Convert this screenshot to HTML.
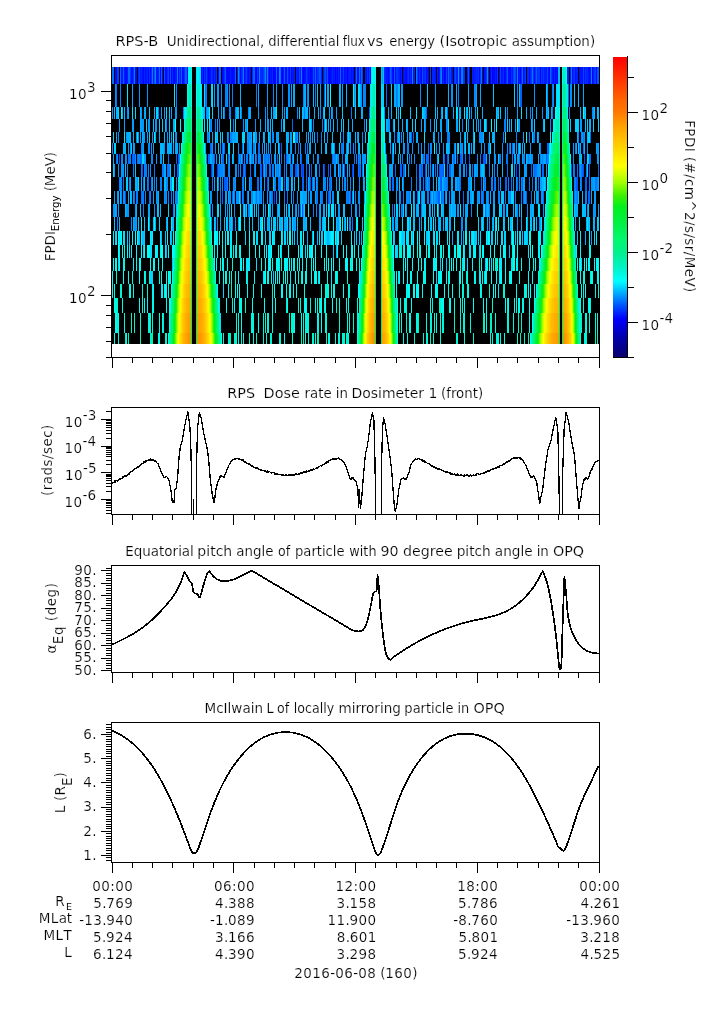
<!DOCTYPE html><html><head><meta charset="utf-8"><title>RPS-B plot</title>
<style>html,body{margin:0;padding:0;background:#fff;}svg{display:block;}text{white-space:pre;font-variant-ligatures:none;font-family:'DejaVu Sans', 'Liberation Sans', sans-serif;fill:#000;stroke:#fff;stroke-width:0.18px;}.sm{stroke:none;}</style></head><body>
<svg style="will-change:transform" width="725" height="1019" viewBox="0 0 725 1019">
<rect width="725" height="1019" fill="#fff"/>
<rect x="112" y="67" width="487" height="277" fill="#000"/>
<path fill="#0072ff" d="M112 67h1v17h-1zM481 67h1v17h-1zM428 143h1v11h-1zM154 164h1v13h-1zM250 164h1v13h-1zM435 164h1v13h-1zM466 164h1v13h-1zM123 177h1v14h-1zM393 177h1v14h-1zM529 177h1v14h-1zM256 191h1v13h-1z"/>
<path fill="#0070ff" d="M113 67h1v17h-1zM312 177h1v14h-1z"/>
<path fill="#000fff" d="M115 67h1v17h-1zM312 67h1v17h-1zM516 67h1v17h-1zM575 67h1v17h-1z"/>
<path fill="#0007ff" d="M116 67h1v17h-1zM143 67h1v17h-1zM169 67h1v17h-1zM227 67h1v17h-1zM244 67h1v17h-1zM406 67h1v17h-1zM494 67h1v17h-1z"/>
<path fill="#003fff" d="M117 67h1v17h-1zM246 67h1v17h-1zM417 67h1v17h-1z"/>
<path fill="#0041ff" d="M118 67h1v17h-1zM595 67h1v17h-1z"/>
<path fill="#0064ff" d="M120 67h1v17h-1zM579 143h1v11h-1zM176 154h1v10h-1zM222 154h1v10h-1zM228 154h1v10h-1zM440 177h1v14h-1zM485 204h1v13h-1z"/>
<path fill="#0014ff" d="M121 67h1v17h-1zM142 67h1v17h-1zM157 67h1v17h-1zM512 67h1v17h-1zM556 67h1v17h-1zM590 67h1v17h-1z"/>
<path fill="#0017ff" d="M122 67h1v17h-1zM140 67h1v17h-1zM153 67h1v17h-1zM176 67h1v17h-1zM237 67h1v17h-1zM348 67h1v17h-1zM552 67h1v17h-1zM581 67h1v17h-1z"/>
<path fill="#005dff" d="M123 67h1v17h-1zM514 67h1v17h-1zM536 67h1v17h-1zM178 154h1v10h-1zM546 154h1v10h-1zM339 164h1v13h-1zM344 164h1v13h-1z"/>
<path fill="#001dff" d="M124 67h1v17h-1zM158 67h1v17h-1zM488 67h1v17h-1zM544 67h2v17h-2z"/>
<path fill="#000eff" d="M125 67h1v17h-1zM209 67h1v17h-1zM285 67h1v17h-1zM351 67h1v17h-1zM353 67h1v17h-1zM366 67h1v17h-1zM368 67h1v17h-1z"/>
<path fill="#0009ff" d="M126 67h1v17h-1zM135 67h1v17h-1zM182 67h1v17h-1zM187 67h1v17h-1zM228 67h1v17h-1zM274 67h1v17h-1zM418 67h1v17h-1z"/>
<path fill="#001aff" d="M127 67h1v17h-1zM175 67h1v17h-1zM230 67h1v17h-1zM270 67h1v17h-1zM297 67h1v17h-1zM309 67h1v17h-1zM323 67h1v17h-1zM355 67h1v17h-1zM387 67h1v17h-1z"/>
<path fill="#006bff" d="M128 67h1v17h-1zM568 84h1v23h-1zM214 154h1v10h-1zM353 164h1v13h-1zM395 164h1v13h-1zM472 164h1v13h-1zM542 164h2v13h-2z"/>
<path fill="#0068ff" d="M129 67h1v17h-1zM550 67h1v17h-1zM268 154h1v10h-1zM403 164h2v13h-2zM534 164h1v13h-1zM481 177h1v14h-1zM463 191h1v13h-1zM526 191h1v13h-1z"/>
<path fill="#0036ff" d="M130 67h1v17h-1zM204 67h1v17h-1zM257 67h1v17h-1zM318 67h1v17h-1zM397 67h1v17h-1zM541 67h1v17h-1zM574 67h1v17h-1z"/>
<path fill="#000dff" d="M131 67h1v17h-1zM162 67h1v17h-1zM226 67h1v17h-1zM231 67h1v17h-1zM271 67h1v17h-1zM308 67h1v17h-1zM442 67h1v17h-1zM484 67h1v17h-1zM501 67h1v17h-1zM582 67h1v17h-1z"/>
<path fill="#0011ff" d="M132 67h1v17h-1zM183 67h1v17h-1zM386 67h1v17h-1zM392 67h1v17h-1zM439 67h1v17h-1zM518 67h1v17h-1zM580 67h1v17h-1z"/>
<path fill="#002fff" d="M133 67h1v17h-1zM151 67h1v17h-1zM216 67h1v17h-1zM464 67h1v17h-1z"/>
<path fill="#007dff" d="M134 67h1v17h-1zM458 84h1v23h-1zM158 107h1v12h-1zM228 132h1v11h-1zM260 154h1v10h-1zM284 164h1v13h-1zM489 164h1v13h-1zM250 177h2v14h-2zM247 191h1v13h-1zM346 191h2v13h-2zM355 191h1v13h-1zM403 191h1v13h-1zM427 191h2v13h-2zM143 204h1v13h-1zM421 204h1v13h-1z"/>
<path fill="#0008ff" d="M136 67h1v17h-1zM250 67h1v17h-1zM286 67h1v17h-1zM395 67h1v17h-1zM400 67h1v17h-1zM445 67h1v17h-1zM505 67h1v17h-1zM555 67h1v17h-1z"/>
<path fill="#0024ff" d="M138 67h1v17h-1zM141 67h1v17h-1zM212 67h1v17h-1zM266 67h1v17h-1zM360 67h1v17h-1zM443 67h1v17h-1z"/>
<path fill="#003bff" d="M139 67h1v17h-1zM242 67h1v17h-1zM302 164h1v13h-1z"/>
<path fill="#0026ff" d="M144 67h1v17h-1zM385 67h1v17h-1z"/>
<path fill="#000cff" d="M145 67h1v17h-1zM178 67h1v17h-1zM210 67h1v17h-1zM275 67h1v17h-1zM281 67h1v17h-1zM341 67h1v17h-1zM452 67h1v17h-1zM534 67h1v17h-1z"/>
<path fill="#0018ff" d="M146 67h1v17h-1zM316 67h1v17h-1zM345 67h2v17h-2zM420 67h1v17h-1zM427 67h1v17h-1zM502 67h1v17h-1z"/>
<path fill="#0027ff" d="M147 67h1v17h-1zM172 67h1v17h-1zM241 67h1v17h-1zM398 67h1v17h-1z"/>
<path fill="#0001ff" d="M148 67h1v17h-1zM208 67h1v17h-1zM269 67h1v17h-1zM273 67h1v17h-1zM291 67h1v17h-1zM347 67h1v17h-1zM370 67h1v17h-1zM393 67h1v17h-1zM428 67h1v17h-1zM444 67h1v17h-1zM482 67h1v17h-1zM490 67h1v17h-1zM492 67h1v17h-1zM529 67h1v17h-1zM540 67h1v17h-1zM592 67h1v17h-1z"/>
<path fill="#0033ff" d="M149 67h1v17h-1zM317 67h1v17h-1zM535 67h1v17h-1z"/>
<path fill="#0005ff" d="M150 67h1v17h-1zM174 67h1v17h-1zM248 67h1v17h-1zM358 67h1v17h-1zM421 67h1v17h-1zM496 67h1v17h-1zM499 67h1v17h-1zM523 67h1v17h-1zM557 67h1v17h-1z"/>
<path fill="#0078ff" d="M152 67h1v17h-1zM416 67h1v17h-1zM116 84h1v23h-1zM211 143h1v11h-1zM263 164h1v13h-1zM579 164h1v13h-1zM447 177h1v14h-1zM581 177h1v14h-1zM284 191h1v13h-1zM409 191h1v13h-1zM515 191h1v13h-1zM574 191h1v13h-1z"/>
<path fill="#0050ff" d="M154 67h1v17h-1zM287 67h1v17h-1zM422 67h1v17h-1z"/>
<path fill="#0088ff" d="M155 67h1v17h-1zM282 84h1v23h-1zM592 107h1v12h-1zM121 154h1v10h-1zM267 154h1v10h-1zM335 154h1v10h-1zM443 154h1v10h-1zM547 154h2v10h-2zM309 177h1v14h-1zM350 177h1v14h-1zM259 191h2v13h-2zM488 191h1v13h-1zM517 204h1v13h-1z"/>
<path fill="#0015ff" d="M156 67h1v17h-1zM205 67h1v17h-1zM247 67h1v17h-1zM258 67h1v17h-1zM300 67h1v17h-1zM404 67h1v17h-1zM546 67h1v17h-1z"/>
<path fill="#0066ff" d="M159 67h1v17h-1zM219 67h1v17h-1zM340 67h1v17h-1zM448 67h1v17h-1zM242 143h1v11h-1zM427 154h2v10h-2zM400 164h2v13h-2zM582 164h1v13h-1zM588 191h2v13h-2z"/>
<path fill="#0002ff" d="M160 67h1v17h-1zM201 67h1v17h-1zM203 67h1v17h-1zM240 67h1v17h-1zM277 67h1v17h-1zM335 67h1v17h-1zM438 67h1v17h-1zM510 67h1v17h-1z"/>
<path fill="#005cff" d="M161 67h1v17h-1zM284 67h1v17h-1zM394 67h1v17h-1zM301 164h1v13h-1zM443 164h1v13h-1zM425 177h1v14h-1zM328 191h1v13h-1zM300 204h1v13h-1z"/>
<path fill="#004aff" d="M164 67h1v17h-1zM299 67h1v17h-1zM455 67h1v17h-1zM119 154h1v10h-1z"/>
<path fill="#000aff" d="M165 67h1v17h-1zM233 67h1v17h-1zM289 67h1v17h-1zM328 67h1v17h-1zM403 67h1v17h-1zM493 67h1v17h-1zM553 67h1v17h-1zM579 67h1v17h-1z"/>
<path fill="#0006ff" d="M166 67h1v17h-1zM218 67h1v17h-1zM232 67h1v17h-1zM255 67h1v17h-1zM311 67h1v17h-1zM330 67h1v17h-1zM339 67h1v17h-1zM469 67h1v17h-1zM504 67h1v17h-1zM589 67h1v17h-1z"/>
<path fill="#002dff" d="M167 67h1v17h-1zM202 67h1v17h-1zM573 67h1v17h-1z"/>
<path fill="#0048ff" d="M168 67h1v17h-1zM324 164h1v13h-1z"/>
<path fill="#0052ff" d="M170 67h1v17h-1zM320 67h1v17h-1zM589 164h1v13h-1z"/>
<path fill="#0004ff" d="M171 67h1v17h-1zM337 67h1v17h-1zM479 67h1v17h-1zM520 67h1v17h-1zM596 67h1v17h-1z"/>
<path fill="#000bff" d="M173 67h1v17h-1zM213 67h1v17h-1zM229 67h1v17h-1zM234 67h1v17h-1zM278 67h1v17h-1zM298 67h1v17h-1zM304 67h1v17h-1zM344 67h1v17h-1zM426 67h1v17h-1zM460 67h1v17h-1zM508 67h2v17h-2z"/>
<path fill="#007aff" d="M177 67h1v17h-1zM351 107h1v12h-1zM322 119h1v13h-1zM317 132h1v11h-1zM271 154h1v10h-1zM480 154h1v10h-1zM512 154h1v10h-1zM162 164h2v13h-2zM273 164h1v13h-1zM574 164h1v13h-1zM293 191h1v13h-1zM521 191h1v13h-1zM313 204h1v13h-1z"/>
<path fill="#003dff" d="M179 67h1v17h-1zM324 67h1v17h-1zM500 67h1v17h-1zM211 164h1v13h-1z"/>
<path fill="#001fff" d="M180 67h1v17h-1zM334 67h1v17h-1zM399 67h1v17h-1z"/>
<path fill="#0060ff" d="M181 67h1v17h-1zM235 67h1v17h-1zM509 143h1v11h-1z"/>
<path fill="#0030ff" d="M184 67h1v17h-1zM486 67h1v17h-1zM506 67h1v17h-1z"/>
<path fill="#005eff" d="M185 67h1v17h-1zM390 67h1v17h-1zM324 84h1v23h-1zM444 154h1v10h-1zM178 164h1v13h-1zM296 164h1v13h-1zM586 177h1v14h-1zM441 191h1v13h-1z"/>
<path fill="#0065ff" d="M186 67h1v17h-1zM256 154h1v10h-1zM286 154h1v10h-1zM454 154h1v10h-1zM460 154h2v10h-2zM265 164h1v13h-1z"/>
<path fill="#00f2ff" d="M188 67h1v17h-1zM198 67h1v17h-1zM230 119h1v13h-1zM546 191h1v13h-1zM333 217h1v14h-1zM342 217h1v14h-1zM113 231h1v14h-1zM120 231h1v14h-1zM505 245h1v13h-1zM529 258h1v13h-1zM539 258h1v13h-1zM217 284h1v14h-1z"/>
<path fill="#00fcf0" d="M189 67h1v17h-1zM562 67h1v17h-1zM381 132h1v11h-1zM116 258h1v13h-1z"/>
<path fill="#00f8e3" d="M190 67h1v17h-1zM370 107h1v12h-1zM567 107h1v12h-1zM381 143h1v11h-1zM569 143h1v11h-1zM389 204h1v13h-1zM223 258h1v13h-1zM311 258h1v13h-1zM448 271h2v13h-2zM462 271h1v13h-1zM164 284h1v14h-1zM346 298h1v15h-1zM430 298h1v15h-1zM238 313h1v20h-1zM416 313h2v20h-2zM279 333h2v11h-2z"/>
<path fill="#00faff" d="M191 67h1v17h-1zM375 67h1v17h-1zM434 143h1v11h-1zM313 231h1v14h-1zM155 245h2v13h-2zM307 245h1v13h-1zM315 258h1v13h-1zM361 258h1v13h-1zM290 284h1v14h-1z"/>
<path fill="#00e4ff" d="M196 67h1v17h-1zM567 84h1v23h-1zM204 119h1v13h-1zM325 119h1v13h-1zM428 217h1v14h-1zM160 231h1v14h-1zM360 271h1v13h-1z"/>
<path fill="#00f7ff" d="M197 67h1v17h-1zM180 119h1v13h-1zM272 231h1v14h-1zM217 245h1v13h-1zM326 245h1v13h-1zM428 245h1v13h-1zM490 245h1v13h-1zM576 245h1v13h-1zM113 258h1v13h-1zM406 284h1v14h-1z"/>
<path fill="#00ebff" d="M199 67h1v17h-1zM121 107h1v12h-1zM141 231h1v14h-1zM300 231h1v14h-1zM447 231h1v14h-1zM131 245h1v13h-1z"/>
<path fill="#00e0ff" d="M200 67h1v17h-1zM384 119h1v13h-1zM459 119h1v13h-1zM505 132h1v11h-1zM328 204h1v13h-1zM484 204h1v13h-1zM407 217h2v14h-2zM119 231h1v14h-1zM301 231h1v14h-1z"/>
<path fill="#0043ff" d="M206 67h1v17h-1zM450 67h1v17h-1zM352 164h1v13h-1z"/>
<path fill="#0019ff" d="M207 67h1v17h-1zM283 67h1v17h-1zM292 67h1v17h-1zM294 67h1v17h-1zM365 67h1v17h-1z"/>
<path fill="#0035ff" d="M211 67h1v17h-1zM478 67h1v17h-1zM497 67h1v17h-1zM539 67h1v17h-1z"/>
<path fill="#0029ff" d="M214 67h1v17h-1zM245 67h1v17h-1zM332 67h1v17h-1zM384 67h1v17h-1z"/>
<path fill="#0013ff" d="M215 67h1v17h-1zM223 67h1v17h-1zM333 67h1v17h-1zM435 67h1v17h-1zM447 67h1v17h-1zM584 67h1v17h-1z"/>
<path fill="#0061ff" d="M220 67h1v17h-1zM253 67h1v17h-1zM276 67h1v17h-1zM520 84h2v23h-2zM413 132h1v11h-1zM132 154h1v10h-1zM301 154h1v10h-1zM328 164h1v13h-1zM505 177h2v14h-2z"/>
<path fill="#0003ff" d="M222 67h1v17h-1zM282 67h1v17h-1zM303 67h1v17h-1zM329 67h1v17h-1zM549 67h1v17h-1z"/>
<path fill="#0031ff" d="M224 67h1v17h-1zM408 67h1v17h-1zM585 67h1v17h-1z"/>
<path fill="#0054ff" d="M225 67h1v17h-1zM439 164h1v13h-1zM302 204h1v13h-1z"/>
<path fill="#0084ff" d="M238 67h1v17h-1zM462 67h1v17h-1zM303 84h1v23h-1zM517 84h1v23h-1zM229 107h2v12h-2zM136 132h1v11h-1zM175 132h1v11h-1zM394 132h1v11h-1zM247 154h1v10h-1zM249 154h1v10h-1zM290 154h1v10h-1zM528 154h1v10h-1zM297 164h2v13h-2zM119 177h1v14h-1zM426 177h1v14h-1zM459 177h1v14h-1zM242 191h1v13h-1zM482 191h1v13h-1zM585 191h2v13h-2z"/>
<path fill="#0047ff" d="M239 67h1v17h-1zM391 67h1v17h-1zM515 67h1v17h-1z"/>
<path fill="#007fff" d="M243 67h1v17h-1zM301 67h1v17h-1zM441 67h1v17h-1zM225 84h2v23h-2zM396 84h1v23h-1zM219 119h1v13h-1zM550 119h1v13h-1zM533 132h2v11h-2zM407 143h2v11h-2zM432 164h1v13h-1zM411 177h1v14h-1zM508 177h1v14h-1zM143 191h1v13h-1zM442 191h2v13h-2zM577 191h1v13h-1zM401 204h1v13h-1zM117 217h1v14h-1z"/>
<path fill="#001bff" d="M249 67h1v17h-1zM336 67h1v17h-1zM401 67h1v17h-1zM437 67h1v17h-1zM472 67h1v17h-1z"/>
<path fill="#002bff" d="M252 67h1v17h-1zM261 67h1v17h-1zM338 67h1v17h-1zM449 67h1v17h-1zM521 67h1v17h-1zM528 67h1v17h-1z"/>
<path fill="#0063ff" d="M254 67h1v17h-1zM369 107h1v12h-1zM238 154h1v10h-1zM277 154h1v10h-1zM311 164h1v13h-1zM342 164h1v13h-1z"/>
<path fill="#0000ff" d="M256 67h1v17h-1zM310 67h1v17h-1zM388 67h1v17h-1z"/>
<path fill="#0085ff" d="M259 67h1v17h-1zM265 67h1v17h-1zM176 84h1v23h-1zM503 132h1v11h-1zM575 143h1v11h-1zM251 154h2v10h-2zM523 154h2v10h-2zM144 164h1v13h-1zM457 177h1v14h-1zM168 191h1v13h-1zM436 191h1v13h-1z"/>
<path fill="#002aff" d="M260 67h1v17h-1zM491 67h1v17h-1zM503 67h1v17h-1zM533 67h1v17h-1zM587 67h1v17h-1z"/>
<path fill="#0022ff" d="M262 67h1v17h-1zM414 67h1v17h-1zM433 67h2v17h-2zM456 67h1v17h-1zM524 67h1v17h-1zM576 67h1v17h-1z"/>
<path fill="#003aff" d="M263 67h1v17h-1zM306 67h1v17h-1zM343 67h1v17h-1zM525 67h1v17h-1zM531 67h1v17h-1z"/>
<path fill="#0058ff" d="M264 67h1v17h-1zM319 67h1v17h-1zM134 154h1v10h-1zM469 154h1v10h-1zM531 164h1v13h-1zM585 177h1v14h-1z"/>
<path fill="#0083ff" d="M267 67h1v17h-1zM235 107h1v12h-1zM552 107h1v12h-1zM321 132h1v11h-1zM141 143h1v11h-1zM247 143h1v11h-1zM253 143h2v11h-2zM244 154h1v10h-1zM244 164h1v13h-1zM419 164h1v13h-1zM227 177h1v14h-1zM495 177h1v14h-1zM321 191h1v13h-1z"/>
<path fill="#002eff" d="M268 67h1v17h-1zM454 67h1v17h-1zM511 67h1v17h-1z"/>
<path fill="#0025ff" d="M272 67h1v17h-1zM326 67h1v17h-1zM432 67h1v17h-1zM459 67h1v17h-1zM527 67h1v17h-1zM554 67h1v17h-1z"/>
<path fill="#0089ff" d="M279 67h1v17h-1zM412 67h1v17h-1zM487 67h1v17h-1zM183 107h1v12h-1zM569 107h1v12h-1zM446 119h2v13h-2zM462 119h1v13h-1zM138 154h2v10h-2zM246 154h1v10h-1zM334 154h1v10h-1zM477 154h1v10h-1zM220 164h2v13h-2zM240 164h1v13h-1zM243 177h1v14h-1zM260 177h1v14h-1zM344 177h1v14h-1zM390 177h1v14h-1zM121 191h1v13h-1zM238 191h1v13h-1zM263 191h1v13h-1zM276 191h1v13h-1zM510 191h1v13h-1z"/>
<path fill="#006dff" d="M280 67h1v17h-1zM222 143h1v11h-1zM284 154h1v10h-1zM332 154h1v10h-1zM590 154h1v10h-1zM306 164h1v13h-1zM323 164h1v13h-1zM306 177h1v14h-1zM494 177h1v14h-1zM232 191h1v13h-1z"/>
<path fill="#001eff" d="M288 67h1v17h-1zM296 67h1v17h-1zM349 67h1v17h-1zM352 67h1v17h-1zM407 67h1v17h-1zM457 67h1v17h-1zM474 67h2v17h-2zM477 67h1v17h-1zM567 67h1v17h-1z"/>
<path fill="#003eff" d="M290 67h1v17h-1zM369 67h1v17h-1z"/>
<path fill="#0012ff" d="M293 67h1v17h-1zM302 67h1v17h-1zM305 67h1v17h-1zM331 67h1v17h-1zM342 67h1v17h-1zM357 67h1v17h-1zM409 67h1v17h-1zM588 67h1v17h-1z"/>
<path fill="#0023ff" d="M307 67h1v17h-1zM350 67h1v17h-1zM424 67h1v17h-1z"/>
<path fill="#0046ff" d="M313 67h1v17h-1z"/>
<path fill="#0021ff" d="M314 67h1v17h-1zM321 67h1v17h-1zM568 67h1v17h-1z"/>
<path fill="#0062ff" d="M315 67h1v17h-1zM356 67h1v17h-1zM547 143h2v11h-2zM449 164h2v13h-2zM438 191h2v13h-2z"/>
<path fill="#004fff" d="M325 67h1v17h-1zM468 67h1v17h-1z"/>
<path fill="#0051ff" d="M327 67h1v17h-1zM597 67h1v17h-1z"/>
<path fill="#006eff" d="M359 67h1v17h-1zM258 143h2v11h-2zM208 154h2v10h-2zM280 164h1v13h-1zM447 164h1v13h-1zM507 164h1v13h-1zM329 177h2v14h-2zM141 191h1v13h-1zM222 191h1v13h-1zM543 191h1v13h-1z"/>
<path fill="#006aff" d="M361 67h1v17h-1zM522 67h1v17h-1zM583 143h1v11h-1zM423 154h1v10h-1zM177 164h1v13h-1zM522 177h1v14h-1zM483 191h1v13h-1z"/>
<path fill="#003cff" d="M362 67h1v17h-1zM430 67h1v17h-1zM274 191h1v13h-1z"/>
<path fill="#0032ff" d="M367 67h1v17h-1z"/>
<path fill="#00eeff" d="M371 67h1v17h-1zM456 107h1v12h-1zM466 119h1v13h-1zM411 204h1v13h-1zM433 217h1v14h-1zM454 217h1v14h-1zM338 231h1v14h-1zM538 231h1v14h-1zM157 245h1v13h-1zM230 245h1v13h-1zM238 271h1v13h-1z"/>
<path fill="#00fdf6" d="M372 67h1v17h-1zM196 84h1v23h-1zM496 217h1v14h-1zM303 231h1v14h-1zM529 231h2v14h-2zM148 245h1v13h-1zM580 258h1v13h-1zM596 258h2v13h-2zM112 271h1v13h-1zM286 284h1v14h-1z"/>
<path fill="#00fae9" d="M373 67h1v17h-1zM205 154h1v10h-1zM573 217h1v14h-1zM254 231h1v14h-1zM513 231h1v14h-1zM413 245h1v13h-1zM434 245h1v13h-1zM306 258h1v13h-1zM481 258h1v13h-1zM514 258h1v13h-1zM274 284h1v14h-1zM396 284h1v14h-1zM152 298h2v15h-2zM441 298h1v15h-1zM486 298h1v15h-1zM522 298h2v15h-2zM162 313h1v20h-1zM317 313h1v20h-1zM397 333h1v11h-1z"/>
<path fill="#00f8e1" d="M374 67h1v17h-1zM222 231h1v14h-1zM391 231h1v14h-1zM417 245h1v13h-1zM426 245h1v13h-1zM359 258h1v13h-1zM521 258h1v13h-1zM159 271h1v13h-1zM229 271h1v13h-1zM328 284h1v14h-1zM348 284h1v14h-1zM405 298h2v15h-2zM590 298h1v15h-1zM401 313h1v20h-1zM440 313h1v20h-1z"/>
<path fill="#00bfff" d="M381 67h1v17h-1zM559 67h1v17h-1zM442 107h1v12h-1zM270 119h1v13h-1zM283 119h1v13h-1zM585 119h1v13h-1zM441 132h1v11h-1zM359 143h1v11h-1zM232 154h1v10h-1zM125 164h1v13h-1zM278 204h1v13h-1zM500 204h2v13h-2zM588 204h1v13h-1zM138 217h1v14h-1zM161 231h1v14h-1zM354 231h1v14h-1z"/>
<path fill="#009fff" d="M382 67h1v17h-1zM267 84h1v23h-1zM133 119h1v13h-1zM330 119h1v13h-1zM480 119h1v13h-1zM518 119h2v13h-2zM143 132h2v11h-2zM256 132h1v11h-1zM143 143h1v11h-1zM268 143h1v11h-1zM270 143h1v11h-1zM489 154h1v10h-1zM540 177h2v14h-2zM479 191h1v13h-1zM494 191h1v13h-1zM126 204h1v13h-1zM531 204h1v13h-1z"/>
<path fill="#00c0ff" d="M383 67h1v17h-1zM339 84h1v23h-1zM240 107h1v12h-1zM423 107h1v12h-1zM445 107h1v12h-1zM341 119h1v13h-1zM473 119h1v13h-1zM482 164h2v13h-2zM582 191h1v13h-1zM343 204h2v13h-2zM142 231h2v14h-2z"/>
<path fill="#001cff" d="M389 67h1v17h-1zM423 67h1v17h-1zM467 67h1v17h-1zM495 67h1v17h-1zM519 67h1v17h-1zM570 67h1v17h-1zM577 67h1v17h-1z"/>
<path fill="#0034ff" d="M396 67h1v17h-1zM543 67h1v17h-1z"/>
<path fill="#0010ff" d="M405 67h1v17h-1zM411 67h1v17h-1zM413 67h1v17h-1zM485 67h1v17h-1zM572 67h1v17h-1z"/>
<path fill="#002cff" d="M410 67h1v17h-1zM419 67h1v17h-1zM476 67h1v17h-1z"/>
<path fill="#0037ff" d="M425 67h1v17h-1zM463 67h1v17h-1z"/>
<path fill="#006cff" d="M440 67h1v17h-1zM386 84h1v23h-1zM426 107h1v12h-1zM411 132h1v11h-1zM590 132h1v11h-1zM298 143h1v11h-1zM512 143h1v11h-1zM223 154h1v10h-1zM426 154h1v10h-1zM440 164h3v13h-3zM498 177h1v14h-1zM538 177h1v14h-1z"/>
<path fill="#0044ff" d="M446 67h1v17h-1z"/>
<path fill="#0016ff" d="M451 67h1v17h-1zM473 67h1v17h-1zM548 67h1v17h-1z"/>
<path fill="#008fff" d="M458 67h1v17h-1zM324 119h1v13h-1zM532 119h1v13h-1zM343 143h1v11h-1zM436 143h1v11h-1zM488 143h1v11h-1zM179 154h1v10h-1zM338 154h1v10h-1zM235 164h2v13h-2zM349 164h1v13h-1zM171 177h1v14h-1zM314 177h1v14h-1zM389 177h1v14h-1zM123 191h1v13h-1zM164 191h1v13h-1zM236 191h1v13h-1zM326 191h1v13h-1zM527 204h1v13h-1zM461 217h2v14h-2z"/>
<path fill="#0076ff" d="M461 67h1v17h-1zM295 132h2v11h-2zM168 154h1v10h-1zM264 154h2v10h-2zM359 154h1v10h-1zM465 154h1v10h-1zM535 164h1v13h-1zM577 164h1v13h-1zM428 177h1v14h-1zM430 191h1v13h-1z"/>
<path fill="#0038ff" d="M480 67h1v17h-1zM538 67h1v17h-1zM594 67h1v17h-1z"/>
<path fill="#0057ff" d="M507 67h1v17h-1zM483 154h3v10h-3zM303 164h1v13h-1zM421 164h1v13h-1z"/>
<path fill="#0045ff" d="M513 67h1v17h-1zM547 67h1v17h-1z"/>
<path fill="#0080ff" d="M517 67h1v17h-1zM206 84h1v23h-1zM224 107h1v12h-1zM233 119h1v13h-1zM313 119h1v13h-1zM386 154h1v10h-1zM540 154h1v10h-1zM145 164h2v13h-2zM147 177h1v14h-1zM574 177h2v14h-2zM271 191h1v13h-1zM317 191h1v13h-1z"/>
<path fill="#0028ff" d="M530 67h1v17h-1zM537 67h1v17h-1z"/>
<path fill="#0079ff" d="M532 67h1v17h-1zM315 84h1v23h-1zM215 119h1v13h-1zM341 143h2v11h-2zM137 154h1v10h-1zM281 154h1v10h-1zM499 154h2v10h-2zM506 154h2v10h-2zM141 164h1v13h-1zM290 164h2v13h-2zM573 164h1v13h-1zM581 164h1v13h-1zM278 177h2v14h-2zM595 177h2v14h-2zM433 191h1v13h-1zM505 191h1v13h-1z"/>
<path fill="#0020ff" d="M542 67h1v17h-1zM586 67h1v17h-1zM593 67h1v17h-1z"/>
<path fill="#0039ff" d="M551 67h1v17h-1z"/>
<path fill="#00b6ff" d="M558 67h1v17h-1zM240 84h1v23h-1zM286 107h1v12h-1zM332 132h1v11h-1zM170 143h1v11h-1zM346 154h2v10h-2zM486 154h1v10h-1zM120 191h1v13h-1zM483 204h1v13h-1zM267 217h1v14h-1zM449 217h1v14h-1zM166 245h1v13h-1z"/>
<path fill="#00f1b4" d="M563 67h1v17h-1zM181 154h1v10h-1zM559 154h1v10h-1zM171 298h1v15h-1zM528 333h1v11h-1z"/>
<path fill="#00f2c2" d="M564 67h1v17h-1zM366 177h1v14h-1zM575 258h1v13h-1zM457 333h1v11h-1z"/>
<path fill="#00f6da" d="M565 67h1v17h-1zM375 107h1v12h-1zM382 119h1v13h-1zM177 204h1v13h-1zM231 245h1v13h-1zM504 284h1v14h-1zM124 313h1v20h-1zM306 313h1v20h-1zM253 333h1v11h-1zM346 333h1v11h-1zM427 333h1v11h-1zM496 333h3v11h-3zM585 333h2v11h-2z"/>
<path fill="#00ffff" d="M566 67h1v17h-1zM135 231h1v14h-1zM161 245h2v13h-2zM222 245h1v13h-1zM517 245h1v13h-1zM541 245h1v13h-1zM158 258h1v13h-1zM168 271h1v13h-1zM302 271h1v13h-1zM315 271h1v13h-1zM403 271h1v13h-1zM530 284h1v14h-1z"/>
<path fill="#0075ff" d="M571 67h1v17h-1zM355 143h1v11h-1zM128 154h2v10h-2zM342 154h1v10h-1zM360 164h1v13h-1zM280 177h1v14h-1zM484 177h1v14h-1zM511 177h1v14h-1zM134 191h1v13h-1zM329 191h1v13h-1zM392 204h1v13h-1z"/>
<path fill="#0042ff" d="M583 67h1v17h-1zM516 164h1v13h-1z"/>
<path fill="#007eff" d="M591 67h1v17h-1zM120 84h1v23h-1zM210 119h1v13h-1zM519 154h1v10h-1zM133 164h1v13h-1zM224 164h1v13h-1zM272 164h1v13h-1zM420 164h1v13h-1zM129 177h1v14h-1zM489 204h1v13h-1z"/>
<path fill="#0059ff" d="M598 67h1v17h-1zM261 164h1v13h-1zM295 164h1v13h-1zM267 177h1v14h-1zM284 177h1v14h-1zM576 177h2v14h-2z"/>
<path fill="#008aff" d="M115 84h1v23h-1zM273 84h1v23h-1zM343 132h1v11h-1zM362 132h1v11h-1zM397 132h1v11h-1zM443 143h1v11h-1zM540 143h1v11h-1zM130 154h1v10h-1zM151 154h2v10h-2zM258 154h1v10h-1zM337 154h1v10h-1zM542 154h1v10h-1zM127 164h1v13h-1zM430 164h1v13h-1zM154 177h1v14h-1zM166 177h2v14h-2zM274 177h2v14h-2zM145 191h1v13h-1zM175 191h3v13h-3zM445 191h1v13h-1zM154 204h1v13h-1z"/>
<path fill="#00e9ff" d="M127 84h1v23h-1zM207 119h1v13h-1zM474 132h1v11h-1zM490 143h1v11h-1zM150 231h1v14h-1zM419 231h1v14h-1zM331 271h1v13h-1z"/>
<path fill="#00a4ff" d="M132 84h1v23h-1zM128 107h1v12h-1zM273 107h1v12h-1zM311 119h1v13h-1zM393 119h1v13h-1zM133 132h1v11h-1zM147 132h1v11h-1zM232 132h3v11h-3zM249 143h2v11h-2zM395 143h1v11h-1zM489 143h1v11h-1zM522 154h1v10h-1zM541 154h1v10h-1zM390 164h3v13h-3zM153 191h1v13h-1zM233 191h1v13h-1z"/>
<path fill="#0096ff" d="M139 84h1v23h-1zM147 84h1v23h-1zM337 119h1v13h-1zM584 132h1v11h-1zM353 143h1v11h-1zM362 154h3v10h-3zM422 154h1v10h-1zM531 154h2v10h-2zM459 164h2v13h-2zM484 164h1v13h-1zM120 177h1v14h-1zM261 177h1v14h-1zM513 177h1v14h-1zM173 191h1v13h-1zM237 191h1v13h-1zM308 191h1v13h-1zM265 204h1v13h-1z"/>
<path fill="#00e7ff" d="M174 84h1v23h-1zM458 143h1v11h-1zM171 217h1v14h-1zM225 231h1v14h-1zM457 231h2v14h-2zM270 245h1v13h-1zM436 245h1v13h-1zM528 245h1v13h-1zM279 258h1v13h-1zM498 284h1v14h-1z"/>
<path fill="#00fbec" d="M187 84h1v23h-1zM210 217h1v14h-1zM124 245h1v13h-1zM443 245h1v13h-1zM220 258h1v13h-1zM235 284h1v14h-1zM468 284h1v14h-1zM536 284h1v14h-1zM218 298h1v15h-1zM357 333h1v11h-1zM580 333h1v11h-1z"/>
<path fill="#00f2c9" d="M188 84h1v23h-1zM372 84h1v23h-1zM551 143h1v11h-1zM546 204h1v13h-1zM572 204h1v13h-1zM495 258h2v13h-2zM590 271h1v13h-1zM272 284h1v14h-1zM289 313h1v20h-1zM406 313h1v20h-1zM491 313h1v20h-1zM580 313h2v20h-2zM249 333h1v11h-1z"/>
<path fill="#00f1b3" d="M189 84h1v23h-1zM556 119h1v13h-1zM375 132h1v11h-1zM393 271h1v13h-1zM172 284h1v14h-1zM396 298h1v15h-1z"/>
<path fill="#00f1a6" d="M190 84h1v23h-1z"/>
<path fill="#00faeb" d="M191 84h1v23h-1zM556 107h1v12h-1zM369 119h1v13h-1zM552 132h1v11h-1zM385 154h1v10h-1zM207 177h1v14h-1zM208 191h1v13h-1zM149 245h1v13h-1zM590 245h1v13h-1zM586 258h1v13h-1zM589 258h1v13h-1zM581 284h1v14h-1zM442 298h1v15h-1zM449 298h2v15h-2z"/>
<path fill="#00f2c1" d="M197 84h1v23h-1zM559 143h1v11h-1zM394 284h1v14h-1z"/>
<path fill="#00f2ca" d="M198 84h1v23h-1zM531 333h1v11h-1z"/>
<path fill="#00f6d9" d="M199 84h1v23h-1zM463 258h1v13h-1zM301 271h1v13h-1zM337 271h1v13h-1zM467 284h1v14h-1zM481 284h1v14h-1zM583 284h1v14h-1zM595 284h1v14h-1zM300 298h1v15h-1zM492 298h1v15h-1zM305 313h1v20h-1zM440 333h1v11h-1z"/>
<path fill="#00fbee" d="M200 84h1v23h-1zM375 84h1v23h-1zM383 119h1v13h-1zM281 231h1v14h-1zM122 245h1v13h-1zM278 245h1v13h-1zM270 258h1v13h-1zM225 271h1v13h-1zM254 271h1v13h-1zM114 284h1v14h-1zM247 284h1v14h-1zM422 284h1v14h-1zM328 333h1v11h-1z"/>
<path fill="#00eaff" d="M201 84h1v23h-1zM308 204h1v13h-1zM460 204h1v13h-1zM545 204h1v13h-1zM410 217h1v14h-1zM587 217h1v14h-1zM216 231h1v14h-1zM230 231h2v14h-2zM574 231h1v14h-1zM161 284h2v14h-2z"/>
<path fill="#00d9ff" d="M204 84h1v23h-1zM324 107h1v12h-1zM457 107h1v12h-1zM228 143h2v11h-2zM367 143h1v11h-1zM549 143h1v11h-1zM142 154h2v10h-2zM217 177h1v14h-1zM261 217h1v14h-1zM478 217h1v14h-1zM115 231h1v14h-1zM433 231h1v14h-1zM543 231h1v14h-1z"/>
<path fill="#0067ff" d="M205 84h1v23h-1zM453 154h1v10h-1zM260 164h1v13h-1zM148 177h1v14h-1zM257 177h1v14h-1zM302 177h2v14h-2z"/>
<path fill="#00d2ff" d="M211 84h1v23h-1zM585 107h1v12h-1zM412 119h1v13h-1zM339 143h1v11h-1zM159 217h1v14h-1zM143 245h1v13h-1z"/>
<path fill="#00ddff" d="M212 84h1v23h-1zM358 84h2v23h-2zM166 107h1v12h-1zM138 177h1v14h-1zM217 204h2v13h-2zM244 204h1v13h-1zM250 204h2v13h-2zM260 217h1v14h-1zM541 217h1v14h-1zM579 217h1v14h-1zM406 231h1v14h-1zM256 258h1v13h-1z"/>
<path fill="#009dff" d="M214 84h1v23h-1zM276 84h1v23h-1zM384 107h1v12h-1zM119 119h1v13h-1zM478 119h1v13h-1zM580 119h2v13h-2zM460 143h1v11h-1zM518 143h1v11h-1zM160 154h1v10h-1zM529 154h1v10h-1zM497 164h1v13h-1zM473 191h1v13h-1zM575 191h1v13h-1zM406 204h1v13h-1z"/>
<path fill="#009eff" d="M217 84h2v23h-2zM281 119h1v13h-1zM486 119h1v13h-1zM515 119h1v13h-1zM140 132h1v11h-1zM290 132h2v11h-2zM312 132h1v11h-1zM216 154h1v10h-1zM365 154h1v10h-1zM255 164h1v13h-1zM117 191h1v13h-1zM210 191h1v13h-1zM536 191h1v13h-1zM227 204h1v13h-1zM277 204h1v13h-1zM355 204h1v13h-1zM486 204h1v13h-1zM284 217h1v14h-1z"/>
<path fill="#0093ff" d="M221 84h1v23h-1zM112 107h1v12h-1zM127 107h1v12h-1zM141 107h1v12h-1zM388 119h2v13h-2zM207 132h1v11h-1zM357 132h1v11h-1zM142 143h1v11h-1zM164 143h1v11h-1zM215 143h1v11h-1zM286 143h1v11h-1zM350 143h1v11h-1zM286 164h1v13h-1zM288 177h1v14h-1zM157 191h1v13h-1zM166 191h1v13h-1zM320 191h1v13h-1zM358 191h2v13h-2zM587 204h1v13h-1zM489 217h1v14h-1z"/>
<path fill="#0098ff" d="M227 84h1v23h-1zM553 84h1v23h-1zM471 107h1v12h-1zM138 132h1v11h-1zM212 143h1v11h-1zM412 143h1v11h-1zM530 143h1v11h-1zM494 154h2v10h-2zM277 164h1v13h-1zM235 177h1v14h-1zM345 177h1v14h-1zM114 204h1v13h-1zM135 204h1v13h-1zM212 204h1v13h-1z"/>
<path fill="#008bff" d="M229 84h1v23h-1zM420 84h1v23h-1zM530 107h1v12h-1zM166 119h1v13h-1zM358 154h1v10h-1zM148 164h1v13h-1zM533 164h1v13h-1zM324 177h1v14h-1zM444 177h2v14h-2zM538 191h1v13h-1zM576 191h1v13h-1zM131 217h1v14h-1z"/>
<path fill="#0082ff" d="M232 84h1v23h-1zM241 107h1v12h-1zM320 107h1v12h-1zM112 143h1v11h-1zM248 143h1v11h-1zM305 143h1v11h-1zM266 154h1v10h-1zM402 154h1v10h-1zM448 154h1v10h-1zM212 164h1v13h-1zM276 164h1v13h-1zM331 177h1v14h-1zM136 191h2v13h-2zM142 191h1v13h-1zM165 191h1v13h-1zM171 191h1v13h-1zM437 191h1v13h-1zM481 191h1v13h-1z"/>
<path fill="#007cff" d="M256 84h1v23h-1zM552 84h1v23h-1zM583 132h1v11h-1zM206 154h1v10h-1zM218 164h2v13h-2zM586 164h1v13h-1zM317 177h1v14h-1zM419 177h1v14h-1zM446 177h1v14h-1z"/>
<path fill="#00aaff" d="M258 84h1v23h-1zM327 84h1v23h-1zM394 84h2v23h-2zM398 107h1v12h-1zM453 107h1v12h-1zM407 119h1v13h-1zM440 119h2v13h-2zM494 119h1v13h-1zM315 143h1v11h-1zM469 164h2v13h-2zM228 191h1v13h-1zM533 204h1v13h-1zM133 217h1v14h-1zM149 217h1v14h-1zM258 217h1v14h-1zM392 217h1v14h-1zM463 231h1v14h-1z"/>
<path fill="#0092ff" d="M288 84h2v23h-2zM451 84h2v23h-2zM246 119h1v13h-1zM290 143h1v11h-1zM346 143h1v11h-1zM421 143h1v11h-1zM269 154h1v10h-1zM287 154h2v10h-2zM333 154h1v10h-1zM411 154h1v10h-1zM229 164h1v13h-1zM452 164h1v13h-1zM476 164h1v13h-1zM359 177h1v14h-1zM211 191h1v13h-1zM229 191h2v13h-2zM414 191h1v13h-1zM541 191h1v13h-1zM298 204h1v13h-1zM430 204h1v13h-1zM543 204h1v13h-1z"/>
<path fill="#00a3ff" d="M291 84h1v23h-1zM282 107h1v12h-1zM441 107h1v12h-1zM171 132h1v11h-1zM235 132h1v11h-1zM403 132h1v11h-1zM514 143h1v11h-1zM221 154h1v10h-1zM400 154h1v10h-1zM543 154h1v10h-1zM539 164h1v13h-1zM316 177h1v14h-1zM452 177h1v14h-1zM257 191h1v13h-1zM453 191h2v13h-2zM288 204h1v13h-1zM319 217h2v14h-2zM393 217h1v14h-1zM421 217h1v14h-1z"/>
<path fill="#00aeff" d="M293 84h2v23h-2zM314 107h1v12h-1zM460 107h1v12h-1zM482 107h1v12h-1zM551 107h1v12h-1zM386 119h2v13h-2zM476 119h1v13h-1zM163 143h1v11h-1zM538 154h1v10h-1zM483 177h1v14h-1zM537 191h1v13h-1zM115 204h1v13h-1zM320 204h1v13h-1zM575 204h3v13h-3zM277 217h1v14h-1z"/>
<path fill="#00adff" d="M304 84h2v23h-2zM456 84h1v23h-1zM127 132h2v11h-2zM494 132h1v11h-1zM173 143h1v11h-1zM309 143h1v11h-1zM455 143h1v11h-1zM520 143h1v11h-1zM210 154h2v10h-2zM345 154h1v10h-1zM426 164h1v13h-1zM141 177h1v14h-1zM308 177h1v14h-1zM439 177h1v14h-1zM545 177h1v14h-1zM591 191h1v13h-1zM453 204h3v13h-3zM264 217h1v14h-1zM533 217h1v14h-1z"/>
<path fill="#0086ff" d="M307 84h1v23h-1zM363 84h3v23h-3zM248 107h1v12h-1zM454 143h1v11h-1zM300 154h1v10h-1zM266 164h1v13h-1zM330 164h1v13h-1zM428 164h1v13h-1zM208 177h1v14h-1zM519 177h1v14h-1zM449 191h1v13h-1zM245 204h1v13h-1zM316 204h1v13h-1zM471 204h1v13h-1z"/>
<path fill="#0099ff" d="M308 84h1v23h-1zM164 107h1v12h-1zM284 107h1v12h-1zM141 119h3v13h-3zM155 119h1v13h-1zM430 119h1v13h-1zM167 132h1v11h-1zM134 143h1v11h-1zM179 143h1v11h-1zM464 143h1v11h-1zM360 154h1v10h-1zM392 154h2v10h-2zM597 154h2v10h-2zM137 177h1v14h-1zM420 177h1v14h-1zM261 191h1v13h-1zM508 191h2v13h-2zM524 191h2v13h-2z"/>
<path fill="#00bbff" d="M313 84h1v23h-1zM346 84h1v23h-1zM546 107h1v12h-1zM165 119h1v13h-1zM302 119h1v13h-1zM324 132h1v11h-1zM355 132h1v11h-1zM446 143h3v11h-3zM286 177h1v14h-1zM402 177h1v14h-1zM410 191h1v13h-1zM269 204h1v13h-1zM519 204h1v13h-1zM532 204h1v13h-1zM584 204h2v13h-2zM224 217h1v14h-1zM129 231h1v14h-1z"/>
<path fill="#00c6ff" d="M317 84h1v23h-1zM519 84h1v23h-1zM574 84h1v23h-1zM410 107h1v12h-1zM435 107h1v12h-1zM169 119h1v13h-1zM340 132h1v11h-1zM365 132h1v11h-1zM243 143h1v11h-1zM353 177h1v14h-1zM286 204h1v13h-1zM429 204h1v13h-1zM333 245h1v13h-1z"/>
<path fill="#009cff" d="M320 84h1v23h-1zM267 119h2v13h-2zM249 132h1v11h-1zM347 132h1v11h-1zM582 132h1v11h-1zM128 143h1v11h-1zM251 143h1v11h-1zM279 143h1v11h-1zM449 143h1v11h-1zM145 154h1v10h-1zM297 154h1v10h-1zM334 164h2v13h-2zM580 164h1v13h-1zM500 177h1v14h-1zM156 191h1v13h-1zM270 191h1v13h-1zM311 191h1v13h-1zM493 191h1v13h-1zM272 204h1v13h-1zM450 204h1v13h-1zM337 217h2v14h-2z"/>
<path fill="#00d8ff" d="M325 84h1v23h-1zM477 107h1v12h-1zM415 119h1v13h-1zM279 154h1v10h-1zM482 217h1v14h-1zM256 231h1v14h-1zM265 231h1v14h-1zM270 231h1v14h-1zM287 231h1v14h-1zM437 231h1v14h-1zM480 231h1v14h-1zM281 245h1v13h-1zM305 245h1v13h-1z"/>
<path fill="#00a5ff" d="M328 84h1v23h-1zM171 107h1v12h-1zM336 107h1v12h-1zM388 107h1v12h-1zM475 107h1v12h-1zM532 107h1v12h-1zM153 143h1v11h-1zM171 143h1v11h-1zM471 143h1v11h-1zM474 164h2v13h-2zM433 177h1v14h-1zM451 177h1v14h-1zM470 177h1v14h-1zM523 177h2v14h-2zM598 177h1v14h-1zM303 191h4v13h-4zM315 191h1v13h-1zM243 204h1v13h-1zM303 204h1v13h-1zM324 204h1v13h-1zM220 217h1v14h-1zM409 217h1v14h-1z"/>
<path fill="#00fef9" d="M330 84h1v23h-1zM219 231h1v14h-1zM465 231h2v14h-2zM144 245h1v13h-1zM312 245h1v13h-1zM494 245h1v13h-1zM589 245h1v13h-1zM297 258h1v13h-1zM324 258h1v13h-1zM405 258h1v13h-1zM486 258h2v13h-2zM170 271h1v13h-1zM495 284h1v14h-1zM264 298h1v15h-1zM508 298h1v15h-1z"/>
<path fill="#00a8ff" d="M340 84h1v23h-1zM583 84h1v23h-1zM159 132h1v11h-1zM259 132h1v11h-1zM460 132h1v11h-1zM274 154h1v10h-1zM530 154h1v10h-1zM164 164h2v13h-2zM340 164h1v13h-1zM313 177h1v14h-1zM455 177h2v14h-2zM225 204h1v13h-1zM394 204h1v13h-1zM452 204h1v13h-1zM540 217h1v14h-1z"/>
<path fill="#00a6ff" d="M342 84h1v23h-1zM468 84h1v23h-1zM497 107h1v12h-1zM265 119h1v13h-1zM133 143h1v11h-1zM205 143h1v11h-1zM439 143h1v11h-1zM513 143h1v11h-1zM253 154h1v10h-1zM514 154h2v10h-2zM518 154h1v10h-1zM477 164h1v13h-1zM214 177h1v14h-1zM292 177h1v14h-1zM363 177h1v14h-1zM225 191h2v13h-2zM323 204h1v13h-1zM238 217h1v14h-1zM295 217h1v14h-1zM521 217h1v14h-1zM307 231h1v14h-1z"/>
<path fill="#00f3ff" d="M353 84h1v23h-1zM240 217h1v14h-1zM356 217h2v14h-2zM227 231h2v14h-2zM262 231h1v14h-1zM489 231h1v14h-1zM302 258h1v13h-1zM532 271h1v13h-1zM153 284h1v14h-1zM166 284h1v14h-1zM234 298h1v15h-1z"/>
<path fill="#0095ff" d="M354 84h1v23h-1zM126 132h1v11h-1zM401 132h1v11h-1zM130 143h1v11h-1zM266 143h1v11h-1zM390 143h1v11h-1zM121 164h3v13h-3zM453 164h1v13h-1zM342 177h1v14h-1zM468 177h2v14h-2zM451 191h1v13h-1zM467 191h2v13h-2zM477 191h2v13h-2zM319 204h1v13h-1zM359 204h1v13h-1zM134 217h2v14h-2z"/>
<path fill="#00bcff" d="M355 84h1v23h-1zM114 107h1v12h-1zM237 107h2v12h-2zM275 107h1v12h-1zM272 119h1v13h-1zM333 119h1v13h-1zM169 132h1v11h-1zM255 143h1v11h-1zM287 143h1v11h-1zM433 164h1v13h-1zM339 177h1v14h-1zM471 177h1v14h-1zM140 204h1v13h-1zM422 204h1v13h-1zM172 217h2v14h-2zM227 217h1v14h-1zM252 217h1v14h-1zM310 217h1v14h-1zM483 217h1v14h-1zM139 231h1v14h-1z"/>
<path fill="#00a9ff" d="M360 84h1v23h-1zM476 84h1v23h-1zM480 84h1v23h-1zM207 107h2v12h-2zM218 107h1v12h-1zM221 107h1v12h-1zM331 107h1v12h-1zM245 119h1v13h-1zM270 132h1v11h-1zM278 132h1v11h-1zM175 143h1v11h-1zM510 143h1v11h-1zM502 154h1v10h-1zM408 164h1v13h-1zM438 177h1v14h-1zM459 191h1v13h-1zM148 204h2v13h-2zM174 204h1v13h-1zM438 217h1v14h-1zM450 217h1v14h-1zM487 217h1v14h-1z"/>
<path fill="#0091ff" d="M361 84h1v23h-1zM332 107h1v12h-1zM118 132h1v11h-1zM479 132h4v11h-4zM424 143h1v11h-1zM313 154h1v10h-1zM318 154h1v10h-1zM414 154h1v10h-1zM174 164h1v13h-1zM480 164h1v13h-1zM540 164h1v13h-1zM176 177h1v14h-1zM222 177h1v14h-1zM217 191h1v13h-1zM332 191h2v13h-2zM234 204h1v13h-1zM463 204h1v13h-1zM504 204h1v13h-1zM235 217h1v14h-1z"/>
<path fill="#00e8ff" d="M370 84h1v23h-1zM331 204h1v13h-1zM141 217h1v14h-1zM449 231h1v14h-1zM129 245h1v13h-1zM403 245h1v13h-1zM246 258h4v13h-4zM500 258h2v13h-2zM290 271h1v13h-1zM534 284h1v14h-1z"/>
<path fill="#00f9e6" d="M371 84h1v23h-1zM387 177h1v14h-1zM571 177h1v14h-1zM363 231h1v14h-1zM473 245h1v13h-1zM276 258h1v13h-1zM577 258h1v13h-1zM271 271h1v13h-1zM396 271h1v13h-1zM410 271h1v13h-1zM424 271h2v13h-2zM538 271h1v13h-1zM272 313h1v20h-1zM348 333h1v11h-1z"/>
<path fill="#00f1b7" d="M373 84h1v23h-1zM213 258h1v13h-1zM537 284h1v14h-1zM490 313h1v20h-1z"/>
<path fill="#00f1ac" d="M374 84h1v23h-1zM571 191h1v13h-1zM175 245h1v13h-1z"/>
<path fill="#00d6ff" d="M381 84h1v23h-1zM135 107h1v12h-1zM226 217h1v14h-1zM282 231h1v14h-1zM524 231h3v14h-3zM395 245h3v13h-3zM467 258h1v13h-1z"/>
<path fill="#00d1ff" d="M382 84h1v23h-1zM391 84h1v23h-1zM355 107h1v12h-1zM575 119h3v13h-3zM593 119h1v13h-1zM598 119h1v13h-1zM348 132h1v11h-1zM519 143h1v11h-1zM544 177h1v14h-1zM231 204h1v13h-1zM441 204h1v13h-1z"/>
<path fill="#00d5ff" d="M383 84h1v23h-1zM118 107h1v12h-1zM156 107h2v12h-2zM212 107h1v12h-1zM239 191h1v13h-1zM396 204h1v13h-1zM597 217h1v14h-1zM170 231h1v14h-1zM504 231h2v14h-2zM150 271h3v13h-3z"/>
<path fill="#008cff" d="M397 84h1v23h-1zM474 84h2v23h-2zM581 132h1v11h-1zM148 143h2v11h-2zM587 143h1v11h-1zM424 154h1v10h-1zM494 164h1v13h-1zM233 177h2v14h-2zM403 177h1v14h-1zM408 191h1v13h-1zM499 191h1v13h-1zM349 217h2v14h-2zM539 217h1v14h-1z"/>
<path fill="#00baff" d="M398 84h2v23h-2zM578 84h1v23h-1zM584 107h1v12h-1zM286 132h1v11h-1zM398 154h1v10h-1zM164 177h2v14h-2zM542 177h2v14h-2zM125 204h1v13h-1zM158 204h1v13h-1zM413 204h2v13h-2zM153 217h1v14h-1zM269 217h1v14h-1zM303 217h1v14h-1zM465 217h2v14h-2zM536 217h1v14h-1z"/>
<path fill="#009aff" d="M401 84h2v23h-2zM435 84h1v23h-1zM161 107h1v12h-1zM175 107h2v12h-2zM309 107h1v12h-1zM255 132h1v11h-1zM144 154h1v10h-1zM317 154h1v10h-1zM118 164h1v13h-1zM309 164h1v13h-1zM330 191h1v13h-1zM435 191h1v13h-1zM542 191h1v13h-1zM356 204h1v13h-1zM593 204h3v13h-3zM211 217h1v14h-1zM344 217h1v14h-1z"/>
<path fill="#00caff" d="M427 84h1v23h-1zM149 107h1v12h-1zM343 119h1v13h-1zM578 119h1v13h-1zM253 132h2v11h-2zM524 143h1v11h-1zM113 164h1v13h-1zM292 231h1v14h-1zM356 231h1v14h-1zM426 231h2v14h-2zM485 258h1v13h-1z"/>
<path fill="#00b7ff" d="M448 84h1v23h-1zM303 107h1v12h-1zM505 107h1v12h-1zM434 119h1v13h-1zM543 119h1v13h-1zM467 132h1v11h-1zM123 143h2v11h-2zM502 164h1v13h-1zM160 204h1v13h-1zM335 204h1v13h-1zM449 204h1v13h-1zM487 204h1v13h-1zM281 217h1v14h-1zM327 231h2v14h-2z"/>
<path fill="#00c5ff" d="M493 84h1v23h-1zM169 107h1v12h-1zM500 107h1v12h-1zM548 107h1v12h-1zM247 119h1v13h-1zM218 143h1v11h-1zM326 143h1v11h-1zM219 154h1v10h-1zM407 154h1v10h-1zM135 164h1v13h-1zM170 164h1v13h-1zM405 164h1v13h-1zM291 177h1v14h-1zM130 191h1v13h-1zM418 191h1v13h-1zM501 191h3v13h-3zM405 204h1v13h-1zM423 204h1v13h-1zM574 204h1v13h-1zM527 231h1v14h-1zM577 231h1v14h-1z"/>
<path fill="#00d0ff" d="M514 84h1v23h-1zM284 119h1v13h-1zM544 119h1v13h-1zM268 132h1v11h-1zM389 132h2v11h-2zM588 154h1v10h-1zM587 164h1v13h-1zM324 217h1v14h-1zM269 231h1v14h-1z"/>
<path fill="#009bff" d="M534 84h1v23h-1zM227 132h1v11h-1zM297 132h1v11h-1zM151 143h1v11h-1zM223 143h1v11h-1zM403 143h2v11h-2zM481 143h1v11h-1zM573 143h1v11h-1zM156 154h1v10h-1zM223 164h1v13h-1zM389 164h1v13h-1zM519 164h1v13h-1zM287 177h1v14h-1zM255 191h1v13h-1zM267 191h1v13h-1zM116 204h1v13h-1zM118 204h1v13h-1zM339 204h1v13h-1z"/>
<path fill="#00c9ff" d="M546 84h1v23h-1zM299 107h1v12h-1zM498 107h1v12h-1zM343 164h1v13h-1zM254 204h1v13h-1zM263 204h1v13h-1zM114 217h1v14h-1zM249 217h1v14h-1zM589 217h1v14h-1zM479 245h1v13h-1z"/>
<path fill="#0094ff" d="M547 84h1v23h-1zM570 84h2v23h-2zM258 107h1v12h-1zM211 119h1v13h-1zM502 143h1v11h-1zM597 143h1v11h-1zM117 154h1v10h-1zM135 154h1v10h-1zM437 164h1v13h-1zM464 164h1v13h-1zM323 177h1v14h-1zM591 177h2v14h-2zM349 191h1v13h-1zM351 204h1v13h-1zM457 204h2v13h-2z"/>
<path fill="#00dbff" d="M556 84h1v23h-1zM394 119h1v13h-1zM448 119h1v13h-1zM484 119h2v13h-2zM587 154h1v10h-1zM298 177h1v14h-1zM499 204h1v13h-1zM425 217h1v14h-1zM325 231h1v14h-1zM118 258h1v13h-1z"/>
<path fill="#00e6ff" d="M557 84h1v23h-1zM184 107h1v12h-1zM416 107h1v12h-1zM182 132h1v11h-1zM538 204h2v13h-2zM498 217h1v14h-1zM253 231h1v14h-1zM273 231h2v14h-2zM472 231h1v14h-1zM235 245h1v13h-1zM398 271h1v13h-1z"/>
<path fill="#00edff" d="M558 84h1v23h-1zM276 107h1v12h-1zM473 231h1v14h-1zM596 231h1v14h-1zM264 245h1v13h-1zM310 245h1v13h-1zM410 245h1v13h-1zM286 258h1v13h-1zM479 271h2v13h-2z"/>
<path fill="#00e1ff" d="M559 84h1v23h-1zM419 191h1v13h-1zM440 191h1v13h-1zM301 204h1v13h-1zM424 217h1v14h-1zM284 231h1v14h-1zM428 231h1v14h-1zM501 231h1v14h-1zM469 245h2v13h-2zM318 271h1v13h-1zM220 313h1v20h-1z"/>
<path fill="#00f7de" d="M562 84h1v23h-1zM196 107h1v12h-1zM203 132h1v11h-1zM486 271h1v13h-1zM133 284h1v14h-1zM168 284h1v14h-1zM304 284h1v14h-1zM116 298h1v15h-1zM307 313h1v20h-1zM397 313h1v20h-1zM243 333h1v11h-1zM403 333h1v11h-1z"/>
<path fill="#00f188" d="M563 84h1v23h-1zM373 107h1v12h-1zM186 119h1v13h-1zM196 164h1v13h-1z"/>
<path fill="#00f095" d="M564 84h1v23h-1zM191 143h1v11h-1zM549 177h1v14h-1z"/>
<path fill="#00f1af" d="M565 84h1v23h-1zM196 132h1v11h-1zM573 231h1v14h-1z"/>
<path fill="#00f5d7" d="M566 84h1v23h-1z"/>
<path fill="#00b9ff" d="M116 107h2v12h-2zM223 107h1v12h-1zM263 132h1v11h-1zM160 143h3v11h-3zM293 154h1v10h-1zM579 154h3v10h-3zM347 164h1v13h-1zM294 177h1v14h-1zM432 191h1v13h-1zM534 191h1v13h-1zM440 217h1v14h-1zM297 231h1v14h-1zM312 231h1v14h-1z"/>
<path fill="#00b8ff" d="M122 107h1v12h-1zM124 107h1v12h-1zM594 107h1v12h-1zM598 107h1v12h-1zM174 119h1v13h-1zM326 119h1v13h-1zM216 132h1v11h-1zM493 132h1v11h-1zM584 143h1v11h-1zM336 154h1v10h-1zM135 177h2v14h-2zM253 191h2v13h-2zM136 204h1v13h-1zM229 204h1v13h-1zM279 204h1v13h-1zM493 204h2v13h-2zM297 217h1v14h-1zM588 217h1v14h-1zM593 217h1v14h-1z"/>
<path fill="#00e5ff" d="M132 107h1v12h-1zM137 132h1v11h-1zM399 143h1v11h-1zM123 231h2v14h-2zM520 231h1v14h-1zM491 258h1v13h-1zM511 258h1v13h-1zM394 271h1v13h-1zM484 271h1v13h-1z"/>
<path fill="#00b2ff" d="M140 107h1v12h-1zM145 107h1v12h-1zM204 107h1v12h-1zM352 119h1v13h-1zM492 132h1v11h-1zM577 132h1v11h-1zM264 143h1v11h-1zM321 143h1v11h-1zM522 143h1v11h-1zM241 154h1v10h-1zM248 191h1v13h-1zM300 191h3v13h-3zM215 217h1v14h-1zM594 217h1v14h-1z"/>
<path fill="#00a7ff" d="M144 107h1v12h-1zM416 132h1v11h-1zM291 143h1v11h-1zM300 143h1v11h-1zM452 154h1v10h-1zM545 154h1v10h-1zM152 177h1v14h-1zM249 177h1v14h-1zM364 191h1v13h-1zM424 191h1v13h-1zM434 191h1v13h-1zM591 231h1v14h-1z"/>
<path fill="#00acff" d="M154 107h1v12h-1zM140 119h1v13h-1zM173 119h1v13h-1zM456 119h2v13h-2zM509 119h1v13h-1zM349 132h2v11h-2zM407 132h1v11h-1zM473 132h1v11h-1zM113 154h1v10h-1zM263 154h1v10h-1zM422 191h1v13h-1zM252 204h1v13h-1zM492 217h1v14h-1zM585 231h1v14h-1z"/>
<path fill="#00f8ff" d="M185 107h1v12h-1zM384 132h1v11h-1zM547 177h1v14h-1zM268 204h1v13h-1zM148 217h1v14h-1zM340 217h1v14h-1zM399 231h2v14h-2zM439 231h1v14h-1zM141 245h1v13h-1zM346 245h1v13h-1zM216 258h1v13h-1zM433 258h1v13h-1zM505 258h1v13h-1zM144 271h1v13h-1zM336 271h1v13h-1z"/>
<path fill="#00f3ce" d="M186 107h1v12h-1zM283 271h1v13h-1zM466 271h1v13h-1zM142 284h1v14h-1zM395 298h1v15h-1zM518 313h1v20h-1z"/>
<path fill="#00f1a7" d="M187 107h1v12h-1zM559 164h1v13h-1z"/>
<path fill="#00f08b" d="M188 107h1v12h-1zM389 217h1v14h-1zM360 298h1v15h-1z"/>
<path fill="#00f47f" d="M189 107h1v12h-1zM574 258h1v13h-1z"/>
<path fill="#00f577" d="M190 107h1v12h-1z"/>
<path fill="#00f5d4" d="M191 107h1v12h-1zM383 132h1v11h-1zM559 132h1v11h-1zM512 245h1v13h-1zM149 271h1v13h-1zM247 271h1v13h-1zM347 271h1v13h-1zM577 284h1v14h-1zM430 313h1v20h-1zM463 313h1v20h-1zM456 333h1v11h-1z"/>
<path fill="#00f187" d="M197 107h1v12h-1zM553 143h1v11h-1zM191 164h1v13h-1zM375 177h1v14h-1z"/>
<path fill="#00f08e" d="M198 107h1v12h-1zM555 132h1v11h-1zM375 164h1v13h-1zM211 245h1v13h-1zM215 284h1v14h-1zM395 313h1v20h-1z"/>
<path fill="#00f1a0" d="M199 107h1v12h-1zM385 164h1v13h-1zM206 177h1v14h-1zM363 245h1v13h-1z"/>
<path fill="#00f2ba" d="M200 107h1v12h-1zM361 271h1v13h-1zM418 313h1v20h-1z"/>
<path fill="#00f7df" d="M201 107h1v12h-1zM214 245h1v13h-1zM236 245h1v13h-1zM429 245h1v13h-1zM440 245h2v13h-2zM215 271h1v13h-1zM231 271h1v13h-1zM524 284h3v14h-3zM432 298h1v15h-1zM152 313h1v20h-1zM431 313h1v20h-1zM315 333h1v11h-1zM338 333h2v11h-2z"/>
<path fill="#00e2ff" d="M202 107h1v12h-1zM209 119h1v13h-1zM332 204h2v13h-2zM477 204h1v13h-1zM512 217h1v14h-1zM544 217h1v14h-1zM407 231h1v14h-1zM436 231h1v14h-1z"/>
<path fill="#00ceff" d="M203 107h1v12h-1zM342 107h1v12h-1zM159 119h1v13h-1zM131 143h1v11h-1zM126 177h2v14h-2zM168 204h1v13h-1zM167 217h1v14h-1zM491 231h2v14h-2z"/>
<path fill="#008dff" d="M206 107h1v12h-1zM297 107h1v12h-1zM507 107h1v12h-1zM250 132h1v11h-1zM272 132h2v11h-2zM438 132h1v11h-1zM238 143h1v11h-1zM385 143h1v11h-1zM392 143h1v11h-1zM461 143h2v11h-2zM484 143h1v11h-1zM507 143h1v11h-1zM122 154h1v10h-1zM126 154h1v10h-1zM255 154h1v10h-1zM218 177h1v14h-1zM220 177h1v14h-1zM396 177h2v14h-2zM485 177h1v14h-1zM133 191h1v13h-1zM406 191h2v13h-2zM210 204h1v13h-1zM295 204h1v13h-1zM217 217h1v14h-1z"/>
<path fill="#00f9ff" d="M209 107h1v12h-1zM132 231h1v14h-1zM337 231h1v14h-1zM351 231h1v14h-1zM136 245h1v13h-1zM311 245h1v13h-1zM580 245h1v13h-1zM594 258h1v13h-1zM246 271h1v13h-1zM407 271h1v13h-1zM411 271h1v13h-1zM528 284h1v14h-1z"/>
<path fill="#00b3ff" d="M236 107h1v12h-1zM437 107h1v12h-1zM398 119h1v13h-1zM236 132h2v11h-2zM251 132h1v11h-1zM314 132h1v11h-1zM358 132h1v11h-1zM398 132h2v11h-2zM483 132h1v11h-1zM537 132h1v11h-1zM358 143h1v11h-1zM473 143h1v11h-1zM494 143h1v11h-1zM580 143h1v11h-1zM492 164h1v13h-1zM535 177h1v14h-1zM229 217h2v14h-2zM280 217h1v14h-1zM289 217h2v14h-2zM396 217h2v14h-2zM419 217h1v14h-1zM443 217h1v14h-1zM481 217h1v14h-1zM461 231h1v14h-1z"/>
<path fill="#00b0ff" d="M249 107h2v12h-2zM274 107h1v12h-1zM323 107h1v12h-1zM361 107h2v12h-2zM424 107h1v12h-1zM536 107h1v12h-1zM402 119h1v13h-1zM287 132h2v11h-2zM308 132h1v11h-1zM310 143h1v11h-1zM264 164h1v13h-1zM275 164h1v13h-1zM118 191h1v13h-1zM490 191h1v13h-1zM513 204h1v13h-1zM155 217h1v14h-1zM435 217h1v14h-1zM586 217h1v14h-1zM361 231h1v14h-1zM452 231h1v14h-1z"/>
<path fill="#0097ff" d="M265 107h1v12h-1zM148 119h2v13h-2zM156 119h1v13h-1zM468 119h1v13h-1zM152 132h1v11h-1zM327 132h1v11h-1zM331 143h1v11h-1zM516 143h1v11h-1zM161 154h1v10h-1zM514 164h1v13h-1zM537 164h2v13h-2zM327 177h1v14h-1zM516 177h1v14h-1zM536 177h1v14h-1zM124 191h1v13h-1zM486 191h2v13h-2zM127 204h2v13h-2zM503 204h1v13h-1zM232 217h1v14h-1zM395 217h1v14h-1z"/>
<path fill="#008eff" d="M267 107h1v12h-1zM248 132h1v11h-1zM220 143h1v11h-1zM212 154h1v10h-1zM306 154h2v10h-2zM356 154h1v10h-1zM573 154h1v10h-1zM292 164h1v13h-1zM463 164h1v13h-1zM121 177h1v14h-1zM580 177h1v14h-1zM597 177h1v14h-1zM251 191h2v13h-2zM421 191h1v13h-1zM113 204h1v13h-1z"/>
<path fill="#00bdff" d="M271 107h1v12h-1zM587 132h1v11h-1zM275 143h1v11h-1zM468 143h2v11h-2zM474 143h1v11h-1zM308 154h1v10h-1zM526 154h1v10h-1zM336 217h1v14h-1zM445 217h1v14h-1z"/>
<path fill="#00abff" d="M287 107h1v12h-1zM580 107h1v12h-1zM116 132h1v11h-1zM155 132h1v11h-1zM264 132h1v11h-1zM269 132h1v11h-1zM464 132h1v11h-1zM544 154h1v10h-1zM279 164h1v13h-1zM130 177h1v14h-1zM258 191h1v13h-1zM452 191h1v13h-1zM284 204h1v13h-1zM488 204h1v13h-1zM166 217h1v14h-1z"/>
<path fill="#00beff" d="M302 107h1v12h-1zM250 154h1v10h-1zM436 177h1v14h-1zM472 191h1v13h-1zM578 191h1v13h-1zM329 204h1v13h-1zM515 204h1v13h-1zM439 217h1v14h-1zM504 217h1v14h-1zM165 231h1v14h-1zM522 231h1v14h-1zM509 245h1v13h-1z"/>
<path fill="#0077ff" d="M304 107h1v12h-1zM240 154h1v10h-1zM242 177h1v14h-1zM423 177h1v14h-1zM589 177h1v14h-1zM269 191h1v13h-1z"/>
<path fill="#00b4ff" d="M305 107h3v12h-3zM466 107h1v12h-1zM328 119h1v13h-1zM531 119h1v13h-1zM142 132h1v11h-1zM125 143h1v11h-1zM539 143h1v11h-1zM455 154h1v10h-1zM131 191h1v13h-1zM417 204h2v13h-2zM317 231h1v14h-1zM336 245h1v13h-1z"/>
<path fill="#00b5ff" d="M318 107h1v12h-1zM391 107h1v12h-1zM424 119h1v13h-1zM129 132h2v11h-2zM209 132h1v11h-1zM170 177h1v14h-1zM158 191h1v13h-1zM442 204h2v13h-2zM530 204h1v13h-1zM119 217h1v14h-1zM430 217h1v14h-1zM171 231h1v14h-1z"/>
<path fill="#00a2ff" d="M329 107h1v12h-1zM593 107h1v12h-1zM124 119h1v13h-1zM247 132h1v11h-1zM276 132h2v11h-2zM306 132h1v11h-1zM310 132h1v11h-1zM434 132h1v11h-1zM523 132h1v11h-1zM239 154h1v10h-1zM213 164h1v13h-1zM336 177h1v14h-1zM427 177h1v14h-1zM443 177h1v14h-1zM114 191h1v13h-1zM431 191h1v13h-1zM438 204h1v13h-1zM465 204h2v13h-2zM516 204h1v13h-1zM598 204h1v13h-1zM136 217h1v14h-1zM286 217h1v14h-1z"/>
<path fill="#00f1b8" d="M371 107h1v12h-1zM383 143h1v11h-1zM169 333h1v11h-1z"/>
<path fill="#00f09a" d="M372 107h1v12h-1zM382 143h1v11h-1zM559 177h1v14h-1zM578 313h1v20h-1zM396 333h1v11h-1z"/>
<path fill="#00f380" d="M374 107h1v12h-1zM552 154h1v10h-1zM569 164h1v13h-1zM571 204h1v13h-1z"/>
<path fill="#00ecff" d="M381 107h1v12h-1zM508 217h1v14h-1zM526 217h1v14h-1zM580 231h1v14h-1zM268 245h2v13h-2zM133 258h1v13h-1zM293 258h1v13h-1zM425 258h1v13h-1z"/>
<path fill="#00fefb" d="M382 107h1v12h-1zM366 164h1v13h-1zM240 204h1v13h-1zM417 231h1v14h-1zM118 245h1v13h-1zM288 245h1v13h-1zM214 258h1v13h-1zM285 258h1v13h-1zM289 258h1v13h-1zM412 258h1v13h-1zM513 258h1v13h-1zM237 284h1v14h-1zM493 284h1v14h-1z"/>
<path fill="#00f4ff" d="M383 107h1v12h-1zM400 107h1v12h-1zM154 132h1v11h-1zM434 231h1v14h-1zM266 245h1v13h-1zM337 245h1v13h-1zM351 245h1v13h-1zM123 258h1v13h-1zM240 258h1v13h-1zM407 258h1v13h-1zM516 258h2v13h-2zM438 271h1v13h-1z"/>
<path fill="#00deff" d="M396 107h1v12h-1zM215 132h1v11h-1zM444 164h1v13h-1zM402 217h1v14h-1zM319 231h1v14h-1zM393 231h1v14h-1zM594 231h1v14h-1z"/>
<path fill="#00d4ff" d="M422 107h1v12h-1zM469 107h1v12h-1zM310 119h1v13h-1zM507 119h1v13h-1zM113 132h1v11h-1zM588 132h2v11h-2zM332 143h2v11h-2zM511 191h3v13h-3zM244 217h1v14h-1zM404 231h1v14h-1z"/>
<path fill="#00a0ff" d="M425 107h1v12h-1zM517 107h1v12h-1zM132 119h1v13h-1zM176 132h1v11h-1zM212 132h1v11h-1zM538 132h1v11h-1zM598 143h1v11h-1zM275 154h1v10h-1zM114 164h1v13h-1zM451 164h1v13h-1zM524 164h3v13h-3zM364 177h1v14h-1zM458 177h1v14h-1zM310 191h1v13h-1zM506 204h1v13h-1zM293 217h2v14h-2z"/>
<path fill="#00cfff" d="M446 107h1v12h-1zM222 132h1v11h-1zM278 143h1v11h-1zM245 177h1v14h-1zM304 204h1v13h-1zM399 204h1v13h-1zM507 204h1v13h-1zM287 217h1v14h-1zM341 231h1v14h-1zM403 231h1v14h-1z"/>
<path fill="#006fff" d="M447 107h1v12h-1zM167 164h1v13h-1zM243 164h1v13h-1zM392 177h1v14h-1zM460 177h1v14h-1zM149 191h1v13h-1zM272 191h1v13h-1z"/>
<path fill="#00b1ff" d="M459 107h1v12h-1zM526 107h1v12h-1zM260 119h1v13h-1zM589 119h2v13h-2zM299 132h1v11h-1zM433 132h1v11h-1zM176 143h2v11h-2zM348 143h1v11h-1zM481 164h1v13h-1zM442 177h1v14h-1zM446 191h1v13h-1zM270 204h1v13h-1zM467 204h1v13h-1zM322 217h1v14h-1z"/>
<path fill="#00e3ff" d="M464 107h1v12h-1zM124 132h1v11h-1zM424 132h1v11h-1zM178 177h1v14h-1zM116 231h1v14h-1zM333 231h1v14h-1zM408 231h1v14h-1zM165 245h1v13h-1zM464 245h1v13h-1zM462 258h1v13h-1zM263 271h1v13h-1zM499 271h1v13h-1z"/>
<path fill="#00c4ff" d="M467 107h1v12h-1zM217 132h1v11h-1zM489 132h1v11h-1zM457 143h1v11h-1zM421 154h1v10h-1zM144 177h1v14h-1zM451 204h1v13h-1zM292 217h1v14h-1zM306 217h1v14h-1zM362 217h1v14h-1zM431 217h1v14h-1zM447 217h1v14h-1zM530 217h1v14h-1zM598 217h1v14h-1zM336 231h1v14h-1zM412 231h1v14h-1z"/>
<path fill="#00c7ff" d="M496 107h1v12h-1zM362 143h1v11h-1zM399 177h1v14h-1zM279 191h1v13h-1zM157 204h1v13h-1zM246 204h1v13h-1zM144 217h1v14h-1zM359 231h1v14h-1zM172 258h1v13h-1z"/>
<path fill="#00dcff" d="M521 107h1v12h-1zM233 143h1v11h-1zM226 154h1v10h-1zM401 231h1v14h-1zM429 231h1v14h-1zM150 245h2v13h-2zM575 245h1v13h-1zM581 258h1v13h-1z"/>
<path fill="#0090ff" d="M542 107h1v12h-1zM243 119h1v13h-1zM255 119h1v13h-1zM425 119h1v13h-1zM262 143h1v11h-1zM334 143h1v11h-1zM430 143h2v11h-2zM125 154h1v10h-1zM213 154h1v10h-1zM150 164h1v13h-1zM156 177h1v14h-1zM268 177h1v14h-1zM297 191h1v13h-1zM352 191h1v13h-1zM517 217h1v14h-1z"/>
<path fill="#00a1ff" d="M547 107h1v12h-1zM217 119h1v13h-1zM421 119h1v13h-1zM409 132h2v11h-2zM418 143h1v11h-1zM596 143h1v11h-1zM229 154h1v10h-1zM233 154h1v10h-1zM517 154h1v10h-1zM527 154h1v10h-1zM546 164h1v13h-1zM229 177h1v14h-1zM264 177h1v14h-1zM593 177h2v14h-2zM396 191h1v13h-1zM399 191h1v13h-1zM470 191h2v13h-2zM594 191h2v13h-2zM258 204h1v13h-1zM296 204h1v13h-1zM338 204h1v13h-1zM416 204h1v13h-1zM268 217h1v14h-1zM575 217h1v14h-1z"/>
<path fill="#00fbff" d="M555 107h1v12h-1zM261 231h1v14h-1zM393 245h1v13h-1zM475 245h1v13h-1zM482 245h2v13h-2zM464 258h1v13h-1zM584 258h1v13h-1zM500 271h2v13h-2z"/>
<path fill="#00f7db" d="M557 107h1v12h-1zM124 258h1v13h-1zM294 258h1v13h-1zM460 258h1v13h-1zM357 298h1v15h-1zM404 298h1v15h-1zM513 313h1v20h-1zM500 333h1v11h-1z"/>
<path fill="#00f4d2" d="M558 107h1v12h-1zM419 245h1v13h-1zM232 258h1v13h-1zM232 298h1v15h-1zM270 333h2v11h-2zM517 333h1v11h-1z"/>
<path fill="#00fefd" d="M559 107h1v12h-1zM368 132h1v11h-1zM437 204h1v13h-1zM271 245h1v13h-1zM420 245h1v13h-1zM460 245h1v13h-1zM347 258h1v13h-1z"/>
<path fill="#00f3cc" d="M562 107h1v12h-1zM351 258h1v13h-1zM310 298h1v15h-1zM150 313h1v20h-1zM229 333h1v11h-1zM343 333h2v11h-2z"/>
<path fill="#00f76b" d="M563 107h1v12h-1z"/>
<path fill="#00f675" d="M564 107h1v12h-1zM382 154h1v10h-1zM368 164h1v13h-1zM562 217h1v14h-1zM392 271h1v13h-1z"/>
<path fill="#00f286" d="M565 107h1v12h-1zM170 333h1v11h-1z"/>
<path fill="#00f1aa" d="M566 107h1v12h-1zM191 132h1v11h-1zM562 132h1v11h-1zM384 154h1v10h-1zM365 204h1v13h-1zM318 333h1v11h-1z"/>
<path fill="#00fffd" d="M583 107h1v12h-1zM381 119h1v13h-1zM137 231h1v14h-1zM147 245h1v13h-1zM418 258h1v13h-1zM123 271h1v13h-1zM431 284h1v14h-1zM589 298h1v15h-1z"/>
<path fill="#00c3ff" d="M597 107h1v12h-1zM436 119h1v13h-1zM511 119h1v13h-1zM347 143h1v11h-1zM413 191h1v13h-1zM432 204h1v13h-1zM231 217h1v14h-1zM282 217h1v14h-1zM446 217h1v14h-1zM322 231h1v14h-1zM440 258h1v13h-1z"/>
<path fill="#00d3ff" d="M146 119h1v13h-1zM366 119h1v13h-1zM353 191h1v13h-1zM397 204h1v13h-1zM495 217h1v14h-1zM285 231h1v14h-1zM294 231h1v14h-1zM497 231h1v14h-1zM519 231h1v14h-1z"/>
<path fill="#00c2ff" d="M153 119h1v13h-1zM406 119h1v13h-1zM256 204h1v13h-1zM413 217h2v14h-2zM510 217h2v14h-2zM446 258h1v13h-1z"/>
<path fill="#00ccff" d="M162 119h1v13h-1zM534 119h1v13h-1zM149 132h1v11h-1zM465 132h1v11h-1zM465 143h1v11h-1zM281 177h2v14h-2zM214 217h1v14h-1zM339 217h1v14h-1zM345 217h1v14h-1zM127 231h1v14h-1zM144 231h1v14h-1zM511 231h1v14h-1zM515 231h1v14h-1zM273 271h1v13h-1z"/>
<path fill="#00fffe" d="M175 119h1v13h-1zM328 217h1v14h-1zM249 231h1v14h-1zM512 231h1v14h-1zM127 245h1v13h-1zM172 245h2v13h-2zM139 258h2v13h-2zM359 271h1v13h-1zM459 271h1v13h-1zM511 271h1v13h-1zM332 298h1v15h-1z"/>
<path fill="#00f9e7" d="M184 119h1v13h-1zM302 245h1v13h-1zM339 258h1v13h-1zM403 258h1v13h-1zM132 271h1v13h-1zM314 271h1v13h-1zM306 298h1v15h-1zM426 313h1v20h-1zM329 333h1v11h-1z"/>
<path fill="#00f1b0" d="M185 119h1v13h-1zM539 271h1v13h-1zM151 333h2v11h-2z"/>
<path fill="#00f773" d="M187 119h1v13h-1zM199 119h1v13h-1zM207 204h1v13h-1zM208 217h1v14h-1zM209 231h1v14h-1zM381 245h1v13h-1z"/>
<path fill="#00f663" d="M188 119h1v13h-1zM566 132h1v11h-1zM569 177h1v14h-1zM365 231h1v14h-1zM390 245h1v13h-1zM191 258h1v13h-1zM196 258h1v13h-1zM375 271h1v13h-1zM562 271h1v13h-1zM559 284h1v14h-1zM215 298h1v15h-1z"/>
<path fill="#00f357" d="M189 119h1v13h-1zM545 245h1v13h-1z"/>
<path fill="#00f250" d="M190 119h1v13h-1zM369 164h1v13h-1zM179 217h1v14h-1zM548 217h1v14h-1zM392 284h1v14h-1zM217 333h1v11h-1z"/>
<path fill="#00f2bf" d="M191 119h1v13h-1zM381 164h1v13h-1zM512 258h1v13h-1zM140 333h1v11h-1z"/>
<path fill="#00f2c6" d="M196 119h1v13h-1zM375 119h1v13h-1zM549 164h1v13h-1zM570 164h1v13h-1zM548 177h1v14h-1zM364 217h1v14h-1zM147 284h1v14h-1zM216 284h1v14h-1zM360 284h1v14h-1z"/>
<path fill="#00f55e" d="M197 119h1v13h-1zM200 132h1v11h-1zM184 143h1v11h-1zM551 177h1v14h-1zM559 298h1v15h-1z"/>
<path fill="#00f666" d="M198 119h1v13h-1zM576 298h1v15h-1zM171 333h1v11h-1z"/>
<path fill="#00f285" d="M200 119h1v13h-1zM567 132h1v11h-1zM181 164h1v13h-1zM575 271h1v13h-1zM394 298h1v15h-1z"/>
<path fill="#00f1a8" d="M201 119h1v13h-1zM541 258h1v13h-1z"/>
<path fill="#00f6db" d="M202 119h1v13h-1zM160 245h1v13h-1zM169 271h1v13h-1zM324 298h1v15h-1zM293 313h1v20h-1zM347 313h1v20h-1zM460 313h1v20h-1z"/>
<path fill="#00d7ff" d="M235 119h1v13h-1zM242 132h3v11h-3zM114 143h2v11h-2zM438 154h1v10h-1zM511 164h2v13h-2zM534 217h1v14h-1zM245 231h1v14h-1zM471 231h1v14h-1zM223 284h1v14h-1z"/>
<path fill="#0069ff" d="M292 119h1v13h-1zM210 143h1v11h-1zM140 154h2v10h-2zM598 164h1v13h-1zM417 191h1v13h-1z"/>
<path fill="#00cdff" d="M309 119h1v13h-1zM587 119h1v13h-1zM220 132h1v11h-1zM578 143h1v11h-1zM163 154h1v10h-1zM498 154h1v10h-1zM363 164h1v13h-1zM292 204h1v13h-1zM403 204h1v13h-1zM274 217h2v14h-2zM325 217h1v14h-1zM503 217h1v14h-1zM326 231h1v14h-1zM402 231h1v14h-1zM487 231h1v14h-1zM436 271h1v13h-1z"/>
<path fill="#00c1ff" d="M348 119h1v13h-1zM164 132h1v11h-1zM532 132h1v11h-1zM338 164h1v13h-1zM176 204h1v13h-1zM424 204h2v13h-2zM521 204h1v13h-1zM582 204h2v13h-2zM493 217h1v14h-1z"/>
<path fill="#0087ff" d="M364 119h1v13h-1zM230 132h2v11h-2zM449 132h1v11h-1zM516 132h1v11h-1zM295 143h1v11h-1zM292 154h1v10h-1zM462 154h1v10h-1zM325 177h1v14h-1zM347 177h1v14h-1zM416 177h1v14h-1zM474 177h1v14h-1zM521 177h1v14h-1zM234 191h1v13h-1zM400 191h1v13h-1zM498 191h1v13h-1zM248 204h2v13h-2z"/>
<path fill="#00f1b2" d="M370 119h1v13h-1zM567 119h1v13h-1zM303 333h1v11h-1zM326 333h1v11h-1z"/>
<path fill="#00f189" d="M371 119h1v13h-1zM390 231h1v14h-1z"/>
<path fill="#00f676" d="M372 119h1v13h-1zM558 132h1v11h-1zM191 204h1v13h-1zM375 217h1v14h-1z"/>
<path fill="#00f768" d="M373 119h1v13h-1zM565 119h1v13h-1zM386 191h1v13h-1zM541 271h1v13h-1z"/>
<path fill="#00f55f" d="M374 119h1v13h-1zM556 143h1v11h-1zM211 258h1v13h-1zM174 284h1v14h-1zM375 284h1v14h-1zM562 284h1v14h-1zM536 313h1v20h-1z"/>
<path fill="#00fefc" d="M491 119h1v13h-1zM496 119h1v13h-1zM517 119h1v13h-1zM568 119h1v13h-1zM549 154h1v10h-1zM488 231h1v14h-1zM589 231h1v14h-1zM265 258h1v13h-1zM352 258h1v13h-1zM436 258h1v13h-1zM277 271h1v13h-1zM272 298h1v15h-1zM287 298h1v15h-1zM530 333h1v11h-1z"/>
<path fill="#0081ff" d="M504 119h2v13h-2zM208 132h1v11h-1zM447 132h2v11h-2zM578 132h1v11h-1zM259 154h1v10h-1zM222 164h1v13h-1zM228 164h1v13h-1zM278 164h1v13h-1zM143 177h1v14h-1zM151 177h1v14h-1zM160 177h2v14h-2zM429 177h1v14h-1zM491 177h2v14h-2zM150 191h1v13h-1zM240 191h1v13h-1zM173 204h1v13h-1z"/>
<path fill="#00efff" d="M553 119h1v13h-1zM572 191h1v13h-1zM152 231h1v14h-1zM228 284h1v14h-1z"/>
<path fill="#00f9e4" d="M554 119h1v13h-1zM388 191h1v13h-1zM176 217h1v14h-1zM168 245h1v13h-1zM284 258h1v13h-1zM291 258h1v13h-1zM299 258h1v13h-1zM267 271h1v13h-1zM437 284h1v14h-1zM149 313h1v20h-1zM495 313h1v20h-1zM579 313h1v20h-1zM597 313h1v20h-1zM114 333h1v11h-1z"/>
<path fill="#00f2c7" d="M555 119h1v13h-1zM550 154h1v10h-1zM547 191h1v13h-1zM336 298h1v15h-1zM439 298h2v15h-2zM353 313h1v20h-1z"/>
<path fill="#00f1a5" d="M557 119h1v13h-1zM554 132h1v11h-1zM392 258h1v13h-1z"/>
<path fill="#00f19d" d="M558 119h1v13h-1zM204 154h1v10h-1zM551 154h1v10h-1zM381 191h1v13h-1z"/>
<path fill="#00fae8" d="M559 119h1v13h-1zM204 143h1v11h-1zM386 164h1v13h-1zM316 271h1v13h-1zM112 284h1v14h-1zM239 298h3v15h-3zM339 298h1v15h-1z"/>
<path fill="#00f2bb" d="M562 119h1v13h-1zM347 333h1v11h-1zM597 333h1v11h-1z"/>
<path fill="#00f14a" d="M563 119h1v13h-1zM199 132h1v11h-1zM567 154h1v10h-1z"/>
<path fill="#00f355" d="M564 119h1v13h-1zM568 164h1v13h-1zM366 217h1v14h-1zM212 271h1v13h-1zM559 333h1v11h-1z"/>
<path fill="#00f382" d="M566 119h1v13h-1zM556 132h1v11h-1zM196 177h1v14h-1zM212 258h1v13h-1zM216 298h1v15h-1z"/>
<path fill="#00c8ff" d="M570 119h1v13h-1zM273 177h1v14h-1zM279 217h1v14h-1zM323 217h1v14h-1zM531 217h1v14h-1zM321 231h1v14h-1zM394 231h1v14h-1z"/>
<path fill="#00f5ff" d="M173 132h1v11h-1zM570 154h1v10h-1zM179 164h1v13h-1zM167 231h1v14h-1zM495 231h1v14h-1zM517 231h1v14h-1zM539 231h2v14h-2zM538 245h1v13h-1zM472 258h1v13h-1z"/>
<path fill="#00f2c8" d="M183 132h1v11h-1zM414 333h1v11h-1z"/>
<path fill="#00f092" d="M184 132h1v11h-1zM368 154h1v10h-1zM547 204h1v13h-1zM546 217h1v14h-1zM364 231h1v14h-1zM545 231h1v14h-1zM577 298h1v15h-1z"/>
<path fill="#00f674" d="M185 132h1v11h-1zM549 191h1v13h-1zM178 217h1v14h-1zM559 231h1v14h-1zM363 258h1v13h-1zM537 298h1v15h-1z"/>
<path fill="#00f45b" d="M186 132h1v11h-1zM375 298h1v15h-1zM562 298h1v15h-1z"/>
<path fill="#00f047" d="M187 132h1v11h-1zM182 177h1v14h-1z"/>
<path fill="#00f039" d="M188 132h1v11h-1zM541 284h1v14h-1z"/>
<path fill="#00f02f" d="M189 132h1v11h-1zM202 164h1v13h-1zM212 284h1v14h-1zM538 313h1v20h-1z"/>
<path fill="#00f029" d="M190 132h1v11h-1zM540 298h1v15h-1zM173 333h1v11h-1z"/>
<path fill="#00f034" d="M197 132h1v11h-1zM200 143h1v11h-1zM536 333h1v11h-1z"/>
<path fill="#00f03c" d="M198 132h1v11h-1zM374 132h1v11h-1zM386 204h1v13h-1zM176 271h1v13h-1zM215 313h1v20h-1z"/>
<path fill="#00f578" d="M201 132h1v11h-1zM217 313h1v20h-1z"/>
<path fill="#00f19e" d="M202 132h1v11h-1zM543 245h1v13h-1zM218 313h1v20h-1zM532 333h1v11h-1z"/>
<path fill="#00fdf5" d="M293 132h1v11h-1zM259 245h1v13h-1zM407 245h2v13h-2zM243 258h1v13h-1zM489 258h1v13h-1zM460 271h1v13h-1zM591 271h2v13h-2zM281 284h1v14h-1zM444 284h1v14h-1zM505 298h1v15h-1zM518 298h2v15h-2zM258 313h1v20h-1zM168 333h1v11h-1z"/>
<path fill="#00fdff" d="M294 132h1v11h-1zM347 217h1v14h-1zM255 245h1v13h-1zM321 245h1v13h-1zM393 258h1v13h-1zM139 271h1v13h-1zM282 284h1v14h-1z"/>
<path fill="#00f1b5" d="M369 132h1v11h-1z"/>
<path fill="#00f284" d="M370 132h1v11h-1zM369 143h1v11h-1zM383 154h1v10h-1zM562 177h1v14h-1zM559 204h1v13h-1zM540 271h1v13h-1zM361 284h1v14h-1zM171 313h1v20h-1z"/>
<path fill="#00f769" d="M371 132h1v11h-1zM555 143h1v11h-1zM210 245h1v13h-1zM395 333h1v11h-1z"/>
<path fill="#00f353" d="M372 132h1v11h-1zM558 143h1v11h-1zM570 204h1v13h-1zM573 258h1v13h-1zM540 284h1v14h-1z"/>
<path fill="#00f044" d="M373 132h1v11h-1zM571 231h1v14h-1zM209 245h1v13h-1zM214 298h1v15h-1z"/>
<path fill="#00f2b9" d="M382 132h1v11h-1z"/>
<path fill="#00afff" d="M417 132h1v11h-1zM167 143h3v11h-3zM325 143h1v11h-1zM576 143h1v11h-1zM289 154h1v10h-1zM437 154h1v10h-1zM315 164h2v13h-2zM128 191h1v13h-1zM291 191h1v13h-1zM423 191h1v13h-1zM220 204h1v13h-1zM434 204h1v13h-1zM285 217h1v14h-1zM304 217h2v14h-2zM527 217h1v14h-1z"/>
<path fill="#00fcff" d="M526 132h1v11h-1zM364 204h1v13h-1zM315 245h1v13h-1zM404 245h1v13h-1zM503 245h2v13h-2zM513 245h2v13h-2zM345 258h1v13h-1zM440 271h2v13h-2z"/>
<path fill="#0073ff" d="M529 132h1v11h-1zM116 154h1v10h-1zM238 164h1v13h-1zM269 164h2v13h-2zM358 164h1v13h-1zM362 164h1v13h-1zM422 164h1v13h-1zM517 177h1v14h-1zM287 191h1v13h-1zM316 191h1v13h-1zM322 191h1v13h-1zM531 191h1v13h-1z"/>
<path fill="#00f1ff" d="M550 132h1v11h-1zM172 177h2v14h-2zM331 231h2v14h-2zM119 245h1v13h-1zM358 245h1v13h-1zM435 258h1v13h-1zM293 284h1v14h-1zM147 298h1v15h-1z"/>
<path fill="#00f2c3" d="M553 132h1v11h-1zM454 313h1v20h-1zM256 333h1v11h-1z"/>
<path fill="#00f57b" d="M557 132h1v11h-1zM551 164h1v13h-1z"/>
<path fill="#00f02b" d="M563 132h1v11h-1zM184 164h1v13h-1zM206 217h1v14h-1zM207 231h1v14h-1zM572 258h1v13h-1zM364 271h1v13h-1z"/>
<path fill="#00f036" d="M564 132h1v11h-1zM555 164h1v13h-1zM553 177h1v14h-1zM211 271h1v13h-1z"/>
<path fill="#00f048" d="M565 132h1v11h-1zM552 177h1v14h-1zM367 204h1v13h-1zM391 271h1v13h-1zM360 333h1v11h-1zM577 333h1v11h-1z"/>
<path fill="#00f2c4" d="M568 132h1v11h-1zM479 258h1v13h-1zM483 313h2v20h-2zM533 313h1v20h-1zM150 333h1v11h-1z"/>
<path fill="#00fbef" d="M181 143h1v11h-1zM384 143h1v11h-1zM175 231h1v14h-1zM136 258h1v13h-1zM272 258h1v13h-1zM328 258h1v13h-1zM421 258h1v13h-1zM397 298h1v15h-1zM411 298h1v15h-1zM514 298h1v15h-1zM580 298h1v15h-1zM301 313h1v20h-1zM586 313h1v20h-1z"/>
<path fill="#00f1ab" d="M182 143h1v11h-1z"/>
<path fill="#00f47d" d="M183 143h1v11h-1zM175 258h1v13h-1zM393 284h1v14h-1z"/>
<path fill="#00f043" d="M185 143h1v11h-1zM184 154h1v10h-1zM544 258h1v13h-1zM173 313h1v20h-1z"/>
<path fill="#00f02e" d="M186 143h1v11h-1zM203 177h1v14h-1zM384 191h1v13h-1zM181 204h1v13h-1zM367 217h1v14h-1zM388 231h1v14h-1z"/>
<path fill="#02f01d" d="M187 143h1v11h-1zM372 154h1v10h-1zM550 217h1v14h-1zM362 313h1v20h-1z"/>
<path fill="#1df00f" d="M188 143h1v11h-1z"/>
<path fill="#30f006" d="M189 143h1v11h-1zM374 154h1v10h-1zM551 217h1v14h-1z"/>
<path fill="#3cf000" d="M190 143h1v11h-1zM570 245h1v13h-1zM362 333h1v11h-1zM575 333h1v11h-1z"/>
<path fill="#00f099" d="M196 143h1v11h-1zM562 143h1v11h-1zM386 177h1v14h-1z"/>
<path fill="#29f00a" d="M197 143h1v11h-1z"/>
<path fill="#18f012" d="M198 143h1v11h-1z"/>
<path fill="#00f021" d="M199 143h1v11h-1zM547 245h1v13h-1zM390 271h1v13h-1z"/>
<path fill="#00f24e" d="M201 143h1v11h-1z"/>
<path fill="#00f870" d="M202 143h1v11h-1zM385 177h1v14h-1zM179 204h1v13h-1zM547 217h1v14h-1zM375 231h1v14h-1zM562 231h1v14h-1z"/>
<path fill="#00f19c" d="M203 143h1v11h-1zM399 313h1v20h-1z"/>
<path fill="#0071ff" d="M224 143h1v11h-1zM133 154h1v10h-1zM242 154h1v10h-1zM589 154h1v10h-1zM416 164h1v13h-1zM243 191h1v13h-1zM348 191h1v13h-1zM523 191h1v13h-1z"/>
<path fill="#0053ff" d="M281 143h1v11h-1zM142 164h1v13h-1zM245 164h1v13h-1zM310 177h1v14h-1z"/>
<path fill="#007bff" d="M307 143h1v11h-1zM409 154h1v10h-1zM430 154h1v10h-1zM168 164h2v13h-2zM254 164h1v13h-1zM536 164h1v13h-1zM212 177h1v14h-1zM220 191h1v13h-1zM402 204h1v13h-1z"/>
<path fill="#00f2c0" d="M368 143h1v11h-1zM319 298h1v15h-1zM125 333h1v11h-1zM234 333h1v11h-1z"/>
<path fill="#00f662" d="M370 143h1v11h-1zM383 164h1v13h-1zM387 204h1v13h-1zM571 217h1v14h-1zM173 298h1v15h-1zM361 298h1v15h-1z"/>
<path fill="#00f045" d="M371 143h1v11h-1zM556 154h1v10h-1zM183 164h1v13h-1zM172 333h1v11h-1z"/>
<path fill="#00f031" d="M372 143h1v11h-1zM201 154h1v10h-1zM180 217h1v14h-1zM573 271h1v13h-1z"/>
<path fill="#00f023" d="M373 143h1v11h-1zM558 164h1v13h-1zM568 191h1v13h-1z"/>
<path fill="#08f01a" d="M374 143h1v11h-1zM544 271h1v13h-1z"/>
<path fill="#00f1a1" d="M375 143h1v11h-1zM207 191h1v13h-1zM177 217h1v14h-1zM214 271h1v13h-1z"/>
<path fill="#00dfff" d="M393 143h1v11h-1zM337 191h2v13h-2zM151 231h1v14h-1zM257 231h1v14h-1zM300 245h2v13h-2z"/>
<path fill="#00fefa" d="M550 143h1v11h-1zM180 154h1v10h-1zM239 217h1v14h-1zM309 245h1v13h-1zM463 245h1v13h-1zM222 258h1v13h-1zM346 258h1v13h-1zM451 258h1v13h-1zM588 258h1v13h-1zM265 271h1v13h-1zM285 271h1v13h-1zM311 271h1v13h-1zM165 284h1v14h-1zM418 284h1v14h-1z"/>
<path fill="#00f1a3" d="M552 143h1v11h-1zM209 217h1v14h-1z"/>
<path fill="#00f677" d="M554 143h1v11h-1zM550 177h1v14h-1zM196 204h1v13h-1zM381 231h1v14h-1zM544 245h1v13h-1zM213 271h1v13h-1z"/>
<path fill="#00f458" d="M557 143h1v11h-1zM550 191h1v13h-1zM177 245h1v13h-1zM381 333h1v11h-1z"/>
<path fill="#26f00b" d="M563 143h1v11h-1zM206 231h1v14h-1z"/>
<path fill="#10f016" d="M564 143h1v11h-1zM549 231h1v14h-1zM363 298h1v15h-1z"/>
<path fill="#00f028" d="M565 143h1v11h-1zM554 177h1v14h-1zM391 284h1v14h-1zM213 298h1v15h-1z"/>
<path fill="#00f041" d="M566 143h1v11h-1zM365 245h1v13h-1zM174 298h1v15h-1zM361 313h1v20h-1z"/>
<path fill="#00f664" d="M567 143h1v11h-1zM182 164h1v13h-1zM172 313h1v20h-1z"/>
<path fill="#00f08f" d="M568 143h1v11h-1zM388 204h1v13h-1z"/>
<path fill="#00f381" d="M182 154h1v10h-1zM191 177h1v14h-1zM367 177h1v14h-1zM375 191h1v13h-1zM365 217h1v14h-1zM381 217h1v14h-1zM173 284h1v14h-1z"/>
<path fill="#00f561" d="M183 154h1v10h-1zM381 298h1v15h-1zM394 313h1v20h-1z"/>
<path fill="#00f02c" d="M185 154h1v10h-1zM566 154h1v10h-1zM183 177h1v14h-1zM205 204h1v13h-1z"/>
<path fill="#0bf018" d="M186 154h1v10h-1z"/>
<path fill="#2df008" d="M187 154h1v10h-1zM548 245h1v13h-1z"/>
<path fill="#49f200" d="M188 154h1v10h-1zM542 298h1v15h-1z"/>
<path fill="#61f600" d="M189 154h1v10h-1zM187 164h1v13h-1zM211 298h1v15h-1zM364 298h1v15h-1z"/>
<path fill="#6ff800" d="M190 154h1v10h-1zM567 204h1v13h-1zM205 231h1v14h-1z"/>
<path fill="#00f08c" d="M191 154h1v10h-1zM381 204h1v13h-1zM219 333h1v11h-1z"/>
<path fill="#00f090" d="M196 154h1v10h-1zM179 191h1v13h-1zM536 298h1v15h-1z"/>
<path fill="#59f400" d="M197 154h1v10h-1z"/>
<path fill="#45f100" d="M198 154h1v10h-1zM209 271h1v13h-1z"/>
<path fill="#2af009" d="M199 154h1v10h-1z"/>
<path fill="#06f01b" d="M200 154h1v10h-1zM215 333h1v11h-1z"/>
<path fill="#00f14d" d="M202 154h1v10h-1zM203 164h1v13h-1zM204 177h1v14h-1zM205 191h1v13h-1zM180 204h1v13h-1zM207 217h1v14h-1zM208 231h1v14h-1zM547 231h1v14h-1z"/>
<path fill="#00f770" d="M203 154h1v10h-1zM191 217h1v14h-1zM559 245h1v13h-1z"/>
<path fill="#0074ff" d="M354 154h1v10h-1zM457 154h1v10h-1zM319 164h1v13h-1zM258 177h1v14h-1zM532 177h1v14h-1zM352 217h1v14h-1z"/>
<path fill="#00f7dc" d="M367 154h1v10h-1zM579 258h1v13h-1zM321 284h1v14h-1zM448 284h1v14h-1zM578 298h1v15h-1zM583 298h1v15h-1zM236 313h1v20h-1zM268 313h1v20h-1zM303 313h1v20h-1zM308 313h1v20h-1zM396 313h1v20h-1zM228 333h1v11h-1zM292 333h1v11h-1z"/>
<path fill="#00f76a" d="M369 154h1v10h-1zM191 231h1v14h-1zM196 231h1v14h-1zM381 271h1v13h-1zM360 313h1v20h-1z"/>
<path fill="#00f149" d="M370 154h1v10h-1zM181 191h1v13h-1zM364 258h1v13h-1z"/>
<path fill="#00f030" d="M371 154h1v10h-1zM548 231h1v14h-1zM392 298h1v15h-1z"/>
<path fill="#1ff00e" d="M373 154h1v10h-1zM204 204h1v13h-1zM364 284h1v14h-1z"/>
<path fill="#00f098" d="M375 154h1v10h-1zM550 164h1v13h-1zM178 204h1v13h-1zM534 313h1v20h-1z"/>
<path fill="#00f4d0" d="M381 154h1v10h-1zM233 245h1v13h-1zM449 258h1v13h-1zM533 258h1v13h-1zM142 298h1v15h-1zM265 313h1v20h-1zM291 313h2v20h-2zM118 333h1v11h-1zM266 333h1v11h-1zM473 333h1v11h-1z"/>
<path fill="#005bff" d="M447 154h1v10h-1z"/>
<path fill="#00f86d" d="M553 154h1v10h-1zM214 284h1v14h-1z"/>
<path fill="#00f45c" d="M554 154h1v10h-1zM381 313h1v20h-1z"/>
<path fill="#00f24f" d="M555 154h1v10h-1z"/>
<path fill="#00f03f" d="M557 154h1v10h-1zM368 191h1v13h-1zM390 258h1v13h-1zM175 284h1v14h-1zM394 333h1v11h-1z"/>
<path fill="#00f03b" d="M558 154h1v10h-1zM568 177h1v14h-1z"/>
<path fill="#00f091" d="M562 154h1v10h-1zM570 177h1v14h-1zM366 191h1v13h-1z"/>
<path fill="#50f300" d="M563 154h1v10h-1zM367 245h1v13h-1z"/>
<path fill="#36f003" d="M564 154h1v10h-1z"/>
<path fill="#13f014" d="M565 154h1v10h-1z"/>
<path fill="#00f772" d="M568 154h1v10h-1zM205 177h1v14h-1zM206 191h1v13h-1zM366 204h1v13h-1zM572 231h1v14h-1z"/>
<path fill="#00f1a9" d="M569 154h1v10h-1zM367 164h1v13h-1zM176 231h1v14h-1z"/>
<path fill="#004eff" d="M584 154h1v10h-1zM125 191h1v13h-1z"/>
<path fill="#00f2bc" d="M180 164h1v13h-1zM521 313h1v20h-1zM520 333h1v11h-1zM595 333h1v11h-1z"/>
<path fill="#11f015" d="M185 164h1v13h-1zM180 231h1v14h-1z"/>
<path fill="#38f002" d="M186 164h1v13h-1zM200 164h1v13h-1zM178 271h1v13h-1zM540 313h1v20h-1z"/>
<path fill="#80fa00" d="M188 164h1v13h-1zM563 164h1v13h-1zM551 231h1v14h-1zM179 271h1v13h-1z"/>
<path fill="#96fd00" d="M189 164h1v13h-1z"/>
<path fill="#a2ff00" d="M190 164h1v13h-1zM568 231h1v14h-1z"/>
<path fill="#91fd00" d="M197 164h1v13h-1zM389 284h1v14h-1z"/>
<path fill="#7ffa00" d="M198 164h1v13h-1z"/>
<path fill="#62f600" d="M199 164h1v13h-1zM374 164h1v13h-1zM552 217h1v14h-1zM568 217h1v14h-1z"/>
<path fill="#0ef017" d="M201 164h1v13h-1z"/>
<path fill="#00f771" d="M204 164h1v13h-1zM570 191h1v13h-1zM548 204h1v13h-1zM196 217h1v14h-1zM359 333h1v11h-1zM578 333h1v11h-1z"/>
<path fill="#00f19f" d="M205 164h1v13h-1z"/>
<path fill="#00faea" d="M206 164h1v13h-1zM434 258h1v13h-1zM598 258h1v13h-1zM161 271h1v13h-1zM335 271h1v13h-1zM399 271h1v13h-1zM417 271h1v13h-1zM597 271h2v13h-2zM152 284h1v14h-1zM261 284h1v14h-1zM159 313h1v20h-1zM241 313h1v20h-1zM436 313h1v20h-1zM158 333h2v11h-2zM284 333h1v11h-1zM504 333h1v11h-1z"/>
<path fill="#0040ff" d="M217 164h1v13h-1z"/>
<path fill="#005fff" d="M359 164h1v13h-1z"/>
<path fill="#00f032" d="M370 164h1v13h-1zM567 164h1v13h-1zM543 271h1v13h-1zM363 284h1v14h-1z"/>
<path fill="#07f01a" d="M371 164h1v13h-1z"/>
<path fill="#2ef007" d="M372 164h1v13h-1zM365 271h1v13h-1z"/>
<path fill="#4df300" d="M373 164h1v13h-1zM547 258h1v13h-1z"/>
<path fill="#00f354" d="M382 164h1v13h-1zM549 204h1v13h-1zM178 231h1v14h-1z"/>
<path fill="#00f579" d="M384 164h1v13h-1zM177 231h1v14h-1zM573 245h1v13h-1zM535 313h1v20h-1z"/>
<path fill="#004dff" d="M425 164h1v13h-1z"/>
<path fill="#00feff" d="M548 164h1v13h-1zM214 231h2v14h-2zM448 245h1v13h-1zM505 271h1v13h-1zM305 298h1v15h-1z"/>
<path fill="#00f665" d="M552 164h1v13h-1zM367 191h1v13h-1zM381 284h1v14h-1zM534 333h1v11h-1z"/>
<path fill="#00f251" d="M553 164h1v13h-1zM363 271h1v13h-1z"/>
<path fill="#00f042" d="M554 164h1v13h-1zM576 313h1v20h-1z"/>
<path fill="#00f02d" d="M556 164h1v13h-1zM182 191h1v13h-1zM204 191h1v13h-1zM552 191h1v13h-1zM569 204h1v13h-1z"/>
<path fill="#00f026" d="M557 164h1v13h-1zM368 204h1v13h-1z"/>
<path fill="#00f18a" d="M562 164h1v13h-1zM180 177h1v14h-1zM538 284h1v14h-1z"/>
<path fill="#67f600" d="M564 164h1v13h-1zM554 204h1v13h-1zM204 217h1v14h-1z"/>
<path fill="#3df000" d="M565 164h1v13h-1zM366 258h1v13h-1z"/>
<path fill="#0ff016" d="M566 164h1v13h-1z"/>
<path fill="#0056ff" d="M571 164h1v13h-1z"/>
<path fill="#0055ff" d="M583 164h1v13h-1z"/>
<path fill="#00f2c5" d="M179 177h1v14h-1zM134 313h1v20h-1zM464 333h1v11h-1z"/>
<path fill="#00f767" d="M181 177h1v14h-1zM191 245h1v13h-1zM196 245h1v13h-1zM375 258h1v13h-1zM562 258h1v13h-1zM559 271h1v13h-1z"/>
<path fill="#15f013" d="M184 177h1v14h-1zM202 177h1v14h-1zM386 217h1v14h-1z"/>
<path fill="#42f100" d="M185 177h1v14h-1z"/>
<path fill="#73f800" d="M186 177h1v14h-1zM565 177h1v14h-1zM370 204h1v13h-1z"/>
<path fill="#9afe00" d="M187 177h1v14h-1zM564 177h1v14h-1z"/>
<path fill="#b1ff00" d="M188 177h1v14h-1zM383 217h1v14h-1z"/>
<path fill="#c1ff00" d="M189 177h1v14h-1zM184 217h1v14h-1z"/>
<path fill="#caff00" d="M190 177h1v14h-1zM208 284h1v14h-1z"/>
<path fill="#bfff00" d="M197 177h1v14h-1zM546 284h1v14h-1zM390 313h1v20h-1z"/>
<path fill="#b3ff00" d="M198 177h1v14h-1zM200 191h1v13h-1z"/>
<path fill="#9eff00" d="M199 177h1v14h-1zM556 204h1v13h-1z"/>
<path fill="#79f900" d="M200 177h1v14h-1zM178 284h1v14h-1z"/>
<path fill="#46f200" d="M201 177h1v14h-1z"/>
<path fill="#005aff" d="M224 177h3v14h-3zM441 177h1v14h-1zM350 191h1v13h-1z"/>
<path fill="#00f459" d="M368 177h1v14h-1zM389 231h1v14h-1zM574 271h1v13h-1zM191 298h1v15h-1zM196 298h1v15h-1zM393 298h1v15h-1zM538 298h1v15h-1zM216 313h1v20h-1zM559 313h1v20h-1z"/>
<path fill="#00f037" d="M369 177h1v14h-1zM178 245h1v13h-1zM389 245h1v13h-1zM574 284h1v14h-1zM393 313h1v20h-1z"/>
<path fill="#05f01c" d="M370 177h1v14h-1zM567 177h1v14h-1zM553 191h1v13h-1z"/>
<path fill="#35f004" d="M371 177h1v14h-1z"/>
<path fill="#63f600" d="M372 177h1v14h-1zM368 231h1v14h-1z"/>
<path fill="#85fb00" d="M373 177h1v14h-1z"/>
<path fill="#99fe00" d="M374 177h1v14h-1z"/>
<path fill="#00f1ae" d="M381 177h1v14h-1zM174 258h1v13h-1z"/>
<path fill="#00f033" d="M382 177h1v14h-1zM179 231h1v14h-1z"/>
<path fill="#00f03e" d="M383 177h1v14h-1z"/>
<path fill="#00f252" d="M384 177h1v14h-1zM191 333h1v11h-1zM196 333h1v11h-1zM375 333h1v11h-1zM562 333h1v11h-1z"/>
<path fill="#03f01c" d="M555 177h1v14h-1zM178 258h1v13h-1z"/>
<path fill="#16f013" d="M556 177h1v14h-1zM182 204h1v13h-1zM569 217h1v14h-1zM211 284h1v14h-1zM573 284h1v14h-1z"/>
<path fill="#23f00c" d="M557 177h1v14h-1zM174 333h1v11h-1z"/>
<path fill="#2bf009" d="M558 177h1v14h-1zM387 231h1v14h-1z"/>
<path fill="#adff00" d="M563 177h1v14h-1zM369 231h1v14h-1zM572 298h1v15h-1zM177 313h1v20h-1zM211 313h1v20h-1z"/>
<path fill="#3bf000" d="M566 177h1v14h-1z"/>
<path fill="#00f4cf" d="M178 191h1v13h-1zM212 245h1v13h-1zM480 245h1v13h-1zM261 258h1v13h-1zM459 284h1v14h-1zM503 284h1v14h-1zM470 313h1v20h-1zM312 333h2v11h-2z"/>
<path fill="#00f86c" d="M180 191h1v13h-1zM364 245h1v13h-1zM375 245h1v13h-1zM562 245h1v13h-1zM391 258h1v13h-1zM559 258h1v13h-1zM577 313h1v20h-1z"/>
<path fill="#17f013" d="M183 191h1v13h-1z"/>
<path fill="#4af200" d="M184 191h1v13h-1z"/>
<path fill="#81fa00" d="M185 191h1v13h-1zM390 298h1v15h-1z"/>
<path fill="#abff00" d="M186 191h1v13h-1zM557 204h1v13h-1zM566 204h1v13h-1zM387 258h1v13h-1z"/>
<path fill="#c6ff00" d="M187 191h1v13h-1z"/>
<path fill="#dbff00" d="M188 191h1v13h-1zM210 313h1v20h-1z"/>
<path fill="#e9ff00" d="M189 191h1v13h-1zM197 191h1v13h-1zM205 258h1v13h-1zM181 271h1v13h-1zM571 298h1v15h-1z"/>
<path fill="#f2ff00" d="M190 191h1v13h-1zM184 231h1v14h-1zM390 333h1v11h-1z"/>
<path fill="#00f47b" d="M191 191h1v13h-1zM375 204h1v13h-1zM176 245h1v13h-1z"/>
<path fill="#00f47c" d="M196 191h1v13h-1zM559 217h1v14h-1zM362 271h1v13h-1z"/>
<path fill="#dfff00" d="M198 191h1v13h-1zM203 231h1v14h-1zM370 231h1v14h-1z"/>
<path fill="#cdff00" d="M199 191h1v13h-1z"/>
<path fill="#8cfc00" d="M201 191h1v13h-1zM208 271h1v13h-1z"/>
<path fill="#53f400" d="M202 191h1v13h-1z"/>
<path fill="#1bf011" d="M203 191h1v13h-1zM388 245h1v13h-1z"/>
<path fill="#00f8e0" d="M365 191h1v13h-1zM497 258h1v13h-1zM226 271h1v13h-1zM583 271h1v13h-1zM331 284h1v14h-1zM454 298h1v15h-1zM588 298h1v15h-1zM253 313h1v20h-1zM325 313h1v20h-1zM357 313h2v20h-2zM589 313h1v20h-1zM236 333h1v11h-1z"/>
<path fill="#00f020" d="M369 191h1v13h-1zM385 204h1v13h-1z"/>
<path fill="#35f003" d="M370 191h1v13h-1z"/>
<path fill="#70f800" d="M371 191h1v13h-1zM212 313h1v20h-1zM391 313h1v20h-1zM541 313h1v20h-1z"/>
<path fill="#9dff00" d="M372 191h1v13h-1zM550 245h1v13h-1z"/>
<path fill="#b6ff00" d="M373 191h1v13h-1zM205 245h1v13h-1zM179 284h1v14h-1zM212 333h1v11h-1z"/>
<path fill="#c5ff00" d="M374 191h1v13h-1z"/>
<path fill="#19f012" d="M382 191h1v13h-1zM541 298h1v15h-1z"/>
<path fill="#03f01d" d="M383 191h1v13h-1z"/>
<path fill="#00f046" d="M385 191h1v13h-1zM569 191h1v13h-1zM537 313h1v20h-1z"/>
<path fill="#00f093" d="M387 191h1v13h-1zM548 191h1v13h-1zM572 217h1v14h-1z"/>
<path fill="#00f040" d="M551 191h1v13h-1zM539 298h1v15h-1z"/>
<path fill="#23f00d" d="M554 191h1v13h-1zM205 217h1v14h-1zM572 271h1v13h-1z"/>
<path fill="#3bf001" d="M555 191h1v13h-1zM214 333h1v11h-1z"/>
<path fill="#53f300" d="M556 191h1v13h-1zM210 284h1v14h-1z"/>
<path fill="#64f600" d="M557 191h1v13h-1z"/>
<path fill="#6ef700" d="M558 191h1v13h-1z"/>
<path fill="#00f08d" d="M559 191h1v13h-1z"/>
<path fill="#00f37f" d="M562 191h1v13h-1zM174 271h1v13h-1z"/>
<path fill="#d3ff00" d="M563 191h1v13h-1zM202 217h1v14h-1z"/>
<path fill="#c3ff00" d="M564 191h1v13h-1zM382 217h1v14h-1zM207 271h1v13h-1z"/>
<path fill="#a7ff00" d="M565 191h1v13h-1zM203 217h1v14h-1z"/>
<path fill="#76f900" d="M566 191h1v13h-1z"/>
<path fill="#34f004" d="M567 191h1v13h-1z"/>
<path fill="#4ff300" d="M183 204h1v13h-1zM363 313h1v20h-1z"/>
<path fill="#8bfc00" d="M184 204h1v13h-1z"/>
<path fill="#b8ff00" d="M185 204h1v13h-1z"/>
<path fill="#d8ff00" d="M186 204h1v13h-1zM371 217h1v14h-1zM556 217h1v14h-1zM550 258h1v13h-1z"/>
<path fill="#f1ff00" d="M187 204h1v13h-1z"/>
<path fill="#fffd00" d="M188 204h1v13h-1zM186 217h1v14h-1zM548 284h1v14h-1zM209 313h1v20h-1z"/>
<path fill="#fff700" d="M189 204h1v13h-1zM200 217h1v14h-1zM556 231h1v14h-1zM183 258h1v13h-1zM552 258h1v13h-1zM182 271h1v13h-1zM365 333h1v11h-1zM572 333h1v11h-1z"/>
<path fill="#fff400" d="M190 204h1v13h-1zM374 217h1v14h-1zM547 298h1v15h-1zM366 313h1v20h-1z"/>
<path fill="#fff600" d="M197 204h1v13h-1zM185 231h1v14h-1zM184 245h1v13h-1zM554 245h1v13h-1z"/>
<path fill="#fffa00" d="M198 204h1v13h-1zM203 245h1v13h-1zM550 271h1v13h-1zM179 313h1v20h-1z"/>
<path fill="#faff00" d="M199 204h1v13h-1zM546 298h1v15h-1z"/>
<path fill="#e3ff00" d="M200 204h1v13h-1zM385 245h1v13h-1zM547 284h1v14h-1zM365 313h1v20h-1z"/>
<path fill="#c4ff00" d="M201 204h1v13h-1zM182 245h1v13h-1zM551 245h1v13h-1z"/>
<path fill="#9cfe00" d="M202 204h1v13h-1z"/>
<path fill="#5ef500" d="M203 204h1v13h-1zM392 333h1v11h-1z"/>
<path fill="#00f14c" d="M206 204h1v13h-1zM213 284h1v14h-1z"/>
<path fill="#00f1a2" d="M208 204h1v13h-1zM358 333h1v11h-1zM579 333h1v11h-1z"/>
<path fill="#00faec" d="M209 204h1v13h-1zM509 271h1v13h-1zM462 284h1v14h-1zM226 298h1v15h-1zM400 298h1v15h-1z"/>
<path fill="#00cbff" d="M289 204h1v13h-1zM326 204h1v13h-1zM271 217h1v14h-1zM273 217h1v14h-1zM138 231h1v14h-1zM329 231h1v14h-1zM474 231h3v14h-3zM478 231h1v14h-1z"/>
<path fill="#2ff006" d="M369 204h1v13h-1zM207 245h1v13h-1zM571 258h1v13h-1z"/>
<path fill="#aaff00" d="M371 204h1v13h-1z"/>
<path fill="#cbff00" d="M372 204h1v13h-1z"/>
<path fill="#e2ff00" d="M373 204h1v13h-1zM384 231h1v14h-1zM179 298h1v15h-1z"/>
<path fill="#efff00" d="M374 204h1v13h-1zM183 245h1v13h-1zM206 271h1v13h-1z"/>
<path fill="#6df700" d="M382 204h1v13h-1z"/>
<path fill="#52f300" d="M383 204h1v13h-1z"/>
<path fill="#2bf008" d="M384 204h1v13h-1zM538 333h1v11h-1z"/>
<path fill="#00f03a" d="M550 204h1v13h-1zM546 245h1v13h-1zM177 258h1v13h-1zM362 298h1v15h-1z"/>
<path fill="#00f024" d="M551 204h1v13h-1zM365 258h1v13h-1zM175 298h1v15h-1zM361 333h1v11h-1zM576 333h1v11h-1z"/>
<path fill="#1cf010" d="M552 204h1v13h-1z"/>
<path fill="#40f100" d="M553 204h1v13h-1z"/>
<path fill="#86fb00" d="M555 204h1v13h-1zM570 258h1v13h-1z"/>
<path fill="#b2ff00" d="M558 204h1v13h-1zM178 298h1v15h-1zM365 298h1v15h-1zM544 298h1v15h-1z"/>
<path fill="#00f57a" d="M562 204h1v13h-1z"/>
<path fill="#f9ff00" d="M563 204h1v13h-1zM565 217h1v14h-1z"/>
<path fill="#eaff00" d="M564 204h1v13h-1z"/>
<path fill="#d0ff00" d="M565 204h1v13h-1z"/>
<path fill="#27f00a" d="M568 204h1v13h-1zM543 284h1v14h-1z"/>
<path fill="#00fdf4" d="M154 217h1v14h-1zM150 258h1v13h-1z"/>
<path fill="#15f014" d="M181 217h1v14h-1z"/>
<path fill="#51f300" d="M182 217h1v14h-1zM181 231h1v14h-1z"/>
<path fill="#93fd00" d="M183 217h1v14h-1z"/>
<path fill="#e6ff00" d="M185 217h1v14h-1zM542 333h1v11h-1z"/>
<path fill="#fff300" d="M187 217h1v14h-1zM557 231h1v14h-1zM206 284h1v14h-1z"/>
<path fill="#ffec00" d="M188 217h1v14h-1zM202 245h1v13h-1zM382 245h1v13h-1zM388 313h1v20h-1z"/>
<path fill="#ffe700" d="M189 217h1v14h-1zM373 231h1v14h-1zM204 271h1v13h-1zM550 284h1v14h-1z"/>
<path fill="#ffe400" d="M190 217h1v14h-1zM200 231h1v14h-1zM565 245h1v13h-1zM205 284h1v14h-1z"/>
<path fill="#ffe500" d="M197 217h1v14h-1zM383 258h1v13h-1z"/>
<path fill="#ffe800" d="M198 217h1v14h-1zM564 231h1v14h-1z"/>
<path fill="#ffee00" d="M199 217h1v14h-1zM201 231h1v14h-1zM371 245h1v13h-1zM384 258h1v13h-1zM553 258h1v13h-1zM369 271h1v13h-1zM389 333h1v11h-1zM544 333h1v11h-1z"/>
<path fill="#f6ff00" d="M201 217h1v14h-1zM207 284h1v14h-1z"/>
<path fill="#00fdf8" d="M262 217h1v14h-1zM217 231h1v14h-1zM289 231h2v14h-2zM455 245h1v13h-1zM459 245h1v13h-1zM530 245h1v13h-1zM453 258h1v13h-1zM456 258h1v13h-1zM223 271h1v13h-1zM275 271h1v13h-1zM319 271h1v13h-1zM510 271h1v13h-1zM343 284h1v14h-1zM435 284h1v14h-1zM483 298h1v15h-1zM529 298h1v15h-1z"/>
<path fill="#24f00c" d="M368 217h1v14h-1z"/>
<path fill="#6ef800" d="M369 217h1v14h-1z"/>
<path fill="#aeff00" d="M370 217h1v14h-1z"/>
<path fill="#f7ff00" d="M372 217h1v14h-1zM569 271h1v13h-1z"/>
<path fill="#fff900" d="M373 217h1v14h-1zM382 231h1v14h-1zM180 298h1v15h-1zM210 333h1v11h-1z"/>
<path fill="#8efc00" d="M384 217h1v14h-1z"/>
<path fill="#54f400" d="M385 217h1v14h-1z"/>
<path fill="#00f035" d="M387 217h1v14h-1zM549 217h1v14h-1zM216 333h1v11h-1z"/>
<path fill="#00f55d" d="M388 217h1v14h-1zM175 271h1v13h-1z"/>
<path fill="#00f8e2" d="M390 217h1v14h-1zM239 245h1v13h-1zM249 245h1v13h-1zM457 245h1v13h-1zM315 298h1v15h-1zM460 298h1v15h-1zM579 298h1v15h-1zM318 313h1v20h-1zM349 313h1v20h-1zM464 313h1v20h-1z"/>
<path fill="#00f3cb" d="M545 217h1v14h-1zM399 245h3v13h-3zM235 271h1v13h-1zM576 271h1v13h-1zM463 284h1v14h-1zM489 284h1v14h-1zM117 298h1v15h-1zM245 298h1v15h-1zM163 313h1v20h-1zM165 333h1v11h-1zM235 333h1v11h-1zM317 333h1v11h-1z"/>
<path fill="#8ffd00" d="M553 217h1v14h-1zM181 245h1v13h-1z"/>
<path fill="#b0ff00" d="M554 217h1v14h-1zM204 231h1v14h-1z"/>
<path fill="#c7ff00" d="M555 217h1v14h-1zM367 271h1v13h-1z"/>
<path fill="#e4ff00" d="M557 217h1v14h-1zM204 245h1v13h-1zM552 245h1v13h-1zM211 333h1v11h-1z"/>
<path fill="#ebff00" d="M558 217h1v14h-1z"/>
<path fill="#fff200" d="M563 217h1v14h-1zM383 245h1v13h-1zM570 298h1v15h-1z"/>
<path fill="#fff800" d="M564 217h1v14h-1zM204 258h1v13h-1zM181 284h1v14h-1zM545 313h1v20h-1z"/>
<path fill="#d7ff00" d="M566 217h1v14h-1zM567 231h1v14h-1zM545 298h1v15h-1z"/>
<path fill="#a9ff00" d="M567 217h1v14h-1zM176 333h1v11h-1z"/>
<path fill="#00f038" d="M570 217h1v14h-1zM366 231h1v14h-1z"/>
<path fill="#00fcf3" d="M118 231h1v14h-1zM162 258h1v13h-1zM227 258h1v13h-1zM166 271h1v13h-1zM268 271h1v13h-1zM279 271h1v13h-1zM295 271h1v13h-1zM474 271h1v13h-1zM580 271h1v13h-1zM171 284h1v14h-1zM358 284h2v14h-2zM585 284h1v14h-1zM170 298h1v15h-1zM252 298h1v15h-1zM304 298h1v15h-1z"/>
<path fill="#00fcf2" d="M121 231h1v14h-1zM269 258h1v13h-1zM287 258h1v13h-1zM313 258h1v13h-1zM350 258h1v13h-1zM424 258h1v13h-1zM499 258h1v13h-1zM535 258h1v13h-1zM172 271h1v13h-1zM298 271h1v13h-1zM433 271h1v13h-1zM129 284h2v14h-2zM239 284h1v14h-1zM321 298h1v15h-1zM534 298h1v15h-1zM115 313h2v20h-2z"/>
<path fill="#00f7dd" d="M173 231h1v14h-1zM251 313h2v20h-2zM442 313h1v20h-1zM507 313h2v20h-2zM166 333h1v11h-1zM342 333h1v11h-1zM407 333h1v11h-1zM584 333h1v11h-1z"/>
<path fill="#97fe00" d="M182 231h1v14h-1zM363 333h1v11h-1zM574 333h1v11h-1z"/>
<path fill="#c9ff00" d="M183 231h1v14h-1zM569 258h1v13h-1zM389 298h1v15h-1z"/>
<path fill="#ffeb00" d="M186 231h1v14h-1zM385 271h1v13h-1zM387 298h1v15h-1zM546 313h1v20h-1z"/>
<path fill="#ffe200" d="M187 231h1v14h-1zM374 231h1v14h-1zM366 333h1v11h-1zM545 333h1v11h-1zM571 333h1v11h-1z"/>
<path fill="#ffdb00" d="M188 231h1v14h-1zM373 245h1v13h-1zM203 271h1v13h-1zM183 284h1v14h-1zM182 298h1v15h-1zM386 298h1v15h-1zM181 313h1v20h-1zM180 333h1v11h-1zM208 333h1v11h-1z"/>
<path fill="#ffd600" d="M189 231h1v14h-1zM372 258h1v13h-1zM548 313h1v20h-1z"/>
<path fill="#ffd300" d="M190 231h1v14h-1zM197 231h1v14h-1zM371 271h1v13h-1zM382 271h1v13h-1z"/>
<path fill="#ffd700" d="M198 231h1v14h-1zM187 245h1v13h-1zM374 245h1v13h-1zM563 245h1v13h-1zM558 258h1v13h-1zM565 258h1v13h-1zM554 271h1v13h-1zM546 333h1v11h-1z"/>
<path fill="#ffdc00" d="M199 231h1v14h-1zM564 245h1v13h-1zM556 258h1v13h-1zM184 271h1v13h-1zM385 284h1v14h-1z"/>
<path fill="#fffc00" d="M202 231h1v14h-1zM371 231h1v14h-1zM370 245h1v13h-1zM384 245h1v13h-1zM387 284h1v14h-1z"/>
<path fill="#00f1a4" d="M210 231h1v14h-1z"/>
<path fill="#00fbed" d="M211 231h1v14h-1zM411 231h1v14h-1zM493 258h1v13h-1zM128 271h1v13h-1zM467 271h1v13h-1zM289 284h1v14h-1zM516 284h1v14h-1zM144 298h1v15h-1zM275 298h1v15h-1zM325 298h1v15h-1zM348 298h1v15h-1zM126 333h1v11h-1z"/>
<path fill="#00f6d8" d="M236 231h1v14h-1zM542 245h1v13h-1zM439 271h1v13h-1zM148 313h1v20h-1zM326 313h1v20h-1zM308 333h1v11h-1zM433 333h1v11h-1zM490 333h1v11h-1z"/>
<path fill="#00fdf7" d="M324 231h1v14h-1zM413 231h1v14h-1zM240 245h1v13h-1zM298 245h1v13h-1zM343 245h1v13h-1zM352 245h1v13h-1zM354 245h1v13h-1zM153 258h2v13h-2zM331 258h1v13h-1zM333 258h1v13h-1zM442 258h1v13h-1zM485 271h1v13h-1zM491 271h1v13h-1zM436 284h1v14h-1zM169 298h1v15h-1zM464 298h1v15h-1zM473 298h1v15h-1zM321 313h1v20h-1zM532 313h1v20h-1zM221 333h1v11h-1z"/>
<path fill="#00daff" d="M330 231h1v14h-1zM502 231h1v14h-1z"/>
<path fill="#00f6ff" d="M335 231h1v14h-1zM424 231h1v14h-1zM486 231h1v14h-1zM474 245h1v13h-1zM446 271h1v13h-1z"/>
<path fill="#14f014" d="M367 231h1v14h-1z"/>
<path fill="#fff000" d="M372 231h1v14h-1zM558 231h1v14h-1zM207 298h1v15h-1z"/>
<path fill="#feff00" d="M383 231h1v14h-1z"/>
<path fill="#baff00" d="M385 231h1v14h-1z"/>
<path fill="#7cfa00" d="M386 231h1v14h-1z"/>
<path fill="#00f0ff" d="M469 231h1v14h-1zM500 245h1v13h-1zM539 245h1v13h-1zM268 258h1v13h-1z"/>
<path fill="#00f4ce" d="M544 231h1v14h-1z"/>
<path fill="#00f86f" d="M546 231h1v14h-1zM381 258h1v13h-1zM539 284h1v14h-1zM218 333h1v11h-1z"/>
<path fill="#44f100" d="M550 231h1v14h-1z"/>
<path fill="#afff00" d="M552 231h1v14h-1z"/>
<path fill="#d1ff00" d="M553 231h1v14h-1zM568 245h1v13h-1zM368 258h1v13h-1z"/>
<path fill="#ecff00" d="M554 231h1v14h-1zM182 258h1v13h-1z"/>
<path fill="#fffe00" d="M555 231h1v14h-1zM566 231h1v14h-1zM369 258h1v13h-1zM388 298h1v15h-1z"/>
<path fill="#ffe300" d="M563 231h1v14h-1zM372 245h1v13h-1zM558 245h1v13h-1z"/>
<path fill="#fff100" d="M565 231h1v14h-1zM549 284h1v14h-1zM569 284h1v14h-1zM367 298h1v15h-1z"/>
<path fill="#4ef300" d="M569 231h1v14h-1z"/>
<path fill="#00f01e" d="M570 231h1v14h-1z"/>
<path fill="#00fbf0" d="M174 245h1v13h-1zM280 245h1v13h-1zM409 245h1v13h-1zM264 271h1v13h-1zM528 271h1v13h-1zM413 284h2v14h-2zM452 284h1v14h-1zM118 313h1v20h-1zM529 313h1v20h-1z"/>
<path fill="#0af019" d="M179 245h1v13h-1zM389 258h1v13h-1zM210 271h1v13h-1zM574 298h1v15h-1zM393 333h1v11h-1z"/>
<path fill="#48f200" d="M180 245h1v13h-1zM389 271h1v13h-1z"/>
<path fill="#ffea00" d="M185 245h1v13h-1zM203 258h1v13h-1zM386 284h1v14h-1zM180 313h1v20h-1zM179 333h1v11h-1zM209 333h1v11h-1z"/>
<path fill="#ffdf00" d="M186 245h1v13h-1zM370 271h1v13h-1zM568 284h1v14h-1zM368 298h1v15h-1z"/>
<path fill="#ffd100" d="M188 245h1v13h-1zM199 245h1v13h-1zM202 271h1v13h-1zM370 284h1v14h-1zM567 284h1v14h-1z"/>
<path fill="#ffcd00" d="M189 245h1v13h-1zM198 245h1v13h-1zM187 258h1v13h-1zM200 258h1v13h-1zM203 284h1v14h-1zM551 298h1v15h-1zM549 313h1v20h-1zM181 333h1v11h-1zM547 333h1v11h-1z"/>
<path fill="#ffca00" d="M190 245h1v13h-1zM197 245h1v13h-1zM372 271h1v13h-1zM554 284h1v14h-1zM204 298h1v15h-1zM387 333h1v11h-1z"/>
<path fill="#ffd800" d="M200 245h1v13h-1zM383 271h1v13h-1zM204 284h1v14h-1z"/>
<path fill="#ffe100" d="M201 245h1v13h-1zM566 258h1v13h-1zM206 298h1v15h-1zM570 313h1v20h-1z"/>
<path fill="#78f900" d="M206 245h1v13h-1z"/>
<path fill="#00f025" d="M208 245h1v13h-1zM571 245h1v13h-1z"/>
<path fill="#00f9e5" d="M225 245h1v13h-1zM326 258h1v13h-1zM356 258h1v13h-1zM327 271h1v13h-1zM475 271h1v13h-1zM482 271h1v13h-1zM519 271h1v13h-1zM253 284h1v14h-1zM296 284h1v14h-1zM333 284h2v14h-2zM114 298h2v15h-2zM122 298h1v15h-1zM166 298h1v15h-1zM486 313h1v20h-1z"/>
<path fill="#00fcf4" d="M362 245h1v13h-1zM454 245h1v13h-1zM532 245h1v13h-1zM115 258h1v13h-1zM241 258h1v13h-1zM496 271h1v13h-1zM416 284h2v14h-2zM139 298h1v15h-1zM443 298h1v15h-1zM169 313h1v20h-1z"/>
<path fill="#04f01c" d="M366 245h1v13h-1z"/>
<path fill="#a3ff00" d="M368 245h1v13h-1zM210 298h1v15h-1zM573 313h1v20h-1z"/>
<path fill="#d9ff00" d="M369 245h1v13h-1zM364 333h1v11h-1zM573 333h1v11h-1z"/>
<path fill="#b4ff00" d="M386 245h1v13h-1zM391 333h1v11h-1z"/>
<path fill="#6cf700" d="M387 245h1v13h-1zM176 313h1v20h-1z"/>
<path fill="#00f097" d="M391 245h1v13h-1z"/>
<path fill="#00fcf1" d="M392 245h1v13h-1zM449 245h1v13h-1zM458 245h1v13h-1zM119 258h1v13h-1zM173 258h1v13h-1zM305 271h2v13h-2zM423 271h1v13h-1zM584 271h1v13h-1zM480 284h1v14h-1zM409 313h2v20h-2z"/>
<path fill="#66f600" d="M549 245h1v13h-1z"/>
<path fill="#ffff00" d="M553 245h1v13h-1zM567 245h1v13h-1z"/>
<path fill="#ffef00" d="M555 245h1v13h-1zM566 245h1v13h-1zM567 258h1v13h-1zM551 271h1v13h-1zM568 271h1v13h-1zM368 284h1v14h-1z"/>
<path fill="#ffe900" d="M556 245h1v13h-1zM184 258h1v13h-1zM183 271h1v13h-1zM182 284h1v14h-1zM181 298h1v15h-1zM548 298h1v15h-1z"/>
<path fill="#ffe600" d="M557 245h1v13h-1zM554 258h1v13h-1zM552 271h1v13h-1z"/>
<path fill="#94fd00" d="M569 245h1v13h-1zM367 258h1v13h-1zM545 284h1v14h-1z"/>
<path fill="#00f14b" d="M572 245h1v13h-1zM542 271h1v13h-1zM535 333h1v11h-1z"/>
<path fill="#00f1b9" d="M574 245h1v13h-1zM131 313h1v20h-1z"/>
<path fill="#00f45a" d="M176 258h1v13h-1zM362 284h1v14h-1z"/>
<path fill="#3ff000" d="M179 258h1v13h-1z"/>
<path fill="#88fb00" d="M180 258h1v13h-1z"/>
<path fill="#c0ff00" d="M181 258h1v13h-1zM570 271h1v13h-1zM541 333h1v11h-1z"/>
<path fill="#ffdd00" d="M185 258h1v13h-1zM551 284h1v14h-1z"/>
<path fill="#ffd400" d="M186 258h1v13h-1zM201 258h1v13h-1zM566 271h1v13h-1z"/>
<path fill="#ffc700" d="M188 258h1v13h-1zM199 258h1v13h-1zM382 284h1v14h-1zM566 284h1v14h-1zM205 313h1v20h-1z"/>
<path fill="#ffc300" d="M189 258h1v13h-1zM198 258h1v13h-1zM187 271h1v13h-1zM370 298h1v15h-1zM183 313h1v20h-1zM206 333h1v11h-1z"/>
<path fill="#ffc100" d="M190 258h1v13h-1zM197 258h1v13h-1zM374 271h1v13h-1zM563 271h1v13h-1zM203 298h1v15h-1zM553 298h1v15h-1zM182 333h1v11h-1zM368 333h1v11h-1zM569 333h1v11h-1z"/>
<path fill="#ffde00" d="M202 258h1v13h-1zM553 271h1v13h-1zM369 284h1v14h-1zM549 298h1v15h-1zM207 313h1v20h-1z"/>
<path fill="#bcff00" d="M206 258h1v13h-1z"/>
<path fill="#82fa00" d="M207 258h1v13h-1z"/>
<path fill="#39f002" d="M208 258h1v13h-1z"/>
<path fill="#00f01f" d="M209 258h1v13h-1zM177 271h1v13h-1zM575 313h1v20h-1zM537 333h1v11h-1z"/>
<path fill="#00f03d" d="M210 258h1v13h-1zM575 298h1v15h-1z"/>
<path fill="#00f9e8" d="M277 258h2v13h-2zM320 298h1v15h-1zM294 313h1v20h-1zM238 333h1v11h-1z"/>
<path fill="#00f3ca" d="M281 258h1v13h-1zM524 333h1v11h-1z"/>
<path fill="#00f1ad" d="M362 258h1v13h-1z"/>
<path fill="#ffed00" d="M370 258h1v13h-1zM208 313h1v20h-1z"/>
<path fill="#ffe000" d="M371 258h1v13h-1zM382 258h1v13h-1zM555 258h1v13h-1zM384 271h1v13h-1zM567 271h1v13h-1zM569 298h1v15h-1zM367 313h1v20h-1zM547 313h1v20h-1z"/>
<path fill="#ffd000" d="M373 258h1v13h-1zM564 258h1v13h-1zM184 284h1v14h-1zM369 298h1v15h-1zM568 298h1v15h-1zM368 313h1v20h-1zM569 313h1v20h-1zM367 333h1v11h-1zM570 333h1v11h-1z"/>
<path fill="#ffcc00" d="M374 258h1v13h-1zM563 258h1v13h-1zM557 271h1v13h-1zM386 313h1v20h-1z"/>
<path fill="#fffb00" d="M385 258h1v13h-1zM386 271h1v13h-1zM178 333h1v11h-1zM543 333h1v11h-1z"/>
<path fill="#e0ff00" d="M386 258h1v13h-1z"/>
<path fill="#5bf500" d="M388 258h1v13h-1z"/>
<path fill="#00f8df" d="M540 258h1v13h-1z"/>
<path fill="#00f47e" d="M542 258h1v13h-1zM533 333h1v11h-1z"/>
<path fill="#00f560" d="M543 258h1v13h-1zM191 271h1v13h-1zM196 271h1v13h-1zM575 284h1v14h-1z"/>
<path fill="#00f02a" d="M545 258h1v13h-1z"/>
<path fill="#19f011" d="M546 258h1v13h-1zM392 313h1v20h-1z"/>
<path fill="#87fb00" d="M548 258h1v13h-1z"/>
<path fill="#b5ff00" d="M549 258h1v13h-1z"/>
<path fill="#f8ff00" d="M551 258h1v13h-1z"/>
<path fill="#ffd900" d="M557 258h1v13h-1z"/>
<path fill="#fcff00" d="M568 258h1v13h-1zM368 271h1v13h-1z"/>
<path fill="#00f5d5" d="M116 271h1v13h-1zM219 271h1v13h-1zM407 284h1v14h-1zM219 298h1v15h-1zM267 313h1v20h-1zM263 333h1v11h-1z"/>
<path fill="#00f5d3" d="M145 271h1v13h-1zM598 284h1v14h-1zM359 298h1v15h-1zM516 298h1v15h-1zM219 313h1v20h-1zM339 313h1v20h-1zM241 333h1v11h-1z"/>
<path fill="#00f1b1" d="M173 271h1v13h-1zM231 284h1v14h-1zM217 298h1v15h-1zM230 333h1v11h-1z"/>
<path fill="#bbff00" d="M180 271h1v13h-1z"/>
<path fill="#ffd200" d="M185 271h1v13h-1zM555 271h1v13h-1zM384 284h1v14h-1zM206 313h1v20h-1z"/>
<path fill="#ffc900" d="M186 271h1v13h-1zM201 271h1v13h-1z"/>
<path fill="#ffbe00" d="M188 271h1v13h-1zM201 284h1v14h-1zM372 284h1v14h-1zM551 313h1v20h-1z"/>
<path fill="#ffba00" d="M189 271h1v13h-1zM198 271h1v13h-1zM371 298h1v15h-1zM566 298h1v15h-1zM205 333h1v11h-1z"/>
<path fill="#ffb800" d="M190 271h1v13h-1zM197 271h1v13h-1zM200 284h1v14h-1zM384 313h1v20h-1zM552 313h1v20h-1z"/>
<path fill="#ffbd00" d="M199 271h1v13h-1zM204 313h1v20h-1zM386 333h1v11h-1z"/>
<path fill="#ffc200" d="M200 271h1v13h-1zM556 284h1v14h-1zM369 313h1v20h-1zM568 313h1v20h-1z"/>
<path fill="#fff500" d="M205 271h1v13h-1zM571 313h1v20h-1z"/>
<path fill="#00f6d7" d="M287 271h1v13h-1zM317 298h1v15h-1z"/>
<path fill="#84fb00" d="M366 271h1v13h-1z"/>
<path fill="#ffc400" d="M373 271h1v13h-1zM564 271h1v13h-1zM184 298h1v15h-1zM567 298h1v15h-1zM548 333h1v11h-1z"/>
<path fill="#daff00" d="M387 271h1v13h-1zM177 333h1v11h-1z"/>
<path fill="#a0ff00" d="M388 271h1v13h-1z"/>
<path fill="#37f002" d="M545 271h1v13h-1z"/>
<path fill="#71f800" d="M546 271h1v13h-1z"/>
<path fill="#a6ff00" d="M547 271h1v13h-1zM364 313h1v20h-1z"/>
<path fill="#ccff00" d="M548 271h1v13h-1zM543 313h1v20h-1z"/>
<path fill="#eeff00" d="M549 271h1v13h-1z"/>
<path fill="#ffcf00" d="M556 271h1v13h-1zM553 284h1v14h-1zM183 298h1v15h-1zM207 333h1v11h-1z"/>
<path fill="#ffcb00" d="M558 271h1v13h-1zM565 271h1v13h-1zM383 284h1v14h-1z"/>
<path fill="#77f900" d="M571 271h1v13h-1z"/>
<path fill="#00f3cd" d="M120 284h2v14h-2zM286 298h1v15h-1zM117 313h1v20h-1zM423 333h1v11h-1z"/>
<path fill="#00f022" d="M176 284h1v14h-1zM542 284h1v14h-1zM214 313h1v20h-1z"/>
<path fill="#32f005" d="M177 284h1v14h-1z"/>
<path fill="#e5ff00" d="M180 284h1v14h-1z"/>
<path fill="#ffc600" d="M185 284h1v14h-1zM371 284h1v14h-1zM552 298h1v15h-1z"/>
<path fill="#ffbf00" d="M186 284h1v14h-1zM558 284h1v14h-1zM565 284h1v14h-1zM383 298h1v15h-1z"/>
<path fill="#ffb900" d="M187 284h1v14h-1zM373 284h1v14h-1zM564 284h1v14h-1zM202 298h1v15h-1zM555 298h1v15h-1zM184 313h1v20h-1z"/>
<path fill="#ffb400" d="M188 284h1v14h-1zM199 284h1v14h-1zM557 298h1v15h-1zM369 333h1v11h-1zM568 333h1v11h-1z"/>
<path fill="#ffb100" d="M189 284h1v14h-1zM198 284h1v14h-1zM185 313h1v20h-1zM204 333h1v11h-1z"/>
<path fill="#ffaf00" d="M190 284h1v14h-1zM197 284h1v14h-1zM187 298h1v15h-1zM382 313h1v20h-1zM554 313h1v20h-1zM551 333h1v11h-1z"/>
<path fill="#00f45d" d="M191 284h1v14h-1zM196 284h1v14h-1z"/>
<path fill="#ffc500" d="M202 284h1v14h-1zM555 284h1v14h-1zM384 298h1v15h-1zM550 313h1v20h-1z"/>
<path fill="#98fe00" d="M209 284h1v14h-1z"/>
<path fill="#00f5d6" d="M325 284h3v14h-3zM349 284h1v14h-1zM462 298h1v15h-1zM507 298h1v15h-1zM434 313h1v20h-1zM443 313h1v20h-1zM585 313h1v20h-1zM595 313h1v20h-1zM223 333h1v11h-1zM335 333h1v11h-1zM492 333h1v11h-1z"/>
<path fill="#72f800" d="M365 284h1v14h-1zM177 298h1v15h-1z"/>
<path fill="#bdff00" d="M366 284h1v14h-1z"/>
<path fill="#f5ff00" d="M367 284h1v14h-1z"/>
<path fill="#ffb600" d="M374 284h1v14h-1zM563 284h1v14h-1zM556 298h1v15h-1z"/>
<path fill="#d2ff00" d="M388 284h1v14h-1zM209 298h1v15h-1z"/>
<path fill="#37f003" d="M390 284h1v14h-1z"/>
<path fill="#00fdf9" d="M408 284h2v14h-2z"/>
<path fill="#5df500" d="M544 284h1v14h-1z"/>
<path fill="#ffd500" d="M552 284h1v14h-1zM205 298h1v15h-1zM550 298h1v15h-1z"/>
<path fill="#ffc000" d="M557 284h1v14h-1zM385 313h1v20h-1z"/>
<path fill="#f0ff00" d="M570 284h1v14h-1zM544 313h1v20h-1z"/>
<path fill="#b7ff00" d="M571 284h1v14h-1z"/>
<path fill="#69f700" d="M572 284h1v14h-1z"/>
<path fill="#00f08a" d="M576 284h1v14h-1z"/>
<path fill="#00f283" d="M172 298h1v15h-1z"/>
<path fill="#2df007" d="M176 298h1v15h-1z"/>
<path fill="#ffbc00" d="M185 298h1v15h-1zM554 298h1v15h-1zM549 333h1v11h-1z"/>
<path fill="#ffb500" d="M186 298h1v15h-1zM203 313h1v20h-1zM550 333h1v11h-1z"/>
<path fill="#ffab00" d="M188 298h1v15h-1zM374 298h1v15h-1zM563 298h1v15h-1zM186 313h1v20h-1zM384 333h1v11h-1z"/>
<path fill="#ffa800" d="M189 298h1v15h-1zM198 298h1v15h-1zM557 313h1v20h-1z"/>
<path fill="#ffa600" d="M190 298h1v15h-1zM197 298h1v15h-1zM383 333h1v11h-1zM553 333h1v11h-1z"/>
<path fill="#ffaa00" d="M199 298h1v15h-1zM556 313h1v20h-1zM203 333h1v11h-1zM370 333h1v11h-1zM552 333h1v11h-1zM567 333h1v11h-1z"/>
<path fill="#ffae00" d="M200 298h1v15h-1zM373 298h1v15h-1zM564 298h1v15h-1zM202 313h1v20h-1zM371 313h1v20h-1zM566 313h1v20h-1zM184 333h1v11h-1z"/>
<path fill="#ffb300" d="M201 298h1v15h-1zM372 298h1v15h-1zM558 298h1v15h-1zM565 298h1v15h-1zM553 313h1v20h-1zM385 333h1v11h-1z"/>
<path fill="#fdff00" d="M208 298h1v15h-1z"/>
<path fill="#22f00d" d="M212 298h1v15h-1z"/>
<path fill="#00f4d1" d="M298 298h1v15h-1zM140 313h1v20h-1zM263 313h1v20h-1zM426 333h1v11h-1z"/>
<path fill="#edff00" d="M366 298h1v15h-1z"/>
<path fill="#ffbb00" d="M382 298h1v15h-1z"/>
<path fill="#ffce00" d="M385 298h1v15h-1zM182 313h1v20h-1z"/>
<path fill="#28f00a" d="M391 298h1v15h-1zM175 313h1v20h-1z"/>
<path fill="#00f2be" d="M535 298h1v15h-1zM220 333h1v11h-1zM301 333h1v11h-1zM430 333h1v11h-1z"/>
<path fill="#82fb00" d="M543 298h1v15h-1z"/>
<path fill="#5af400" d="M573 298h1v15h-1z"/>
<path fill="#00f1b6" d="M170 313h1v20h-1z"/>
<path fill="#00f027" d="M174 313h1v20h-1z"/>
<path fill="#deff00" d="M178 313h1v20h-1z"/>
<path fill="#ffa500" d="M187 313h1v20h-1z"/>
<path fill="#ffa100" d="M188 313h1v20h-1zM371 333h1v11h-1zM566 333h1v11h-1z"/>
<path fill="#ff9d00" d="M189 313h1v20h-1zM198 313h1v20h-1zM201 333h1v11h-1z"/>
<path fill="#ff9b00" d="M190 313h1v20h-1zM197 313h1v20h-1zM556 333h1v11h-1z"/>
<path fill="#00f356" d="M191 313h1v20h-1zM196 313h1v20h-1zM375 313h1v20h-1zM562 313h1v20h-1z"/>
<path fill="#ffa000" d="M199 313h1v20h-1zM186 333h1v11h-1z"/>
<path fill="#ffa400" d="M200 313h1v20h-1z"/>
<path fill="#ffa900" d="M201 313h1v20h-1z"/>
<path fill="#2ff007" d="M213 313h1v20h-1z"/>
<path fill="#00f096" d="M359 313h1v20h-1z"/>
<path fill="#ffb700" d="M370 313h1v20h-1zM567 313h1v20h-1zM183 333h1v11h-1z"/>
<path fill="#ffa700" d="M372 313h1v20h-1zM558 313h1v20h-1zM565 313h1v20h-1zM185 333h1v11h-1z"/>
<path fill="#ffa200" d="M373 313h1v20h-1zM564 313h1v20h-1zM382 333h1v11h-1zM554 333h1v11h-1z"/>
<path fill="#ff9e00" d="M374 313h1v20h-1zM563 313h1v20h-1zM555 333h1v11h-1z"/>
<path fill="#ffb200" d="M383 313h1v20h-1z"/>
<path fill="#ffda00" d="M387 313h1v20h-1zM388 333h1v11h-1z"/>
<path fill="#fbff00" d="M389 313h1v20h-1z"/>
<path fill="#0bf019" d="M539 313h1v20h-1z"/>
<path fill="#a5ff00" d="M542 313h1v20h-1z"/>
<path fill="#ffac00" d="M555 313h1v20h-1z"/>
<path fill="#e1ff00" d="M572 313h1v20h-1z"/>
<path fill="#4bf200" d="M574 313h1v20h-1z"/>
<path fill="#00f2bd" d="M128 333h1v11h-1z"/>
<path fill="#65f600" d="M175 333h1v11h-1z"/>
<path fill="#ff9a00" d="M187 333h1v11h-1zM557 333h1v11h-1z"/>
<path fill="#ff9500" d="M188 333h1v11h-1z"/>
<path fill="#ff9200" d="M189 333h1v11h-1zM198 333h1v11h-1z"/>
<path fill="#ff9000" d="M190 333h1v11h-1zM197 333h1v11h-1z"/>
<path fill="#ff9400" d="M199 333h1v11h-1zM373 333h1v11h-1zM564 333h1v11h-1z"/>
<path fill="#ff9800" d="M200 333h1v11h-1zM558 333h1v11h-1z"/>
<path fill="#ffa300" d="M202 333h1v11h-1z"/>
<path fill="#7efa00" d="M213 333h1v11h-1z"/>
<path fill="#00f4d3" d="M305 333h1v11h-1z"/>
<path fill="#ff9900" d="M372 333h1v11h-1zM565 333h1v11h-1z"/>
<path fill="#ff9100" d="M374 333h1v11h-1zM563 333h1v11h-1z"/>
<path fill="#60f500" d="M539 333h1v11h-1z"/>
<path fill="#96fe00" d="M540 333h1v11h-1z"/>
<defs><linearGradient id="cb" x1="0" y1="0" x2="0" y2="1"><stop offset="0.000" stop-color="#ff0000"/><stop offset="0.143" stop-color="#ff6400"/><stop offset="0.183" stop-color="#ff7800"/><stop offset="0.235" stop-color="#ffa500"/><stop offset="0.300" stop-color="#ffd200"/><stop offset="0.363" stop-color="#ffff00"/><stop offset="0.418" stop-color="#a0ff00"/><stop offset="0.463" stop-color="#3cf000"/><stop offset="0.500" stop-color="#00f01e"/><stop offset="0.555" stop-color="#00f046"/><stop offset="0.607" stop-color="#00f86e"/><stop offset="0.650" stop-color="#00f08c"/><stop offset="0.703" stop-color="#00f2c8"/><stop offset="0.747" stop-color="#00ffff"/><stop offset="0.797" stop-color="#0096ff"/><stop offset="0.830" stop-color="#0050ff"/><stop offset="0.873" stop-color="#0000ff"/><stop offset="0.937" stop-color="#0000aa"/><stop offset="1.000" stop-color="#0a006e"/></linearGradient></defs>
<rect x="613" y="57" width="14" height="300" fill="url(#cb)"/>
<path d="M111 55.5H600M111 357.5H600M111.5 55V358M599.5 55V358M112.5 358V368M132.5 358V363M152.5 358V363M172.5 358V363M193.5 358V363M213.5 358V363M233.5 358V368M254.5 358V363M274.5 358V363M294.5 358V363M314.5 358V363M335.5 358V363M355.5 358V368M375.5 358V363M396.5 358V363M416.5 358V363M436.5 358V363M456.5 358V363M477.5 358V368M497.5 358V363M517.5 358V363M538.5 358V363M558.5 358V363M578.5 358V363M599.5 358V368M111 407.5H600M111 514.5H600M111.5 407V515M599.5 407V515M112.5 515V525M132.5 515V520M152.5 515V520M172.5 515V520M193.5 515V520M213.5 515V520M233.5 515V525M254.5 515V520M274.5 515V520M294.5 515V520M314.5 515V520M335.5 515V520M355.5 515V525M375.5 515V520M396.5 515V520M416.5 515V520M436.5 515V520M456.5 515V520M477.5 515V525M497.5 515V520M517.5 515V520M538.5 515V520M558.5 515V520M578.5 515V520M599.5 515V525M111 565.5H600M111 672.5H600M111.5 565V673M599.5 565V673M112.5 673V683M132.5 673V678M152.5 673V678M172.5 673V678M193.5 673V678M213.5 673V678M233.5 673V683M254.5 673V678M274.5 673V678M294.5 673V678M314.5 673V678M335.5 673V678M355.5 673V683M375.5 673V678M396.5 673V678M416.5 673V678M436.5 673V678M456.5 673V678M477.5 673V683M497.5 673V678M517.5 673V678M538.5 673V678M558.5 673V678M578.5 673V678M599.5 673V683M111 722.5H600M111 862.5H600M111.5 722V863M599.5 722V863M112.5 863V873M132.5 863V868M152.5 863V868M172.5 863V868M193.5 863V868M213.5 863V868M233.5 863V873M254.5 863V868M274.5 863V868M294.5 863V868M314.5 863V868M335.5 863V868M355.5 863V873M375.5 863V868M396.5 863V868M416.5 863V868M436.5 863V868M456.5 863V868M477.5 863V873M497.5 863V868M517.5 863V868M538.5 863V868M558.5 863V868M578.5 863V868M599.5 863V873M106 357.5H111M106 341.5H111M106 327.5H111M106 315.5H111M106 305.5H111M101 295.5H111M106 234.5H111M106 198.5H111M106 172.5H111M106 153.5H111M106 136.5H111M106 123.5H111M106 111.5H111M106 100.5H111M101 91.5H111M106 513.5H111M106 510.5H111M106 507.5H111M106 505.5H111M106 503.5H111M106 502.5H111M106 500.5H111M101 499.5H111M106 491.5H111M106 486.5H111M106 483.5H111M106 480.5H111M106 478.5H111M106 476.5H111M106 475.5H111M106 474.5H111M101 472.5H111M106 464.5H111M106 460.5H111M106 456.5H111M106 454.5H111M106 452.5H111M106 450.5H111M106 448.5H111M106 447.5H111M101 446.5H111M106 438.5H111M106 433.5H111M106 430.5H111M106 427.5H111M106 425.5H111M106 423.5H111M106 422.5H111M106 420.5H111M101 419.5H111M106 411.5H111M101 670.5H111M106 668.5H111M106 665.5H111M106 663.5H111M106 660.5H111M101 658.5H111M106 655.5H111M106 653.5H111M106 650.5H111M106 648.5H111M101 645.5H111M106 643.5H111M106 640.5H111M106 638.5H111M106 635.5H111M101 633.5H111M106 630.5H111M106 628.5H111M106 625.5H111M106 623.5H111M101 620.5H111M106 618.5H111M106 615.5H111M106 613.5H111M106 610.5H111M101 608.5H111M106 605.5H111M106 603.5H111M106 600.5H111M106 598.5H111M101 595.5H111M106 593.5H111M106 590.5H111M106 588.5H111M106 585.5H111M101 583.5H111M106 580.5H111M106 578.5H111M106 575.5H111M106 573.5H111M101 570.5H111M106 568.5H111M106 860.5H111M106 857.5H111M101 855.5H111M106 853.5H111M106 850.5H111M106 848.5H111M106 845.5H111M106 843.5H111M106 840.5H111M106 838.5H111M106 836.5H111M106 833.5H111M101 831.5H111M106 828.5H111M106 826.5H111M106 824.5H111M106 821.5H111M106 819.5H111M106 816.5H111M106 814.5H111M106 811.5H111M106 809.5H111M101 807.5H111M106 804.5H111M106 802.5H111M106 799.5H111M106 797.5H111M106 795.5H111M106 792.5H111M106 790.5H111M106 787.5H111M106 785.5H111M101 782.5H111M106 780.5H111M106 778.5H111M106 775.5H111M106 773.5H111M106 770.5H111M106 768.5H111M106 765.5H111M106 763.5H111M106 761.5H111M101 758.5H111M106 756.5H111M106 753.5H111M106 751.5H111M106 749.5H111M106 746.5H111M106 744.5H111M106 741.5H111M106 739.5H111M106 736.5H111M101 734.5H111M106 732.5H111M106 729.5H111M106 727.5H111M106 724.5H111M627.5 56V358M613 357.5H634M628 322.5H638M628 287.5H634M628 252.5H638M628 217.5H634M628 182.5H638M628 147.5H634M628 112.5H638M628 77.5H634" stroke="#000" stroke-width="1" fill="none" shape-rendering="crispEdges"/>
<g fill="none" stroke="#000" stroke-linejoin="round" stroke-linecap="round">
<path d="M111.70 483.40 112.17 482.54 112.65 483.01 113.12 482.36 113.59 482.66 114.06 482.46 114.54 480.95 115.01 480.59 115.48 482.18 115.95 480.66 116.43 480.37 116.90 480.70 117.36 481.53 117.82 480.17 118.28 480.71 118.74 479.72 119.20 479.82 119.66 478.59 120.12 479.34 120.58 479.57 121.04 478.65 121.50 478.84 121.96 478.47 122.42 477.06 122.88 478.16 123.34 477.61 123.80 477.20 124.26 476.51 124.72 475.70 125.18 476.90 125.64 475.87 126.10 475.98 126.56 475.93 127.02 475.32 127.48 475.34 127.94 474.15 128.40 474.49 128.86 473.59 129.32 474.04 129.78 473.62 130.24 472.11 130.70 472.40 131.16 471.50 131.62 471.26 132.08 471.95 132.54 470.85 133.00 470.74 133.46 469.94 133.92 469.84 134.38 469.32 134.84 468.91 135.30 468.84 135.76 468.48 136.22 468.53 136.68 467.87 137.14 467.82 137.60 466.90 138.06 467.04 138.52 466.90 138.98 466.16 139.44 465.18 139.90 465.77 140.36 465.58 140.82 465.19 141.28 464.43 141.74 464.30 142.20 463.32 142.66 463.81 143.12 463.16 143.58 462.46 144.04 461.85 144.50 462.10 144.96 462.35 145.42 462.32 145.88 460.94 146.33 461.66 146.79 460.94 147.25 460.40 147.71 460.37 148.17 460.78 148.62 460.71 149.08 459.42 149.54 459.96 150.00 459.60 150.46 459.10 150.91 460.06 151.37 459.65 151.82 460.45 152.28 460.67 152.73 460.14 153.19 460.87 153.64 460.06 154.10 460.40 154.60 460.28 155.10 461.39 155.60 461.08 156.10 461.72 156.60 462.42 157.10 463.12 157.60 463.40 158.05 463.89 158.50 464.67 158.95 466.68 159.40 466.89 159.85 468.66 160.30 469.00 160.83 470.90 161.35 471.57 161.88 473.06 162.40 474.50 162.87 475.43 163.33 476.56 163.80 477.20 164.27 477.28 164.73 477.11 165.20 477.12 165.67 477.61 166.13 476.71 166.60 476.60 167.10 477.15 167.60 478.38 168.10 478.10 168.60 479.30 169.12 481.11 169.65 484.95 170.17 486.10 170.70 488.30 172.30 502.10 172.90 502.52 173.50 500.66 174.10 502.80 174.80 489.70 175.27 488.99 175.73 488.99 176.20 488.30 177.60 477.20 179.00 457.90 180.30 446.90 180.83 444.55 181.35 443.60 181.88 441.90 182.40 440.00 185.20 423.40 185.65 420.88 186.10 419.67 186.55 417.51 187.00 415.83 187.45 413.46 187.90 411.70 190.00 427.60 191.10 455.20 191.80 514.00M193.30 514.00 193.30 500.00M196.20 514.00 196.60 462.00 197.60 427.60 199.40 412.40 199.86 414.33 200.32 416.03 200.78 416.76 201.24 418.47 201.70 420.70 202.15 423.75 202.60 426.95 203.05 428.85 203.50 432.00 204.00 434.29 204.50 436.82 205.00 438.82 205.50 441.40 206.03 443.62 206.55 445.96 207.07 448.43 207.60 451.00 209.00 463.40 210.30 480.00 212.40 495.20 213.00 498.07 213.60 499.52 214.20 502.80 215.90 489.70 216.40 487.29 216.90 486.24 217.40 482.35 217.90 481.40 218.43 480.35 218.95 479.48 219.47 477.43 220.00 476.60 220.47 476.09 220.93 477.16 221.40 476.12 221.87 476.03 222.33 476.48 222.80 476.60 223.45 477.62 224.10 477.90 224.62 475.63 225.15 474.50 225.67 472.99 226.20 471.70 226.70 470.96 227.20 469.25 227.70 468.61 228.20 466.53 228.70 465.56 229.20 464.78 229.70 463.40 230.19 463.31 230.67 462.17 231.16 461.29 231.64 460.56 232.13 460.51 232.61 459.48 233.10 459.30 233.60 459.54 234.10 459.43 234.60 458.42 235.10 458.38 235.60 458.91 236.10 458.54 236.60 458.20 237.08 458.74 237.56 458.28 238.04 458.14 238.52 458.49 239.00 459.28 239.48 458.74 239.96 458.98 240.44 459.21 240.92 459.36 241.40 459.60 241.86 459.76 242.32 460.69 242.78 459.97 243.24 460.05 243.70 461.54 244.16 461.73 244.62 462.15 245.08 461.70 245.54 462.65 246.00 462.89 246.46 462.25 246.92 463.20 247.38 463.59 247.84 463.64 248.30 463.70 248.76 463.98 249.22 463.95 249.68 464.27 250.14 464.39 250.60 464.44 251.06 465.38 251.52 465.24 251.98 466.18 252.44 465.45 252.90 466.82 253.36 466.81 253.82 467.37 254.28 467.60 254.74 467.86 255.20 467.60 255.66 467.88 256.12 467.33 256.58 468.46 257.04 467.89 257.50 468.24 257.96 468.89 258.42 468.89 258.88 468.93 259.34 469.79 259.80 469.55 260.26 469.37 260.72 469.44 261.18 470.41 261.64 470.09 262.10 470.30 262.56 470.79 263.02 470.33 263.48 470.23 263.94 470.80 264.40 471.30 264.86 470.53 265.32 471.50 265.78 471.80 266.24 471.75 266.70 471.89 267.16 470.85 267.62 471.84 268.08 472.30 268.54 471.23 269.00 472.00 269.46 471.80 269.92 471.94 270.38 472.46 270.84 472.44 271.30 472.66 271.76 473.26 272.22 472.21 272.68 472.43 273.14 472.68 273.60 472.81 274.06 472.86 274.52 474.44 274.98 474.39 275.44 473.29 275.90 474.10 276.36 474.18 276.82 473.94 277.28 474.01 277.74 474.15 278.20 474.71 278.66 474.68 279.12 474.38 279.58 474.17 280.04 474.47 280.50 474.20 280.96 475.00 281.42 475.35 281.88 474.85 282.34 474.41 282.80 475.20 283.26 474.65 283.72 474.98 284.18 475.38 284.64 475.68 285.10 474.99 285.56 475.72 286.02 475.41 286.48 475.08 286.94 474.98 287.40 475.19 287.86 475.55 288.32 475.06 288.78 475.53 289.24 475.13 289.70 475.20 290.16 474.69 290.62 475.11 291.08 475.31 291.54 474.18 292.00 474.71 292.46 474.64 292.92 475.32 293.38 475.34 293.84 474.33 294.30 475.13 294.76 474.87 295.22 473.93 295.68 474.19 296.14 473.56 296.60 474.10 297.08 474.52 297.56 474.18 298.05 474.45 298.53 474.20 299.01 473.91 299.49 473.92 299.97 473.56 300.45 472.75 300.94 473.42 301.42 472.42 301.90 473.10 302.36 472.41 302.82 473.24 303.28 471.99 303.74 471.93 304.20 471.80 304.66 472.82 305.12 471.65 305.58 471.29 306.04 472.33 306.50 471.16 306.96 472.05 307.42 471.67 307.88 471.75 308.34 471.77 308.80 471.00 309.26 470.95 309.72 471.10 310.18 469.92 310.64 470.74 311.10 470.25 311.56 470.36 312.02 469.42 312.48 470.10 312.94 470.18 313.40 468.90 313.86 469.08 314.32 469.24 314.78 469.43 315.24 468.52 315.70 468.70 316.16 468.02 316.62 467.85 317.08 468.07 317.54 467.99 318.00 467.26 318.46 466.97 318.92 466.75 319.38 466.43 319.84 466.25 320.30 465.56 320.76 465.84 321.22 466.19 321.68 465.21 322.14 465.38 322.60 464.80 323.06 464.09 323.52 464.50 323.98 464.31 324.44 463.93 324.90 463.46 325.36 463.14 325.82 463.07 326.28 463.13 326.74 461.88 327.20 461.54 327.66 462.12 328.12 462.06 328.58 461.27 329.04 460.90 329.50 460.70 329.96 460.80 330.41 459.91 330.87 459.83 331.32 459.55 331.78 459.87 332.23 459.33 332.69 459.03 333.14 459.44 333.60 459.00 334.07 459.55 334.53 458.65 335.00 459.13 335.47 458.71 335.93 459.24 336.40 458.84 336.87 458.39 337.33 458.28 337.80 458.60 338.26 458.14 338.71 458.88 339.17 458.91 339.62 458.80 340.08 459.20 340.53 459.30 340.99 460.05 341.44 459.38 341.90 460.00 342.37 461.21 342.83 461.11 343.30 461.83 343.77 462.23 344.23 463.27 344.70 463.40 345.24 465.20 345.78 466.23 346.32 467.52 346.86 469.21 347.40 470.30 347.92 472.55 348.45 473.59 348.98 475.88 349.50 477.20 349.97 478.79 350.43 478.54 350.90 479.30 351.40 478.23 351.90 477.73 352.40 478.14 352.90 477.20 353.42 478.24 353.95 479.51 354.48 480.02 355.00 480.00 355.52 480.81 356.05 482.03 356.58 483.54 357.10 485.50 358.20 496.60 358.70 507.60 359.10 489.70 360.50 508.30 361.90 495.20 363.30 477.20 365.30 455.20 365.77 452.49 366.23 450.87 366.70 448.77 367.17 446.52 367.63 443.38 368.10 441.40 370.60 420.70 371.08 419.27 371.55 416.66 372.02 414.90 372.50 413.10 372.97 415.93 373.43 417.63 373.90 420.70 375.00 462.10 375.70 514.00M381.60 514.00 381.60 462.00 382.60 427.60 383.60 417.90 384.17 419.67 384.73 422.93 385.30 424.80 388.80 448.30 391.60 469.00 393.60 496.60 394.60 509.00 395.50 511.70 395.97 508.47 396.43 506.49 396.90 504.80 399.00 488.30 399.50 486.26 400.00 484.22 400.50 480.45 401.00 479.30 401.52 478.72 402.05 478.67 402.58 478.52 403.10 478.30 403.60 477.87 404.10 478.75 404.60 479.64 405.10 478.65 405.60 479.10 406.10 478.38 406.60 479.30 407.10 477.32 407.60 476.50 408.10 474.00 408.60 473.10 409.07 472.03 409.53 470.40 410.00 467.73 410.47 467.21 410.93 464.85 411.40 463.40 411.89 463.21 412.37 462.65 412.86 461.51 413.34 461.46 413.83 460.89 414.31 460.54 414.80 459.60 415.30 459.15 415.80 459.64 416.30 459.77 416.80 459.25 417.30 458.93 417.80 458.24 418.30 458.60 418.78 458.81 419.25 458.84 419.73 459.53 420.21 459.69 420.68 459.76 421.16 459.48 421.64 460.30 422.12 460.49 422.59 460.12 423.07 461.26 423.55 461.17 424.02 460.69 424.50 461.40 424.96 462.23 425.42 461.48 425.88 462.00 426.34 462.78 426.80 462.89 427.26 463.11 427.72 463.51 428.18 463.53 428.64 463.62 429.10 463.71 429.56 463.85 430.02 464.96 430.48 465.28 430.94 465.28 431.40 465.50 431.86 466.04 432.32 465.78 432.78 465.90 433.24 466.28 433.70 467.15 434.16 466.30 434.62 467.14 435.08 467.04 435.54 467.95 436.00 467.64 436.46 467.85 436.92 468.17 437.38 468.59 437.84 469.12 438.30 469.00 438.76 468.99 439.22 469.81 439.68 469.04 440.14 469.42 440.60 469.38 441.06 469.57 441.52 470.63 441.98 470.74 442.44 470.19 442.90 470.38 443.36 470.87 443.82 471.50 444.28 471.78 444.74 471.87 445.20 471.70 445.66 471.97 446.12 471.46 446.58 471.97 447.04 471.81 447.50 472.44 447.96 472.64 448.42 472.23 448.88 472.44 449.34 473.39 449.80 472.37 450.26 473.71 450.72 473.99 451.18 474.23 451.64 473.47 452.10 473.80 452.56 473.98 453.02 474.12 453.48 474.30 453.94 474.95 454.40 474.57 454.86 474.03 455.32 475.05 455.78 474.52 456.24 474.81 456.70 475.11 457.16 473.99 457.62 475.38 458.08 475.29 458.54 475.09 459.00 475.20 459.46 475.27 459.92 475.19 460.38 474.75 460.84 475.36 461.30 474.53 461.76 475.36 462.22 475.64 462.68 475.32 463.14 475.55 463.60 476.26 464.06 476.18 464.52 474.89 464.98 476.06 465.44 475.79 465.90 475.60 466.36 474.79 466.82 475.30 467.28 475.06 467.74 474.76 468.20 475.53 468.66 476.19 469.12 475.11 469.58 476.03 470.04 475.70 470.50 474.70 470.96 475.92 471.42 475.45 471.88 475.99 472.34 475.60 472.80 475.20 473.26 475.54 473.72 474.80 474.18 475.52 474.64 475.66 475.10 475.48 475.56 474.69 476.02 475.16 476.48 474.64 476.94 473.95 477.40 473.77 477.86 473.77 478.32 473.90 478.78 473.77 479.24 474.26 479.70 474.20 480.16 474.38 480.62 473.97 481.08 473.64 481.54 473.85 482.00 473.16 482.46 473.26 482.92 473.57 483.38 472.87 483.84 472.39 484.30 473.34 484.76 472.92 485.22 472.24 485.68 472.10 486.14 472.19 486.60 472.00 487.08 471.96 487.56 471.25 488.04 470.76 488.51 470.88 488.99 471.50 489.47 470.44 489.95 470.70 490.43 470.16 490.91 470.01 491.39 469.78 491.86 469.91 492.34 469.43 492.82 469.06 493.30 469.50 493.76 468.77 494.22 468.61 494.68 468.80 495.14 468.02 495.61 467.74 496.07 468.07 496.53 467.79 496.99 467.94 497.45 466.87 497.91 467.10 498.37 466.86 498.83 466.15 499.29 467.14 499.76 465.95 500.22 465.56 500.68 465.82 501.14 465.19 501.60 465.40 502.06 465.28 502.51 464.64 502.97 464.08 503.42 463.71 503.88 464.31 504.33 463.44 504.79 463.83 505.24 463.13 505.70 463.46 506.16 462.36 506.61 462.02 507.07 461.76 507.52 462.20 507.98 461.68 508.43 461.03 508.89 460.43 509.34 460.91 509.80 460.40 510.25 460.78 510.71 460.07 511.16 459.07 511.62 458.88 512.07 458.73 512.53 458.61 512.98 458.21 513.44 458.00 513.89 458.56 514.35 458.65 514.80 457.90 515.26 457.48 515.71 458.45 516.17 457.77 516.62 458.16 517.08 458.28 517.53 458.27 517.99 457.06 518.44 457.38 518.90 457.60 519.37 458.05 519.83 458.80 520.30 458.00 520.77 458.58 521.23 459.61 521.70 458.97 522.17 459.63 522.63 459.87 523.10 460.40 523.57 461.46 524.04 462.61 524.51 462.46 524.99 464.03 525.46 464.85 525.93 465.81 526.40 466.20 526.90 467.77 527.40 469.75 527.90 470.51 528.40 472.07 528.90 473.70 529.38 474.07 529.86 475.82 530.34 476.13 530.82 476.55 531.30 477.80 531.80 476.83 532.30 477.53 532.80 476.97 533.30 476.82 533.80 476.10 534.30 476.89 534.80 478.07 535.30 478.40 535.80 480.54 536.30 481.10 536.80 482.85 537.30 486.81 537.80 490.55 538.30 492.70 539.60 503.40 540.17 501.60 540.73 497.03 541.30 496.00 541.83 492.40 542.37 491.48 542.90 487.70 545.40 466.20 547.90 449.70 548.37 448.46 548.84 447.33 549.31 445.90 549.79 443.92 550.26 443.07 550.73 441.43 551.20 439.70 551.70 436.84 552.20 434.25 552.70 431.22 553.20 429.01 553.70 426.50 554.23 424.82 554.75 421.44 555.27 419.76 555.80 417.40 557.80 429.80 558.70 466.20 559.50 514.00M562.30 514.00 562.80 469.50 564.10 429.80 566.10 412.40 566.60 413.71 567.10 415.50 567.60 418.05 568.10 419.34 568.60 421.50 571.10 438.10 574.40 454.60 576.90 486.10 578.00 499.30 579.00 508.40 579.57 503.50 580.13 500.98 580.70 499.30 582.60 484.40 583.10 483.42 583.60 481.95 584.10 479.40 584.60 478.57 585.10 477.80 585.60 479.03 586.10 477.89 586.60 478.88 587.10 478.92 587.60 479.40 588.07 478.78 588.54 477.25 589.01 476.40 589.49 474.77 589.96 473.05 590.43 471.89 590.90 471.20 591.37 469.64 591.83 469.60 592.30 467.66 592.77 466.54 593.23 466.75 593.70 464.74 594.17 464.63 594.63 462.57 595.10 462.10 595.59 461.81 596.07 461.25 596.56 461.80 597.04 461.28 597.53 461.07 598.01 460.98 598.50 460.40" stroke-width="1.3" shape-rendering="crispEdges"/>
<path d="M111.70 644.80C112.57 644.38 114.88 643.28 116.90 642.30C118.92 641.32 121.50 640.08 123.80 638.90C126.10 637.72 128.40 636.52 130.70 635.20C133.00 633.88 135.30 632.50 137.60 631.00C139.90 629.50 142.20 627.97 144.50 626.20C146.80 624.43 149.10 622.47 151.40 620.40C153.70 618.33 156.00 616.17 158.30 613.80C160.60 611.43 162.90 608.85 165.20 606.20C167.50 603.55 170.03 600.77 172.10 597.90C174.17 595.03 176.00 591.98 177.60 589.00C179.20 586.02 180.55 582.88 181.70 580.00C182.85 577.12 184.03 573.08 184.50 571.70C184.95 572.52 186.40 575.10 187.20 576.60C188.00 578.10 188.55 579.57 189.30 580.70C190.05 581.83 191.02 581.57 191.70 583.40C192.38 585.23 192.88 590.08 193.40 591.70C193.92 593.32 194.10 592.63 194.80 593.10C195.50 593.57 196.75 593.82 197.60 594.50C198.45 595.18 199.10 598.12 199.90 597.20C200.70 596.28 201.52 591.98 202.40 589.00C203.28 586.02 204.28 582.07 205.20 579.30C206.12 576.53 207.20 573.73 207.90 572.40C208.60 571.07 209.15 571.48 209.40 571.30C209.90 571.95 211.20 573.92 212.40 575.20C213.60 576.48 215.22 578.08 216.60 579.00C217.98 579.92 219.33 580.35 220.70 580.70C222.07 581.05 223.20 581.15 224.80 581.10C226.40 581.05 228.45 580.82 230.30 580.40C232.15 579.98 234.05 579.35 235.90 578.60C237.75 577.85 239.57 576.82 241.40 575.90C243.23 574.98 245.18 573.98 246.90 573.10C248.62 572.22 250.90 571.02 251.70 570.60C252.73 571.22 255.02 572.58 257.90 574.30C260.78 576.02 264.85 578.45 269.00 580.90C273.15 583.35 278.47 586.43 282.80 589.00C287.13 591.57 290.67 593.72 295.00 596.30C299.33 598.88 304.20 601.78 308.80 604.50C313.40 607.22 318.00 609.88 322.60 612.60C327.20 615.32 331.80 618.07 336.40 620.80C341.00 623.53 346.98 627.30 350.20 629.00C353.42 630.70 354.10 630.62 355.70 631.00C357.30 631.38 358.53 631.52 359.80 631.30C361.07 631.08 362.27 630.78 363.30 629.70C364.33 628.62 365.08 627.22 366.00 624.80C366.92 622.38 367.87 619.10 368.80 615.20C369.73 611.30 370.92 604.85 371.60 601.40C372.28 597.95 372.33 596.12 372.90 594.50C373.47 592.88 374.37 592.50 375.00 591.70C375.63 590.90 376.28 592.57 376.70 589.70C377.12 586.83 377.37 577.03 377.50 574.50C377.73 576.68 378.52 583.12 378.90 587.60C379.28 592.08 379.42 596.35 379.80 601.40C380.18 606.45 380.62 611.93 381.20 617.90C381.78 623.87 382.50 631.22 383.30 637.20C384.10 643.18 384.90 650.04 386.00 653.80C387.10 657.55 388.75 659.11 389.90 659.73C391.05 660.36 391.90 658.26 392.90 657.55C393.90 656.83 394.90 656.13 395.90 655.44C396.90 654.75 397.90 654.06 398.90 653.38C399.90 652.70 400.90 652.04 401.90 651.39C402.90 650.74 403.90 650.09 404.90 649.45C405.90 648.82 406.90 648.20 407.90 647.58C408.90 646.97 409.90 646.36 410.90 645.76C411.90 645.16 412.90 644.59 413.90 644.01C414.90 643.43 415.90 642.87 416.90 642.31C417.90 641.75 418.90 641.21 419.90 640.67C420.90 640.13 421.90 639.60 422.90 639.08C423.90 638.56 424.90 638.05 425.90 637.55C426.90 637.05 427.90 636.56 428.90 636.08C429.90 635.60 430.90 635.12 431.90 634.66C432.90 634.20 433.90 633.74 434.90 633.30C435.90 632.86 436.90 632.42 437.90 632.00C438.90 631.58 439.90 631.16 440.90 630.75C441.90 630.34 442.90 629.94 443.90 629.55C444.90 629.16 445.90 628.78 446.90 628.41C447.90 628.04 448.90 627.68 449.90 627.32C450.90 626.97 451.90 626.62 452.90 626.28C453.90 625.94 454.90 625.61 455.90 625.29C456.90 624.97 457.90 624.66 458.90 624.36C459.90 624.06 460.90 623.76 461.90 623.48C462.90 623.20 463.90 622.92 464.90 622.65C465.90 622.38 466.90 622.12 467.90 621.87C468.90 621.62 469.90 621.38 470.90 621.14C471.90 620.90 472.90 620.68 473.90 620.46C474.90 620.24 475.90 620.03 476.90 619.82C477.90 619.61 478.90 619.41 479.90 619.20C480.90 618.99 481.90 618.78 482.90 618.57C483.90 618.36 484.90 618.15 485.90 617.93C486.90 617.71 487.90 617.48 488.90 617.24C489.90 617.00 490.90 616.75 491.90 616.48C492.90 616.21 493.90 615.93 494.90 615.63C495.90 615.33 496.90 615.01 497.90 614.67C498.90 614.33 499.90 613.97 500.90 613.58C501.90 613.19 502.90 612.78 503.90 612.33C504.90 611.88 505.90 611.42 506.90 610.91C507.90 610.40 508.90 609.86 509.90 609.28C510.90 608.70 511.90 608.09 512.90 607.44C513.90 606.79 514.90 606.10 515.90 605.36C516.90 604.62 517.90 603.84 518.90 603.01C519.90 602.18 520.90 601.31 521.90 600.38C522.90 599.45 523.90 598.47 524.90 597.44C525.90 596.41 526.90 595.33 527.90 594.18C528.90 593.03 529.90 591.83 530.90 590.56C531.90 589.29 532.72 588.35 533.90 586.57C535.08 584.79 536.55 582.44 538.00 579.90C539.45 577.36 541.83 572.73 542.60 571.30C543.20 572.73 545.05 576.27 546.20 579.90C547.35 583.53 548.38 587.58 549.50 593.10C550.62 598.62 551.78 605.55 552.90 613.00C554.02 620.45 555.17 628.98 556.20 637.80C557.23 646.62 558.42 660.67 559.10 665.90C559.78 671.13 560.10 668.65 560.30 669.20C560.50 668.10 561.08 670.87 561.50 662.60C561.92 654.33 562.32 633.93 562.80 619.60C563.28 605.27 564.13 583.77 564.40 576.60C564.68 579.35 565.53 586.77 566.10 593.10C566.67 599.43 566.97 608.53 567.80 614.60C568.63 620.67 569.45 624.80 571.10 629.50C572.75 634.20 575.50 639.48 577.70 642.80C579.90 646.12 582.10 647.80 584.30 649.40C586.50 651.00 588.53 651.72 590.90 652.40C593.27 653.08 597.23 653.32 598.50 653.50" stroke-width="1.7" shape-rendering="crispEdges"/>
<path d="M111.70 730.49C112.03 730.63 113.03 731.04 113.70 731.33C114.37 731.62 115.03 731.93 115.70 732.25C116.37 732.57 117.03 732.90 117.70 733.24C118.37 733.58 119.03 733.94 119.70 734.31C120.37 734.68 121.03 735.07 121.70 735.47C122.37 735.87 123.03 736.28 123.70 736.71C124.37 737.14 125.03 737.59 125.70 738.05C126.37 738.51 127.03 738.98 127.70 739.47C128.37 739.96 129.03 740.48 129.70 741.00C130.37 741.52 131.03 742.06 131.70 742.62C132.37 743.18 133.03 743.75 133.70 744.35C134.37 744.95 135.03 745.56 135.70 746.19C136.37 746.82 137.03 747.47 137.70 748.14C138.37 748.81 139.03 749.50 139.70 750.21C140.37 750.92 141.03 751.65 141.70 752.40C142.37 753.15 143.03 753.92 143.70 754.71C144.37 755.50 145.03 756.31 145.70 757.14C146.37 757.97 147.03 758.83 147.70 759.71C148.37 760.59 149.03 761.49 149.70 762.41C150.37 763.33 151.03 764.27 151.70 765.24C152.37 766.21 153.03 767.20 153.70 768.22C154.37 769.24 155.03 770.28 155.70 771.34C156.37 772.40 157.03 773.49 157.70 774.61C158.37 775.73 159.03 776.87 159.70 778.04C160.37 779.21 161.03 780.39 161.70 781.61C162.37 782.83 163.03 784.07 163.70 785.34C164.37 786.61 165.03 787.91 165.70 789.23C166.37 790.55 167.03 791.90 167.70 793.27C168.37 794.64 169.03 796.04 169.70 797.46C170.37 798.88 171.03 800.33 171.70 801.80C172.37 803.27 173.03 804.77 173.70 806.29C174.37 807.81 175.03 809.36 175.70 810.93C176.37 812.50 177.03 814.10 177.70 815.72C178.37 817.34 179.03 818.99 179.70 820.66C180.37 822.33 181.03 824.03 181.70 825.74C182.37 827.45 183.03 829.20 183.70 830.93C184.37 832.66 184.47 832.89 185.70 836.10C186.93 839.31 189.73 847.27 191.10 850.20C192.47 853.13 192.83 853.70 193.90 853.70C194.97 853.70 196.17 852.79 197.50 850.20C198.83 847.61 200.83 841.13 201.90 838.16C202.97 835.19 203.23 834.35 203.90 832.39C204.57 830.43 205.23 828.39 205.90 826.38C206.57 824.37 207.23 822.32 207.90 820.34C208.57 818.36 209.23 816.38 209.90 814.48C210.57 812.58 211.23 810.73 211.90 808.94C212.57 807.15 213.23 805.41 213.90 803.72C214.57 802.03 215.23 800.39 215.90 798.80C216.57 797.21 217.23 795.66 217.90 794.16C218.57 792.66 219.23 791.20 219.90 789.79C220.57 788.38 221.23 787.01 221.90 785.68C222.57 784.35 223.23 783.05 223.90 781.80C224.57 780.54 225.23 779.33 225.90 778.15C226.57 776.97 227.23 775.81 227.90 774.69C228.57 773.57 229.23 772.49 229.90 771.43C230.57 770.37 231.23 769.34 231.90 768.34C232.57 767.34 233.23 766.36 233.90 765.41C234.57 764.46 235.23 763.53 235.90 762.62C236.57 761.71 237.23 760.83 237.90 759.97C238.57 759.11 239.23 758.27 239.90 757.46C240.57 756.65 241.23 755.86 241.90 755.09C242.57 754.32 243.23 753.58 243.90 752.85C244.57 752.12 245.23 751.42 245.90 750.74C246.57 750.06 247.23 749.40 247.90 748.76C248.57 748.12 249.23 747.50 249.90 746.90C250.57 746.30 251.23 745.73 251.90 745.17C252.57 744.61 253.23 744.08 253.90 743.56C254.57 743.04 255.23 742.55 255.90 742.07C256.57 741.59 257.23 741.13 257.90 740.69C258.57 740.25 259.23 739.83 259.90 739.43C260.57 739.03 261.23 738.65 261.90 738.28C262.57 737.91 263.23 737.56 263.90 737.23C264.57 736.90 265.23 736.58 265.90 736.29C266.57 736.00 267.23 735.72 267.90 735.46C268.57 735.20 269.23 734.95 269.90 734.72C270.57 734.49 271.23 734.28 271.90 734.08C272.57 733.88 273.23 733.70 273.90 733.54C274.57 733.38 275.23 733.23 275.90 733.09C276.57 732.96 277.23 732.84 277.90 732.73C278.57 732.62 279.23 732.54 279.90 732.46C280.57 732.38 281.23 732.32 281.90 732.27C282.57 732.22 283.23 732.18 283.90 732.16C284.57 732.14 285.23 732.13 285.90 732.14C286.57 732.15 287.23 732.17 287.90 732.20C288.57 732.23 289.23 732.27 289.90 732.33C290.57 732.39 291.23 732.47 291.90 732.56C292.57 732.65 293.23 732.75 293.90 732.87C294.57 732.99 295.23 733.11 295.90 733.26C296.57 733.41 297.23 733.57 297.90 733.75C298.57 733.93 299.23 734.12 299.90 734.33C300.57 734.54 301.23 734.76 301.90 735.00C302.57 735.24 303.23 735.50 303.90 735.77C304.57 736.04 305.23 736.33 305.90 736.64C306.57 736.95 307.23 737.27 307.90 737.61C308.57 737.95 309.23 738.31 309.90 738.68C310.57 739.05 311.23 739.44 311.90 739.85C312.57 740.26 313.23 740.68 313.90 741.13C314.57 741.58 315.23 742.04 315.90 742.52C316.57 743.00 317.23 743.50 317.90 744.02C318.57 744.54 319.23 745.08 319.90 745.63C320.57 746.18 321.23 746.76 321.90 747.35C322.57 747.94 323.23 748.56 323.90 749.19C324.57 749.82 325.23 750.48 325.90 751.15C326.57 751.82 327.23 752.52 327.90 753.23C328.57 753.94 329.23 754.68 329.90 755.43C330.57 756.18 331.23 756.95 331.90 757.75C332.57 758.55 333.23 759.37 333.90 760.21C334.57 761.05 335.23 761.90 335.90 762.78C336.57 763.66 337.23 764.57 337.90 765.50C338.57 766.43 339.23 767.37 339.90 768.35C340.57 769.33 341.23 770.33 341.90 771.36C342.57 772.39 343.23 773.45 343.90 774.54C344.57 775.63 345.23 776.74 345.90 777.89C346.57 779.04 347.23 780.22 347.90 781.44C348.57 782.66 349.23 783.90 349.90 785.19C350.57 786.48 351.23 787.80 351.90 789.16C352.57 790.52 353.23 791.91 353.90 793.35C354.57 794.79 355.23 796.26 355.90 797.78C356.57 799.30 357.23 800.86 357.90 802.46C358.57 804.06 359.23 805.71 359.90 807.40C360.57 809.09 361.23 810.83 361.90 812.62C362.57 814.41 363.23 816.24 363.90 818.12C364.57 820.00 365.23 821.94 365.90 823.89C366.57 825.84 367.23 827.84 367.90 829.81C368.57 831.78 368.65 832.06 369.90 835.69C371.15 839.32 374.02 848.40 375.40 851.60C376.78 854.80 377.25 854.90 378.20 854.90C379.15 854.90 379.77 854.53 381.10 851.60C382.43 848.67 385.02 840.72 386.20 837.32C387.38 833.93 387.53 833.30 388.20 831.23C388.87 829.16 389.53 827.02 390.20 824.90C390.87 822.78 391.53 820.63 392.20 818.53C392.87 816.43 393.53 814.32 394.20 812.30C394.87 810.28 395.53 808.30 396.20 806.40C396.87 804.50 397.53 802.66 398.20 800.89C398.87 799.12 399.53 797.40 400.20 795.75C400.87 794.10 401.53 792.50 402.20 790.96C402.87 789.42 403.53 787.93 404.20 786.49C404.87 785.05 405.53 783.67 406.20 782.33C406.87 780.99 407.53 779.69 408.20 778.44C408.87 777.19 409.53 775.99 410.20 774.82C410.87 773.65 411.53 772.52 412.20 771.42C412.87 770.32 413.53 769.26 414.20 768.23C414.87 767.20 415.53 766.20 416.20 765.23C416.87 764.26 417.53 763.32 418.20 762.40C418.87 761.48 419.53 760.59 420.20 759.72C420.87 758.85 421.53 758.02 422.20 757.20C422.87 756.38 423.53 755.60 424.20 754.83C424.87 754.07 425.53 753.33 426.20 752.61C426.87 751.89 427.53 751.20 428.20 750.53C428.87 749.86 429.53 749.21 430.20 748.59C430.87 747.97 431.53 747.37 432.20 746.79C432.87 746.21 433.53 745.66 434.20 745.13C434.87 744.60 435.53 744.08 436.20 743.59C436.87 743.10 437.53 742.63 438.20 742.18C438.87 741.73 439.53 741.30 440.20 740.89C440.87 740.48 441.53 740.09 442.20 739.72C442.87 739.35 443.53 739.00 444.20 738.67C444.87 738.34 445.53 738.02 446.20 737.73C446.87 737.44 447.53 737.16 448.20 736.90C448.87 736.64 449.53 736.39 450.20 736.17C450.87 735.94 451.53 735.74 452.20 735.55C452.87 735.36 453.53 735.18 454.20 735.02C454.87 734.86 455.53 734.72 456.20 734.59C456.87 734.46 457.53 734.35 458.20 734.25C458.87 734.15 459.53 734.07 460.20 734.00C460.87 733.93 461.53 733.87 462.20 733.83C462.87 733.79 463.53 733.76 464.20 733.74C464.87 733.72 465.53 733.72 466.20 733.73C466.87 733.74 467.53 733.76 468.20 733.79C468.87 733.82 469.53 733.87 470.20 733.93C470.87 733.99 471.53 734.06 472.20 734.15C472.87 734.24 473.53 734.34 474.20 734.45C474.87 734.56 475.53 734.69 476.20 734.83C476.87 734.97 477.53 735.13 478.20 735.30C478.87 735.47 479.53 735.66 480.20 735.86C480.87 736.06 481.53 736.28 482.20 736.51C482.87 736.74 483.53 736.99 484.20 737.26C484.87 737.53 485.53 737.81 486.20 738.11C486.87 738.41 487.53 738.72 488.20 739.05C488.87 739.38 489.53 739.73 490.20 740.10C490.87 740.47 491.53 740.85 492.20 741.25C492.87 741.65 493.53 742.07 494.20 742.51C494.87 742.95 495.53 743.40 496.20 743.88C496.87 744.36 497.53 744.86 498.20 745.37C498.87 745.88 499.53 746.42 500.20 746.97C500.87 747.52 501.53 748.10 502.20 748.69C502.87 749.28 503.53 749.90 504.20 750.53C504.87 751.16 505.53 751.82 506.20 752.49C506.87 753.16 507.53 753.86 508.20 754.58C508.87 755.30 509.53 756.04 510.20 756.80C510.87 757.56 511.53 758.34 512.20 759.15C512.87 759.96 513.53 760.79 514.20 761.64C514.87 762.49 515.53 763.36 516.20 764.26C516.87 765.16 517.53 766.09 518.20 767.03C518.87 767.97 519.53 768.94 520.20 769.93C520.87 770.92 521.53 771.94 522.20 772.98C522.87 774.02 523.53 775.09 524.20 776.18C524.87 777.27 525.53 778.38 526.20 779.51C526.87 780.64 527.53 781.80 528.20 782.98C528.87 784.16 529.53 785.35 530.20 786.57C530.87 787.79 531.53 789.02 532.20 790.28C532.87 791.54 533.53 792.82 534.20 794.11C534.87 795.40 535.53 796.71 536.20 798.04C536.87 799.37 537.53 800.72 538.20 802.08C538.87 803.44 539.53 804.81 540.20 806.20C540.87 807.59 541.53 809.00 542.20 810.42C542.87 811.84 543.53 813.27 544.20 814.72C544.87 816.17 545.53 817.62 546.20 819.09C546.87 820.56 547.53 822.04 548.20 823.53C548.87 825.02 549.53 826.52 550.20 828.03C550.87 829.54 551.53 831.06 552.20 832.59C552.87 834.12 553.53 835.67 554.20 837.19C554.87 838.71 555.53 840.07 556.20 841.69C556.87 843.31 557.47 845.76 558.20 846.90C558.93 848.03 559.75 847.83 560.60 848.50C561.45 849.17 562.38 851.17 563.30 850.90C564.22 850.63 564.77 850.04 566.10 846.90C567.43 843.76 570.10 835.58 571.30 832.07C572.50 828.56 572.63 827.91 573.30 825.82C573.97 823.73 574.63 821.58 575.30 819.51C575.97 817.44 576.63 815.35 577.30 813.38C577.97 811.41 578.63 809.50 579.30 807.70C579.97 805.90 580.63 804.22 581.30 802.60C581.97 800.98 582.63 799.45 583.30 797.96C583.97 796.47 584.63 795.05 585.30 793.64C585.97 792.23 586.63 790.88 587.30 789.51C587.97 788.14 588.63 786.79 589.30 785.41C589.97 784.03 590.63 782.65 591.30 781.22C591.97 779.79 592.63 778.30 593.30 776.84C593.97 775.38 594.63 773.88 595.30 772.49C595.97 771.10 596.77 769.50 597.30 768.50C597.83 767.50 598.30 766.83 598.50 766.50" stroke-width="1.7" shape-rendering="crispEdges"/>
</g>
<text x="115.48" y="45.80" font-size="13.50" textLength="42.88" lengthAdjust="spacingAndGlyphs">RPS-B</text>
<text x="166.73" y="45.80" font-size="13.50" textLength="97.49" lengthAdjust="spacingAndGlyphs">Unidirectional,</text>
<text x="268.16" y="45.80" font-size="13.50" textLength="71.31" lengthAdjust="spacingAndGlyphs">differential</text>
<text x="342.69" y="45.80" font-size="13.50" textLength="22.25" lengthAdjust="spacingAndGlyphs">flux</text>
<text x="367.00" y="45.80" font-size="13.50" textLength="16.00" lengthAdjust="spacingAndGlyphs">vs</text>
<text x="389.16" y="45.80" font-size="13.50" textLength="45.95" lengthAdjust="spacingAndGlyphs">energy</text>
<text x="439.54" y="45.80" font-size="13.50" textLength="67.68" lengthAdjust="spacingAndGlyphs">(Isotropic</text>
<text x="511.69" y="45.80" font-size="13.50" textLength="83.47" lengthAdjust="spacingAndGlyphs">assumption)</text>
<text x="227.38" y="397.90" font-size="13.50" textLength="27.77" lengthAdjust="spacingAndGlyphs">RPS</text>
<text x="263.58" y="397.90" font-size="13.50" textLength="36.23" lengthAdjust="spacingAndGlyphs">Dose</text>
<text x="304.57" y="397.90" font-size="13.50" textLength="27.14" lengthAdjust="spacingAndGlyphs">rate</text>
<text x="335.73" y="397.90" font-size="13.50" textLength="12.22" lengthAdjust="spacingAndGlyphs">in</text>
<text x="351.48" y="397.90" font-size="13.50" textLength="72.52" lengthAdjust="spacingAndGlyphs">Dosimeter</text>
<text x="428.52" y="397.90" font-size="13.50" textLength="8.93" lengthAdjust="spacingAndGlyphs">1</text>
<text x="441.04" y="397.90" font-size="13.50" textLength="42.12" lengthAdjust="spacingAndGlyphs">(front)</text>
<text x="125.28" y="555.70" font-size="13.50" textLength="68.59" lengthAdjust="spacingAndGlyphs">Equatorial</text>
<text x="197.37" y="555.70" font-size="13.50" textLength="34.87" lengthAdjust="spacingAndGlyphs">pitch</text>
<text x="236.29" y="555.70" font-size="13.50" textLength="37.23" lengthAdjust="spacingAndGlyphs">angle</text>
<text x="278.06" y="555.70" font-size="13.50" textLength="12.14" lengthAdjust="spacingAndGlyphs">of</text>
<text x="294.97" y="555.70" font-size="13.50" textLength="49.64" lengthAdjust="spacingAndGlyphs">particle</text>
<text x="349.33" y="555.70" font-size="13.50" textLength="27.21" lengthAdjust="spacingAndGlyphs">with</text>
<text x="380.55" y="555.70" font-size="13.50" textLength="18.05" lengthAdjust="spacingAndGlyphs">90</text>
<text x="402.96" y="555.70" font-size="13.50" textLength="49.66" lengthAdjust="spacingAndGlyphs">degree</text>
<text x="456.67" y="555.70" font-size="13.50" textLength="34.07" lengthAdjust="spacingAndGlyphs">pitch</text>
<text x="494.79" y="555.70" font-size="13.50" textLength="37.83" lengthAdjust="spacingAndGlyphs">angle</text>
<text x="536.63" y="555.70" font-size="13.50" textLength="12.22" lengthAdjust="spacingAndGlyphs">in</text>
<text x="552.94" y="555.70" font-size="13.50" textLength="31.12" lengthAdjust="spacingAndGlyphs">OPQ</text>
<text x="204.48" y="712.70" font-size="13.50" textLength="58.57" lengthAdjust="spacingAndGlyphs">McIlwain</text>
<text x="266.58" y="712.70" font-size="13.50" textLength="7.09" lengthAdjust="spacingAndGlyphs">L</text>
<text x="277.06" y="712.70" font-size="13.50" textLength="12.14" lengthAdjust="spacingAndGlyphs">of</text>
<text x="293.83" y="712.70" font-size="13.50" textLength="40.29" lengthAdjust="spacingAndGlyphs">locally</text>
<text x="338.47" y="712.70" font-size="13.50" textLength="62.35" lengthAdjust="spacingAndGlyphs">mirroring</text>
<text x="404.37" y="712.70" font-size="13.50" textLength="49.14" lengthAdjust="spacingAndGlyphs">particle</text>
<text x="457.53" y="712.70" font-size="13.50" textLength="11.82" lengthAdjust="spacingAndGlyphs">in</text>
<text x="473.44" y="712.70" font-size="13.50" textLength="31.32" lengthAdjust="spacingAndGlyphs">OPQ</text>
<text x="69.12 78.12" y="98.90" font-size="13.50">10</text>
<text x="87.12" y="91.70" font-size="13.50">3</text>
<text x="69.12 78.12" y="302.90" font-size="13.50">10</text>
<text x="87.12" y="295.70" font-size="13.50">2</text>
<text x="64.79 73.79" y="426.80" font-size="13.50">10</text>
<text x="82.79 87.79" y="419.60" font-size="13.50">-3</text>
<text x="64.47 73.47" y="453.47" font-size="13.50">10</text>
<text x="82.47 87.47" y="446.27" font-size="13.50">-4</text>
<text x="64.89 73.89" y="480.13" font-size="13.50">10</text>
<text x="82.89 87.89" y="472.93" font-size="13.50">-5</text>
<text x="64.56 73.56" y="506.80" font-size="13.50">10</text>
<text x="82.56 87.56" y="499.60" font-size="13.50">-6</text>
<text x="74.27 83.27 92.27" y="674.90" font-size="13.50">50.</text>
<text x="74.27 83.27 92.27" y="662.40" font-size="13.50">55.</text>
<text x="74.27 83.27 92.27" y="649.90" font-size="13.50">60.</text>
<text x="74.27 83.27 92.27" y="637.40" font-size="13.50">65.</text>
<text x="74.27 83.27 92.27" y="624.90" font-size="13.50">70.</text>
<text x="74.27 83.27 92.27" y="612.40" font-size="13.50">75.</text>
<text x="74.27 83.27 92.27" y="599.90" font-size="13.50">80.</text>
<text x="74.27 83.27 92.27" y="587.40" font-size="13.50">85.</text>
<text x="74.27 83.27 92.27" y="574.90" font-size="13.50">90.</text>
<text x="83.37 92.37" y="859.80" font-size="13.50">1.</text>
<text x="83.37 92.37" y="835.60" font-size="13.50">2.</text>
<text x="83.37 92.37" y="811.40" font-size="13.50">3.</text>
<text x="83.37 92.37" y="787.20" font-size="13.50">4.</text>
<text x="83.37 92.37" y="763.00" font-size="13.50">5.</text>
<text x="83.37 92.37" y="738.80" font-size="13.50">6.</text>
<text x="641.52 650.52" y="119.80" font-size="13.50">10</text>
<text x="659.52" y="112.60" font-size="13.50">2</text>
<text x="641.52 650.52" y="189.80" font-size="13.50">10</text>
<text x="659.52" y="182.60" font-size="13.50">0</text>
<text x="641.52 650.52" y="259.80" font-size="13.50">10</text>
<text x="659.52 664.52" y="252.60" font-size="13.50">-2</text>
<text x="641.52 650.52" y="329.80" font-size="13.50">10</text>
<text x="659.52 664.52" y="322.60" font-size="13.50">-4</text>
<text transform="translate(55.1 259.9) rotate(-90)" font-size="13.5" x="-1.3" textLength="109.3">FPDI<tspan class="sm" font-size="10.3" dy="4.2">Energy</tspan><tspan dy="-4.2"> (MeV)</tspan></text>
<text transform="translate(52.1 494.8) rotate(-90)" font-size="13.5" x="-1.1" textLength="71.3">(rads/sec)</text>
<text transform="translate(56 652.8) rotate(-90)" font-size="13.5" x="-0.8" textLength="70.6">α<tspan dy="7">Eq</tspan><tspan dy="-7"> (deg)</tspan></text>
<text transform="translate(65.1 811.9) rotate(-90)" font-size="13.5" x="-1.3" textLength="41.1">L (R<tspan dy="6.8">E</tspan><tspan dy="-6.8">)</tspan></text>
<text transform="translate(684.9 121.5) rotate(90)" font-size="13.5" x="-1.3" textLength="172.1">FPDI (#/cm^2/s/sr/MeV)</text>
<text x="92.21 101.21 110.21 115.21 124.21" y="890.90" font-size="13.50">00:00</text>
<text x="93.26 102.26 106.26 115.26 124.26" y="908.00" font-size="13.50">5.769</text>
<text x="79.21 84.21 93.21 102.21 106.21 115.21 124.21" y="924.80" font-size="13.50">-13.940</text>
<text x="93.07 102.07 106.07 115.07 124.07" y="941.90" font-size="13.50">5.924</text>
<text x="93.07 102.07 106.07 115.07 124.07" y="958.90" font-size="13.50">6.124</text>
<text x="213.96 222.96 231.96 236.96 245.96" y="890.90" font-size="13.50">06:00</text>
<text x="214.99 223.99 227.99 236.99 245.99" y="908.00" font-size="13.50">4.388</text>
<text x="210.01 215.01 224.01 228.01 237.01 246.01" y="924.80" font-size="13.50">-1.089</text>
<text x="214.91 223.91 227.91 236.91 245.91" y="941.90" font-size="13.50">3.166</text>
<text x="214.96 223.96 227.96 236.96 245.96" y="958.90" font-size="13.50">4.390</text>
<text x="335.41 344.41 353.41 358.41 367.41" y="890.90" font-size="13.50">12:00</text>
<text x="336.44 345.44 349.44 358.44 367.44" y="908.00" font-size="13.50">3.158</text>
<text x="327.41 336.41 345.41 349.41 358.41 367.41" y="924.80" font-size="13.50">11.900</text>
<text x="336.76 345.76 349.76 358.76 367.76" y="941.90" font-size="13.50">8.601</text>
<text x="336.44 345.44 349.44 358.44 367.44" y="958.90" font-size="13.50">3.298</text>
<text x="457.16 466.16 475.16 480.16 489.16" y="890.90" font-size="13.50">18:00</text>
<text x="458.12 467.12 471.12 480.12 489.12" y="908.00" font-size="13.50">5.786</text>
<text x="453.16 458.16 467.16 471.16 480.16 489.16" y="924.80" font-size="13.50">-8.760</text>
<text x="458.51 467.51 471.51 480.51 489.51" y="941.90" font-size="13.50">5.801</text>
<text x="458.02 467.02 471.02 480.02 489.02" y="958.90" font-size="13.50">5.924</text>
<text x="579.21 588.21 597.21 602.21 611.21" y="890.90" font-size="13.50">00:00</text>
<text x="580.56 589.56 593.56 602.56 611.56" y="908.00" font-size="13.50">4.261</text>
<text x="566.21 571.21 580.21 589.21 593.21 602.21 611.21" y="924.80" font-size="13.50">-13.960</text>
<text x="580.24 589.24 593.24 602.24 611.24" y="941.90" font-size="13.50">3.218</text>
<text x="580.49 589.49 593.49 602.49 611.49" y="958.90" font-size="13.50">4.525</text>
<text x="55.37" y="906" font-size="13.5">R</text>
<text class="sm" x="65.97" y="909.9" font-size="9.5">E</text>
<text x="38.83 50.83 58.83 66.83" y="923.00" font-size="13.50">MLat</text>
<text x="43.51 55.51 63.51" y="940.00" font-size="13.50">MLT</text>
<text x="64.35" y="956.90" font-size="13.50">L</text>
<text x="294.15 303.15 312.15 321.15 330.15 335.15 344.15 353.15 358.15 367.15 376.15 380.15 385.15 394.15 403.15 412.15" y="978.30" font-size="13.50">2016-06-08 (160)</text>
</svg></body></html>
